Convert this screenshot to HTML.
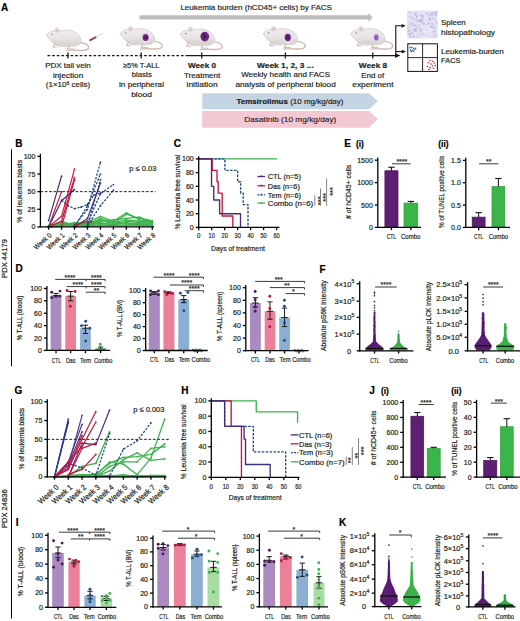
<!DOCTYPE html>
<html><head><meta charset="utf-8"><style>
html,body{margin:0;padding:0;background:#fff;}
svg{display:block;font-family:"Liberation Sans", sans-serif;}

</style></head><body>
<svg width="520" height="621" viewBox="0 0 520 621">
<defs><linearGradient id="mg" x1="0" y1="0" x2="0" y2="1"><stop offset="0" stop-color="#f1eeee"/><stop offset="0.55" stop-color="#e7e3e3"/><stop offset="1" stop-color="#d2cac9"/></linearGradient></defs>
<rect width="520" height="621" fill="#fff"/>
<text x="1" y="10.6" font-size="10" text-anchor="start" fill="#000" stroke="#000" stroke-width="0.17" font-weight="bold">A</text>
<text x="180.4" y="9.6" font-size="7.4" text-anchor="start" fill="#231f20" stroke="#231f20" stroke-width="0.17" textLength="151.6" lengthAdjust="spacingAndGlyphs">Leukemia burden (hCD45+ cells) by FACS</text>
<path d="M139.5,15.3 L368.5,15.3 L368.5,12.6 L372.6,17.4 L368.5,22 L368.5,19.6 L139.5,19.6 Z" fill="#bdbdc0"/>
<g transform="translate(46.7,35.0)">
<path d="M32,7.5 C38,7.5 42.5,10 41.8,13 C41,15.8 36,15.6 29,15.2 C25,15 22,15.2 20,15.6" fill="none" stroke="#d3b9b3" stroke-width="1.3" stroke-linecap="round"/>
<path d="M0,0 C1,-1.8 3.5,-3.4 6.5,-4 C9,-4.6 11,-4.4 13,-4.2 C18,-5.4 24,-5.2 28,-3 C32,-1 34.3,2.5 34.2,6 C34,9 31.5,11 27.5,11.2 L14,11.4 C11,11.3 8.5,10 6.5,8 C4.5,6 2,3.5 0,0 Z" fill="url(#mg)" stroke="#c6bcbb" stroke-width="0.6"/>
<path d="M24,10.8 C29,10.8 33.5,9 34,5 C34.6,8.6 31.8,11.2 27,11.3 Z" fill="#e3dcd4"/>
<path d="M12,11 C16,11.6 22,11.6 26,11 L26,10 C21,10.6 16,10.5 12,10 Z" fill="#e2dcdc"/>
<path d="M8,9 L6.4,11.8 L10,12.3" fill="none" stroke="#d6b8b2" stroke-width="1.1" stroke-linecap="round"/>
<path d="M22.5,10.8 L21,13.8 L27.5,14.1" fill="none" stroke="#d6b8b2" stroke-width="1.1" stroke-linecap="round"/>
<ellipse cx="10.2" cy="-4.8" rx="2.1" ry="2.4" fill="#ebdedd" stroke="#d3c3c2" stroke-width="0.5"/>
<ellipse cx="10.4" cy="-4.4" rx="1.1" ry="1.4" fill="#dcc4c4"/>
<circle cx="5.4" cy="-0.6" r="0.7" fill="#7b6c6c"/>
<circle cx="0.4" cy="0.4" r="0.6" fill="#dab8b8"/>
</g>
<line x1="89.50" y1="40.60" x2="96.30" y2="36.90" stroke="#8f4d47" stroke-width="2.0" stroke-linecap="butt"/>
<line x1="96.30" y1="36.90" x2="103.20" y2="33.00" stroke="#d6c4c4" stroke-width="0.9" stroke-linecap="butt"/>
<g transform="translate(120.3,33.6)">
<path d="M32,7.5 C38,7.5 42.5,10 41.8,13 C41,15.8 36,15.6 29,15.2 C25,15 22,15.2 20,15.6" fill="none" stroke="#d3b9b3" stroke-width="1.3" stroke-linecap="round"/>
<path d="M0,0 C1,-1.8 3.5,-3.4 6.5,-4 C9,-4.6 11,-4.4 13,-4.2 C18,-5.4 24,-5.2 28,-3 C32,-1 34.3,2.5 34.2,6 C34,9 31.5,11 27.5,11.2 L14,11.4 C11,11.3 8.5,10 6.5,8 C4.5,6 2,3.5 0,0 Z" fill="url(#mg)" stroke="#c6bcbb" stroke-width="0.6"/>
<path d="M24,10.8 C29,10.8 33.5,9 34,5 C34.6,8.6 31.8,11.2 27,11.3 Z" fill="#e3dcd4"/>
<path d="M12,11 C16,11.6 22,11.6 26,11 L26,10 C21,10.6 16,10.5 12,10 Z" fill="#e2dcdc"/>
<path d="M8,9 L6.4,11.8 L10,12.3" fill="none" stroke="#d6b8b2" stroke-width="1.1" stroke-linecap="round"/>
<path d="M22.5,10.8 L21,13.8 L27.5,14.1" fill="none" stroke="#d6b8b2" stroke-width="1.1" stroke-linecap="round"/>
<ellipse cx="10.2" cy="-4.8" rx="2.1" ry="2.4" fill="#ebdedd" stroke="#d3c3c2" stroke-width="0.5"/>
<ellipse cx="10.4" cy="-4.4" rx="1.1" ry="1.4" fill="#dcc4c4"/>
<circle cx="5.4" cy="-0.6" r="0.7" fill="#7b6c6c"/>
<circle cx="0.4" cy="0.4" r="0.6" fill="#dab8b8"/>
<ellipse cx="25.3" cy="3.9" rx="5.2" ry="5.800000000000001" fill="#ecdcec"/>
<ellipse cx="25.3" cy="3.9" rx="3.0" ry="3.6" fill="#6b2c7e"/>
<circle cx="25.18" cy="4.19" r="1.05" fill="#4a1660" opacity="0.55"/>
<circle cx="25.22" cy="3.77" r="1.05" fill="#4a1660" opacity="0.55"/>
<circle cx="24.66" cy="3.72" r="1.05" fill="#4a1660" opacity="0.55"/>
<circle cx="26.15" cy="4.29" r="1.05" fill="#4a1660" opacity="0.55"/>
<circle cx="26.06" cy="4.12" r="1.05" fill="#4a1660" opacity="0.55"/>
<circle cx="25.45" cy="3.98" r="1.05" fill="#4a1660" opacity="0.55"/>
<circle cx="23.98" cy="4.72" r="1.05" fill="#4a1660" opacity="0.55"/>
</g>
<g transform="translate(180.3,34.1)">
<path d="M32,7.5 C38,7.5 42.5,10 41.8,13 C41,15.8 36,15.6 29,15.2 C25,15 22,15.2 20,15.6" fill="none" stroke="#d3b9b3" stroke-width="1.3" stroke-linecap="round"/>
<path d="M0,0 C1,-1.8 3.5,-3.4 6.5,-4 C9,-4.6 11,-4.4 13,-4.2 C18,-5.4 24,-5.2 28,-3 C32,-1 34.3,2.5 34.2,6 C34,9 31.5,11 27.5,11.2 L14,11.4 C11,11.3 8.5,10 6.5,8 C4.5,6 2,3.5 0,0 Z" fill="url(#mg)" stroke="#c6bcbb" stroke-width="0.6"/>
<path d="M24,10.8 C29,10.8 33.5,9 34,5 C34.6,8.6 31.8,11.2 27,11.3 Z" fill="#e3dcd4"/>
<path d="M12,11 C16,11.6 22,11.6 26,11 L26,10 C21,10.6 16,10.5 12,10 Z" fill="#e2dcdc"/>
<path d="M8,9 L6.4,11.8 L10,12.3" fill="none" stroke="#d6b8b2" stroke-width="1.1" stroke-linecap="round"/>
<path d="M22.5,10.8 L21,13.8 L27.5,14.1" fill="none" stroke="#d6b8b2" stroke-width="1.1" stroke-linecap="round"/>
<ellipse cx="10.2" cy="-4.8" rx="2.1" ry="2.4" fill="#ebdedd" stroke="#d3c3c2" stroke-width="0.5"/>
<ellipse cx="10.4" cy="-4.4" rx="1.1" ry="1.4" fill="#dcc4c4"/>
<circle cx="5.4" cy="-0.6" r="0.7" fill="#7b6c6c"/>
<circle cx="0.4" cy="0.4" r="0.6" fill="#dab8b8"/>
<ellipse cx="24.5" cy="2.5" rx="4.4" ry="4.8" fill="#732a86"/>
<circle cx="24.92" cy="2.95" r="1.54" fill="#4a1660" opacity="0.55"/>
<circle cx="22.75" cy="0.54" r="1.54" fill="#4a1660" opacity="0.55"/>
<circle cx="23.57" cy="1.97" r="1.54" fill="#4a1660" opacity="0.55"/>
<circle cx="24.62" cy="2.48" r="1.54" fill="#4a1660" opacity="0.55"/>
<circle cx="24.98" cy="1.85" r="1.54" fill="#4a1660" opacity="0.55"/>
<circle cx="24.69" cy="2.77" r="1.54" fill="#4a1660" opacity="0.55"/>
<circle cx="23.73" cy="4.69" r="1.54" fill="#4a1660" opacity="0.55"/>
</g>
<g transform="translate(263.3,33.6)">
<path d="M32,7.5 C38,7.5 42.5,10 41.8,13 C41,15.8 36,15.6 29,15.2 C25,15 22,15.2 20,15.6" fill="none" stroke="#d3b9b3" stroke-width="1.3" stroke-linecap="round"/>
<path d="M0,0 C1,-1.8 3.5,-3.4 6.5,-4 C9,-4.6 11,-4.4 13,-4.2 C18,-5.4 24,-5.2 28,-3 C32,-1 34.3,2.5 34.2,6 C34,9 31.5,11 27.5,11.2 L14,11.4 C11,11.3 8.5,10 6.5,8 C4.5,6 2,3.5 0,0 Z" fill="url(#mg)" stroke="#c6bcbb" stroke-width="0.6"/>
<path d="M24,10.8 C29,10.8 33.5,9 34,5 C34.6,8.6 31.8,11.2 27,11.3 Z" fill="#e3dcd4"/>
<path d="M12,11 C16,11.6 22,11.6 26,11 L26,10 C21,10.6 16,10.5 12,10 Z" fill="#e2dcdc"/>
<path d="M8,9 L6.4,11.8 L10,12.3" fill="none" stroke="#d6b8b2" stroke-width="1.1" stroke-linecap="round"/>
<path d="M22.5,10.8 L21,13.8 L27.5,14.1" fill="none" stroke="#d6b8b2" stroke-width="1.1" stroke-linecap="round"/>
<ellipse cx="10.2" cy="-4.8" rx="2.1" ry="2.4" fill="#ebdedd" stroke="#d3c3c2" stroke-width="0.5"/>
<ellipse cx="10.4" cy="-4.4" rx="1.1" ry="1.4" fill="#dcc4c4"/>
<circle cx="5.4" cy="-0.6" r="0.7" fill="#7b6c6c"/>
<circle cx="0.4" cy="0.4" r="0.6" fill="#dab8b8"/>
<ellipse cx="24.5" cy="3.9" rx="5.300000000000001" ry="5.9" fill="#ecdcec"/>
<ellipse cx="24.5" cy="3.9" rx="3.1" ry="3.7" fill="#6b2c7e"/>
<circle cx="24.96" cy="5.07" r="1.08" fill="#4a1660" opacity="0.55"/>
<circle cx="24.05" cy="3.27" r="1.08" fill="#4a1660" opacity="0.55"/>
<circle cx="24.39" cy="3.86" r="1.08" fill="#4a1660" opacity="0.55"/>
<circle cx="24.86" cy="4.07" r="1.08" fill="#4a1660" opacity="0.55"/>
<circle cx="24.16" cy="3.04" r="1.08" fill="#4a1660" opacity="0.55"/>
<circle cx="24.07" cy="5.10" r="1.08" fill="#4a1660" opacity="0.55"/>
<circle cx="23.97" cy="4.09" r="1.08" fill="#4a1660" opacity="0.55"/>
</g>
<g transform="translate(350.8,33.6)">
<path d="M32,7.5 C38,7.5 42.5,10 41.8,13 C41,15.8 36,15.6 29,15.2 C25,15 22,15.2 20,15.6" fill="none" stroke="#d3b9b3" stroke-width="1.3" stroke-linecap="round"/>
<path d="M0,0 C1,-1.8 3.5,-3.4 6.5,-4 C9,-4.6 11,-4.4 13,-4.2 C18,-5.4 24,-5.2 28,-3 C32,-1 34.3,2.5 34.2,6 C34,9 31.5,11 27.5,11.2 L14,11.4 C11,11.3 8.5,10 6.5,8 C4.5,6 2,3.5 0,0 Z" fill="url(#mg)" stroke="#c6bcbb" stroke-width="0.6"/>
<path d="M24,10.8 C29,10.8 33.5,9 34,5 C34.6,8.6 31.8,11.2 27,11.3 Z" fill="#e3dcd4"/>
<path d="M12,11 C16,11.6 22,11.6 26,11 L26,10 C21,10.6 16,10.5 12,10 Z" fill="#e2dcdc"/>
<path d="M8,9 L6.4,11.8 L10,12.3" fill="none" stroke="#d6b8b2" stroke-width="1.1" stroke-linecap="round"/>
<path d="M22.5,10.8 L21,13.8 L27.5,14.1" fill="none" stroke="#d6b8b2" stroke-width="1.1" stroke-linecap="round"/>
<ellipse cx="10.2" cy="-4.8" rx="2.1" ry="2.4" fill="#ebdedd" stroke="#d3c3c2" stroke-width="0.5"/>
<ellipse cx="10.4" cy="-4.4" rx="1.1" ry="1.4" fill="#dcc4c4"/>
<circle cx="5.4" cy="-0.6" r="0.7" fill="#7b6c6c"/>
<circle cx="0.4" cy="0.4" r="0.6" fill="#dab8b8"/>
<ellipse cx="25.5" cy="3.9" rx="4.4" ry="5.300000000000001" fill="#e2d8ee"/>
<ellipse cx="25.5" cy="3.9" rx="2.2" ry="3.1" fill="#8a64a8"/>
</g>
<line x1="47.50" y1="55.60" x2="188.00" y2="55.60" stroke="#1a1a1a" stroke-width="1.3" stroke-dasharray="2.7,1.9" stroke-linecap="butt"/>
<line x1="188.00" y1="55.60" x2="396.00" y2="55.60" stroke="#1a1a1a" stroke-width="1.3" stroke-linecap="butt"/>
<path d="M395,53.2 L400.3,55.6 L395,58.1 Z" fill="#111"/>
<line x1="68.00" y1="52.40" x2="68.00" y2="58.50" stroke="#1a1a1a" stroke-width="1.3" stroke-linecap="butt"/>
<line x1="141.20" y1="52.40" x2="141.20" y2="58.50" stroke="#1a1a1a" stroke-width="1.3" stroke-linecap="butt"/>
<line x1="201.70" y1="52.40" x2="201.70" y2="58.50" stroke="#1a1a1a" stroke-width="1.3" stroke-linecap="butt"/>
<line x1="285.40" y1="52.40" x2="285.40" y2="58.50" stroke="#1a1a1a" stroke-width="1.3" stroke-linecap="butt"/>
<line x1="372.80" y1="52.40" x2="372.80" y2="58.50" stroke="#1a1a1a" stroke-width="1.3" stroke-linecap="butt"/>
<path d="M395.8,55.6 L395.8,25.8 L402.5,25.8" fill="none" stroke="#111" stroke-width="1.1"/>
<path d="M401.6,23.9 L405.6,25.8 L401.6,27.8 Z" fill="#111"/>
<path d="M395.8,51.6 L402.5,51.6" fill="none" stroke="#111" stroke-width="1.1"/>
<path d="M401.8,49.8 L405.8,51.6 L401.8,53.4 Z" fill="#111"/>
<text x="68.0" y="68.2" font-size="7.3" text-anchor="middle" fill="#231f20" stroke="#231f20" stroke-width="0.17" textLength="45.6" lengthAdjust="spacingAndGlyphs">PDX tail vein</text>
<text x="68.1" y="77.6" font-size="7.3" text-anchor="middle" fill="#231f20" stroke="#231f20" stroke-width="0.17" textLength="30.4" lengthAdjust="spacingAndGlyphs">injection</text>
<text x="68.0" y="87.4" font-size="7.3" text-anchor="middle" fill="#231f20" stroke="#231f20" stroke-width="0.17" textLength="44.4" lengthAdjust="spacingAndGlyphs">(1×10<tspan font-size="4.6" dy="-2.9">6</tspan><tspan dy="2.9"> cells)</tspan></text>
<text x="141.2" y="67.9" font-size="7.3" text-anchor="middle" fill="#231f20" stroke="#231f20" stroke-width="0.17" textLength="36.3" lengthAdjust="spacingAndGlyphs">≥5% T-ALL</text>
<text x="141.8" y="77.2" font-size="7.3" text-anchor="middle" fill="#231f20" stroke="#231f20" stroke-width="0.17" textLength="20.2" lengthAdjust="spacingAndGlyphs">blasts</text>
<text x="141.5" y="86.9" font-size="7.3" text-anchor="middle" fill="#231f20" stroke="#231f20" stroke-width="0.17" textLength="45.0" lengthAdjust="spacingAndGlyphs">in peripheral</text>
<text x="141.5" y="96.6" font-size="7.3" text-anchor="middle" fill="#231f20" stroke="#231f20" stroke-width="0.17" textLength="20.7" lengthAdjust="spacingAndGlyphs">blood</text>
<text x="202.0" y="67.9" font-size="7.3" text-anchor="middle" fill="#231f20" stroke="#231f20" stroke-width="0.17" font-weight="bold" textLength="28.1" lengthAdjust="spacingAndGlyphs">Week 0</text>
<text x="202.1" y="77.6" font-size="7.3" text-anchor="middle" fill="#231f20" stroke="#231f20" stroke-width="0.17" textLength="36.2" lengthAdjust="spacingAndGlyphs">Treatment</text>
<text x="202.1" y="87.4" font-size="7.3" text-anchor="middle" fill="#231f20" stroke="#231f20" stroke-width="0.17" textLength="31.2" lengthAdjust="spacingAndGlyphs">initiation</text>
<text x="285.4" y="67.9" font-size="7.3" text-anchor="middle" fill="#231f20" stroke="#231f20" stroke-width="0.17" font-weight="bold" textLength="56.8" lengthAdjust="spacingAndGlyphs">Week 1, 2, 3 ...</text>
<text x="285.6" y="77.4" font-size="7.3" text-anchor="middle" fill="#231f20" stroke="#231f20" stroke-width="0.17" textLength="88.8" lengthAdjust="spacingAndGlyphs">Weekly health and FACS</text>
<text x="285.6" y="87.2" font-size="7.3" text-anchor="middle" fill="#231f20" stroke="#231f20" stroke-width="0.17" textLength="100.3" lengthAdjust="spacingAndGlyphs">analysis of peripheral blood</text>
<text x="373.0" y="67.9" font-size="7.3" text-anchor="middle" fill="#231f20" stroke="#231f20" stroke-width="0.17" font-weight="bold" textLength="28.3" lengthAdjust="spacingAndGlyphs">Week 8</text>
<text x="372.7" y="77.6" font-size="7.3" text-anchor="middle" fill="#231f20" stroke="#231f20" stroke-width="0.17" textLength="23.0" lengthAdjust="spacingAndGlyphs">End of</text>
<text x="372.9" y="87.4" font-size="7.3" text-anchor="middle" fill="#231f20" stroke="#231f20" stroke-width="0.17" textLength="41.3" lengthAdjust="spacingAndGlyphs">experiment</text>
<path d="M202.2,93.3 L369,93.3 L377.8,101.2 L369,109.2 L202.2,109.2 Z" fill="#c5d4e2"/>
<path d="M202.2,111 L369,111 L377.8,119.3 L369,127.7 L202.2,127.7 Z" fill="#f2c9d2"/>
<text x="236.5" y="103.6" font-size="7.3" text-anchor="start" fill="#231f20" stroke="#231f20" stroke-width="0.17" textLength="107" lengthAdjust="spacingAndGlyphs"><tspan font-weight="bold">Temsirolimus</tspan> (10 mg/kg/day)</text>
<text x="244.3" y="121.6" font-size="7.3" text-anchor="start" fill="#3a2228" stroke="#3a2228" stroke-width="0.17" textLength="92" lengthAdjust="spacingAndGlyphs">Dasatinib (10 mg/kg/day)</text>
<rect x="407.10" y="10.60" width="30.70" height="27.90" fill="#e6e3f3" stroke="none" stroke-width="0"/>
<ellipse cx="430.9" cy="29.8" rx="0.8" ry="0.9" fill="#f4f3fa" opacity="0.75"/>
<ellipse cx="422.1" cy="20.2" rx="1.1" ry="0.9" fill="#c4bee6" opacity="0.75"/>
<ellipse cx="411.1" cy="22.2" rx="1.5" ry="0.5" fill="#d8d4ef" opacity="0.75"/>
<ellipse cx="420.0" cy="36.9" rx="0.6" ry="0.8" fill="#b9b2e0" opacity="0.75"/>
<ellipse cx="417.6" cy="20.4" rx="1.1" ry="1.0" fill="#c4bee6" opacity="0.75"/>
<ellipse cx="432.2" cy="36.4" rx="1.1" ry="0.9" fill="#c4bee6" opacity="0.75"/>
<ellipse cx="429.0" cy="19.3" rx="1.3" ry="0.9" fill="#d8d4ef" opacity="0.75"/>
<ellipse cx="415.9" cy="21.3" rx="1.4" ry="0.4" fill="#d8d4ef" opacity="0.75"/>
<ellipse cx="418.0" cy="27.4" rx="1.1" ry="0.6" fill="#b9b2e0" opacity="0.75"/>
<ellipse cx="411.4" cy="17.6" rx="1.0" ry="1.1" fill="#c4bee6" opacity="0.75"/>
<ellipse cx="412.5" cy="21.7" rx="0.9" ry="0.5" fill="#d8d4ef" opacity="0.75"/>
<ellipse cx="432.9" cy="18.4" rx="1.0" ry="0.7" fill="#d8d4ef" opacity="0.75"/>
<ellipse cx="435.7" cy="15.0" rx="0.7" ry="0.6" fill="#cdc8ea" opacity="0.75"/>
<ellipse cx="408.0" cy="33.3" rx="0.7" ry="0.6" fill="#cdc8ea" opacity="0.75"/>
<ellipse cx="419.9" cy="20.9" rx="1.2" ry="1.2" fill="#aea6db" opacity="0.75"/>
<ellipse cx="432.8" cy="36.6" rx="1.4" ry="1.0" fill="#d8d4ef" opacity="0.75"/>
<ellipse cx="434.0" cy="32.0" rx="1.6" ry="1.0" fill="#d8d4ef" opacity="0.75"/>
<ellipse cx="419.3" cy="21.5" rx="1.1" ry="0.7" fill="#cdc8ea" opacity="0.75"/>
<ellipse cx="409.6" cy="16.5" rx="0.7" ry="0.7" fill="#c4bee6" opacity="0.75"/>
<ellipse cx="410.6" cy="26.2" rx="1.2" ry="1.2" fill="#f4f3fa" opacity="0.75"/>
<ellipse cx="408.3" cy="34.5" rx="1.3" ry="0.5" fill="#b9b2e0" opacity="0.75"/>
<ellipse cx="435.6" cy="27.2" rx="1.1" ry="0.5" fill="#d8d4ef" opacity="0.75"/>
<ellipse cx="436.7" cy="23.5" rx="0.8" ry="0.5" fill="#c4bee6" opacity="0.75"/>
<ellipse cx="429.6" cy="30.9" rx="1.1" ry="1.0" fill="#f4f3fa" opacity="0.75"/>
<ellipse cx="408.3" cy="36.6" rx="1.2" ry="0.5" fill="#f4f3fa" opacity="0.75"/>
<ellipse cx="434.4" cy="31.4" rx="0.9" ry="0.9" fill="#c4bee6" opacity="0.75"/>
<ellipse cx="428.0" cy="18.0" rx="1.0" ry="0.5" fill="#cdc8ea" opacity="0.75"/>
<ellipse cx="423.2" cy="31.9" rx="0.9" ry="0.6" fill="#cdc8ea" opacity="0.75"/>
<ellipse cx="431.2" cy="33.0" rx="1.5" ry="0.6" fill="#f4f3fa" opacity="0.75"/>
<ellipse cx="422.0" cy="30.6" rx="1.8" ry="1.0" fill="#d8d4ef" opacity="0.75"/>
<ellipse cx="415.2" cy="29.6" rx="1.7" ry="0.8" fill="#aea6db" opacity="0.75"/>
<ellipse cx="436.5" cy="36.7" rx="1.0" ry="0.6" fill="#cdc8ea" opacity="0.75"/>
<ellipse cx="421.4" cy="20.0" rx="1.1" ry="1.2" fill="#f4f3fa" opacity="0.75"/>
<ellipse cx="432.2" cy="23.8" rx="1.3" ry="1.0" fill="#c4bee6" opacity="0.75"/>
<ellipse cx="432.1" cy="14.1" rx="1.0" ry="1.0" fill="#cdc8ea" opacity="0.75"/>
<ellipse cx="421.6" cy="15.7" rx="1.5" ry="0.7" fill="#aea6db" opacity="0.75"/>
<ellipse cx="419.2" cy="21.7" rx="1.7" ry="1.0" fill="#cdc8ea" opacity="0.75"/>
<ellipse cx="436.7" cy="11.6" rx="0.8" ry="0.8" fill="#aea6db" opacity="0.75"/>
<ellipse cx="411.9" cy="33.2" rx="1.8" ry="0.9" fill="#b9b2e0" opacity="0.75"/>
<ellipse cx="412.2" cy="25.7" rx="0.5" ry="1.0" fill="#aea6db" opacity="0.75"/>
<ellipse cx="426.6" cy="25.1" rx="1.7" ry="0.7" fill="#cdc8ea" opacity="0.75"/>
<ellipse cx="431.8" cy="16.6" rx="0.8" ry="0.6" fill="#cdc8ea" opacity="0.75"/>
<ellipse cx="430.0" cy="19.7" rx="1.2" ry="1.1" fill="#c4bee6" opacity="0.75"/>
<ellipse cx="434.3" cy="20.5" rx="1.1" ry="0.9" fill="#f4f3fa" opacity="0.75"/>
<ellipse cx="419.9" cy="35.7" rx="1.2" ry="0.8" fill="#f4f3fa" opacity="0.75"/>
<ellipse cx="422.6" cy="34.5" rx="1.5" ry="0.9" fill="#cdc8ea" opacity="0.75"/>
<ellipse cx="412.6" cy="23.7" rx="1.4" ry="0.8" fill="#b9b2e0" opacity="0.75"/>
<ellipse cx="427.6" cy="25.2" rx="1.1" ry="1.0" fill="#f4f3fa" opacity="0.75"/>
<ellipse cx="409.3" cy="16.1" rx="0.6" ry="0.5" fill="#d8d4ef" opacity="0.75"/>
<ellipse cx="424.1" cy="31.4" rx="1.7" ry="0.8" fill="#f4f3fa" opacity="0.75"/>
<ellipse cx="436.1" cy="27.3" rx="0.8" ry="0.6" fill="#f4f3fa" opacity="0.75"/>
<ellipse cx="423.2" cy="23.8" rx="1.7" ry="1.0" fill="#b9b2e0" opacity="0.75"/>
<ellipse cx="434.6" cy="35.0" rx="0.8" ry="0.8" fill="#d8d4ef" opacity="0.75"/>
<ellipse cx="411.2" cy="22.8" rx="0.6" ry="0.6" fill="#c4bee6" opacity="0.75"/>
<ellipse cx="413.8" cy="19.1" rx="0.7" ry="1.0" fill="#aea6db" opacity="0.75"/>
<ellipse cx="426.5" cy="20.8" rx="0.8" ry="0.5" fill="#d8d4ef" opacity="0.75"/>
<ellipse cx="414.0" cy="36.6" rx="1.0" ry="0.8" fill="#aea6db" opacity="0.75"/>
<ellipse cx="432.0" cy="15.3" rx="1.1" ry="0.8" fill="#b9b2e0" opacity="0.75"/>
<ellipse cx="419.9" cy="20.5" rx="0.6" ry="0.7" fill="#b9b2e0" opacity="0.75"/>
<ellipse cx="423.8" cy="22.8" rx="0.5" ry="0.7" fill="#f4f3fa" opacity="0.75"/>
<ellipse cx="416.3" cy="36.8" rx="0.6" ry="1.1" fill="#cdc8ea" opacity="0.75"/>
<ellipse cx="436.1" cy="13.7" rx="0.8" ry="0.4" fill="#cdc8ea" opacity="0.75"/>
<ellipse cx="415.5" cy="14.4" rx="1.0" ry="1.1" fill="#b9b2e0" opacity="0.75"/>
<ellipse cx="419.5" cy="25.4" rx="1.2" ry="0.8" fill="#b9b2e0" opacity="0.75"/>
<ellipse cx="410.2" cy="12.5" rx="1.4" ry="0.7" fill="#c4bee6" opacity="0.75"/>
<ellipse cx="415.5" cy="11.4" rx="0.6" ry="0.6" fill="#f4f3fa" opacity="0.75"/>
<ellipse cx="432.7" cy="12.7" rx="1.6" ry="0.8" fill="#b9b2e0" opacity="0.75"/>
<ellipse cx="436.7" cy="22.2" rx="0.8" ry="0.9" fill="#c4bee6" opacity="0.75"/>
<ellipse cx="423.0" cy="17.3" rx="0.6" ry="0.5" fill="#c4bee6" opacity="0.75"/>
<ellipse cx="412.9" cy="36.1" rx="1.3" ry="0.8" fill="#cdc8ea" opacity="0.75"/>
<ellipse cx="416.1" cy="24.4" rx="0.7" ry="0.7" fill="#c4bee6" opacity="0.75"/>
<ellipse cx="436.7" cy="11.9" rx="0.5" ry="0.8" fill="#cdc8ea" opacity="0.75"/>
<ellipse cx="422.7" cy="17.5" rx="1.1" ry="0.9" fill="#aea6db" opacity="0.75"/>
<ellipse cx="420.3" cy="24.3" rx="1.6" ry="0.7" fill="#f4f3fa" opacity="0.75"/>
<ellipse cx="416.6" cy="16.7" rx="0.8" ry="0.6" fill="#aea6db" opacity="0.75"/>
<ellipse cx="429.0" cy="14.7" rx="1.8" ry="1.2" fill="#cdc8ea" opacity="0.75"/>
<ellipse cx="408.0" cy="27.8" rx="1.0" ry="0.7" fill="#c4bee6" opacity="0.75"/>
<ellipse cx="410.1" cy="33.6" rx="1.6" ry="0.9" fill="#b9b2e0" opacity="0.75"/>
<ellipse cx="425.1" cy="29.6" rx="0.6" ry="0.5" fill="#b9b2e0" opacity="0.75"/>
<ellipse cx="420.7" cy="18.0" rx="1.8" ry="1.2" fill="#f4f3fa" opacity="0.75"/>
<ellipse cx="417.1" cy="11.8" rx="1.6" ry="0.6" fill="#cdc8ea" opacity="0.75"/>
<ellipse cx="407.6" cy="21.2" rx="0.6" ry="0.8" fill="#cdc8ea" opacity="0.75"/>
<ellipse cx="414.9" cy="31.9" rx="0.6" ry="1.1" fill="#cdc8ea" opacity="0.75"/>
<ellipse cx="419.3" cy="12.0" rx="0.5" ry="0.6" fill="#cdc8ea" opacity="0.75"/>
<ellipse cx="410.1" cy="36.8" rx="1.6" ry="0.5" fill="#aea6db" opacity="0.75"/>
<ellipse cx="430.6" cy="27.0" rx="1.5" ry="1.0" fill="#d8d4ef" opacity="0.75"/>
<ellipse cx="412.0" cy="30.5" rx="1.3" ry="0.4" fill="#aea6db" opacity="0.75"/>
<ellipse cx="433.7" cy="27.8" rx="1.5" ry="1.0" fill="#cdc8ea" opacity="0.75"/>
<ellipse cx="434.3" cy="31.2" rx="1.2" ry="1.1" fill="#c4bee6" opacity="0.75"/>
<ellipse cx="431.8" cy="26.7" rx="1.7" ry="0.9" fill="#aea6db" opacity="0.75"/>
<ellipse cx="426.4" cy="13.2" rx="0.6" ry="0.9" fill="#c4bee6" opacity="0.75"/>
<ellipse cx="418.6" cy="23.1" rx="0.6" ry="0.4" fill="#f4f3fa" opacity="0.75"/>
<ellipse cx="427.5" cy="24.1" rx="0.5" ry="1.0" fill="#aea6db" opacity="0.75"/>
<ellipse cx="434.9" cy="35.1" rx="0.6" ry="0.8" fill="#aea6db" opacity="0.75"/>
<ellipse cx="429.2" cy="17.7" rx="0.6" ry="0.6" fill="#aea6db" opacity="0.75"/>
<ellipse cx="429.8" cy="17.1" rx="1.3" ry="0.8" fill="#d8d4ef" opacity="0.75"/>
<ellipse cx="409.8" cy="35.5" rx="0.9" ry="0.4" fill="#aea6db" opacity="0.75"/>
<ellipse cx="426.4" cy="13.0" rx="0.7" ry="0.6" fill="#aea6db" opacity="0.75"/>
<ellipse cx="427.9" cy="27.7" rx="0.7" ry="0.8" fill="#d8d4ef" opacity="0.75"/>
<ellipse cx="415.5" cy="29.0" rx="1.4" ry="0.9" fill="#b9b2e0" opacity="0.75"/>
<ellipse cx="428.4" cy="18.6" rx="1.1" ry="1.0" fill="#f4f3fa" opacity="0.75"/>
<ellipse cx="413.4" cy="37.3" rx="1.7" ry="0.4" fill="#d8d4ef" opacity="0.75"/>
<ellipse cx="409.8" cy="24.6" rx="1.8" ry="1.2" fill="#d8d4ef" opacity="0.75"/>
<ellipse cx="413.7" cy="36.4" rx="0.8" ry="0.9" fill="#cdc8ea" opacity="0.75"/>
<ellipse cx="429.5" cy="18.0" rx="1.0" ry="0.9" fill="#aea6db" opacity="0.75"/>
<ellipse cx="422.5" cy="34.8" rx="1.4" ry="0.6" fill="#d8d4ef" opacity="0.75"/>
<ellipse cx="419.1" cy="15.2" rx="1.7" ry="0.9" fill="#d8d4ef" opacity="0.75"/>
<ellipse cx="416.4" cy="14.7" rx="0.9" ry="0.7" fill="#b9b2e0" opacity="0.75"/>
<ellipse cx="407.7" cy="31.2" rx="0.7" ry="0.5" fill="#cdc8ea" opacity="0.75"/>
<ellipse cx="428.5" cy="35.2" rx="0.9" ry="0.7" fill="#d8d4ef" opacity="0.75"/>
<ellipse cx="419.0" cy="34.4" rx="0.6" ry="1.1" fill="#b9b2e0" opacity="0.75"/>
<ellipse cx="432.6" cy="18.5" rx="0.6" ry="0.9" fill="#aea6db" opacity="0.75"/>
<ellipse cx="435.0" cy="17.6" rx="0.8" ry="0.8" fill="#cdc8ea" opacity="0.75"/>
<ellipse cx="430.3" cy="32.1" rx="1.1" ry="0.4" fill="#aea6db" opacity="0.75"/>
<ellipse cx="419.3" cy="34.5" rx="1.2" ry="0.6" fill="#c4bee6" opacity="0.75"/>
<ellipse cx="409.0" cy="30.7" rx="1.1" ry="1.0" fill="#aea6db" opacity="0.75"/>
<ellipse cx="433.1" cy="24.0" rx="1.7" ry="0.8" fill="#cdc8ea" opacity="0.75"/>
<ellipse cx="421.4" cy="20.2" rx="0.9" ry="1.0" fill="#aea6db" opacity="0.75"/>
<ellipse cx="415.2" cy="28.6" rx="0.9" ry="0.8" fill="#d8d4ef" opacity="0.75"/>
<ellipse cx="411.1" cy="28.3" rx="0.6" ry="0.8" fill="#d8d4ef" opacity="0.75"/>
<ellipse cx="423.7" cy="23.1" rx="0.9" ry="1.0" fill="#d8d4ef" opacity="0.75"/>
<ellipse cx="411.7" cy="16.1" rx="0.6" ry="0.7" fill="#c4bee6" opacity="0.75"/>
<ellipse cx="417.0" cy="20.8" rx="1.6" ry="0.6" fill="#c4bee6" opacity="0.75"/>
<ellipse cx="429.6" cy="22.0" rx="1.0" ry="0.8" fill="#d8d4ef" opacity="0.75"/>
<ellipse cx="415.5" cy="31.2" rx="1.1" ry="0.9" fill="#b9b2e0" opacity="0.75"/>
<ellipse cx="411.3" cy="24.5" rx="1.3" ry="1.1" fill="#cdc8ea" opacity="0.75"/>
<ellipse cx="410.3" cy="35.1" rx="1.0" ry="0.9" fill="#d8d4ef" opacity="0.75"/>
<ellipse cx="435.6" cy="33.8" rx="1.6" ry="0.4" fill="#c4bee6" opacity="0.75"/>
<ellipse cx="420.1" cy="31.5" rx="1.5" ry="1.2" fill="#d8d4ef" opacity="0.75"/>
<ellipse cx="407.6" cy="21.5" rx="0.6" ry="1.1" fill="#d8d4ef" opacity="0.75"/>
<ellipse cx="436.1" cy="17.6" rx="0.6" ry="0.5" fill="#f4f3fa" opacity="0.75"/>
<ellipse cx="436.1" cy="13.8" rx="1.4" ry="1.0" fill="#d8d4ef" opacity="0.75"/>
<ellipse cx="410.1" cy="31.9" rx="0.5" ry="0.5" fill="#f4f3fa" opacity="0.75"/>
<ellipse cx="434.6" cy="28.3" rx="0.9" ry="0.5" fill="#b9b2e0" opacity="0.75"/>
<ellipse cx="423.1" cy="22.7" rx="1.5" ry="0.5" fill="#b9b2e0" opacity="0.75"/>
<ellipse cx="423.0" cy="26.6" rx="1.0" ry="0.6" fill="#f4f3fa" opacity="0.75"/>
<ellipse cx="407.6" cy="25.4" rx="0.6" ry="0.6" fill="#b9b2e0" opacity="0.75"/>
<ellipse cx="426.5" cy="34.8" rx="1.1" ry="0.6" fill="#cdc8ea" opacity="0.75"/>
<ellipse cx="408.5" cy="22.0" rx="1.3" ry="0.4" fill="#cdc8ea" opacity="0.75"/>
<ellipse cx="422.2" cy="29.1" rx="1.0" ry="0.6" fill="#aea6db" opacity="0.75"/>
<ellipse cx="420.0" cy="20.9" rx="1.1" ry="1.0" fill="#aea6db" opacity="0.75"/>
<ellipse cx="419.9" cy="29.3" rx="0.8" ry="1.0" fill="#aea6db" opacity="0.75"/>
<ellipse cx="432.4" cy="12.7" rx="1.1" ry="0.6" fill="#cdc8ea" opacity="0.75"/>
<ellipse cx="414.4" cy="16.9" rx="1.5" ry="0.6" fill="#f4f3fa" opacity="0.75"/>
<ellipse cx="422.1" cy="16.0" rx="0.8" ry="0.7" fill="#aea6db" opacity="0.75"/>
<ellipse cx="409.3" cy="27.0" rx="1.7" ry="0.4" fill="#c4bee6" opacity="0.75"/>
<ellipse cx="436.1" cy="14.7" rx="0.6" ry="0.4" fill="#d8d4ef" opacity="0.75"/>
<ellipse cx="420.8" cy="30.1" rx="0.9" ry="0.5" fill="#c4bee6" opacity="0.75"/>
<ellipse cx="434.9" cy="19.8" rx="0.7" ry="1.1" fill="#aea6db" opacity="0.75"/>
<ellipse cx="421.3" cy="19.3" rx="1.4" ry="1.1" fill="#b9b2e0" opacity="0.75"/>
<ellipse cx="420.6" cy="13.8" rx="0.6" ry="0.5" fill="#d8d4ef" opacity="0.75"/>
<ellipse cx="435.6" cy="14.2" rx="1.8" ry="0.6" fill="#b9b2e0" opacity="0.75"/>
<ellipse cx="430.1" cy="19.2" rx="1.5" ry="0.5" fill="#aea6db" opacity="0.75"/>
<ellipse cx="421.5" cy="21.0" rx="1.7" ry="0.6" fill="#b9b2e0" opacity="0.75"/>
<ellipse cx="429.2" cy="23.7" rx="1.3" ry="0.6" fill="#aea6db" opacity="0.75"/>
<ellipse cx="430.1" cy="12.0" rx="0.5" ry="0.5" fill="#c4bee6" opacity="0.75"/>
<ellipse cx="415.1" cy="31.1" rx="1.7" ry="0.7" fill="#b9b2e0" opacity="0.75"/>
<ellipse cx="417.4" cy="36.7" rx="0.6" ry="1.0" fill="#aea6db" opacity="0.75"/>
<ellipse cx="416.9" cy="18.3" rx="0.5" ry="1.0" fill="#aea6db" opacity="0.75"/>
<ellipse cx="435.3" cy="12.7" rx="1.6" ry="0.5" fill="#aea6db" opacity="0.75"/>
<ellipse cx="435.6" cy="36.7" rx="1.0" ry="0.6" fill="#d8d4ef" opacity="0.75"/>
<ellipse cx="431.5" cy="14.5" rx="1.1" ry="0.4" fill="#aea6db" opacity="0.75"/>
<ellipse cx="416.5" cy="29.6" rx="0.7" ry="0.6" fill="#b9b2e0" opacity="0.75"/>
<ellipse cx="421.1" cy="32.1" rx="1.3" ry="0.8" fill="#d8d4ef" opacity="0.75"/>
<ellipse cx="429.7" cy="17.6" rx="0.6" ry="0.4" fill="#f4f3fa" opacity="0.75"/>
<ellipse cx="423.6" cy="15.2" rx="1.1" ry="0.5" fill="#c4bee6" opacity="0.75"/>
<ellipse cx="415.4" cy="13.2" rx="0.6" ry="0.8" fill="#aea6db" opacity="0.75"/>
<ellipse cx="436.1" cy="15.6" rx="0.7" ry="0.8" fill="#aea6db" opacity="0.75"/>
<ellipse cx="414.5" cy="25.4" rx="1.5" ry="1.0" fill="#b9b2e0" opacity="0.75"/>
<ellipse cx="416.2" cy="26.2" rx="1.0" ry="1.0" fill="#cdc8ea" opacity="0.75"/>
<rect x="407.80" y="43.80" width="29.60" height="27.60" fill="#fff" stroke="#111" stroke-width="1.0"/>
<line x1="422.60" y1="43.80" x2="422.60" y2="71.40" stroke="#111" stroke-width="0.9" stroke-linecap="butt"/>
<line x1="407.80" y1="57.60" x2="437.40" y2="57.60" stroke="#111" stroke-width="0.9" stroke-linecap="butt"/>
<circle cx="410.20" cy="47.60" r="0.8" fill="#2a5b9c"/>
<circle cx="411.80" cy="47.20" r="0.8" fill="#2a5b9c"/>
<circle cx="413.40" cy="48.20" r="0.8" fill="#2a5b9c"/>
<circle cx="410.60" cy="49.90" r="0.8" fill="#2a5b9c"/>
<circle cx="412.40" cy="50.60" r="0.8" fill="#2a5b9c"/>
<circle cx="414.60" cy="49.60" r="0.8" fill="#2a5b9c"/>
<circle cx="411.20" cy="51.40" r="0.8" fill="#2a5b9c"/>
<circle cx="415.60" cy="48.40" r="0.8" fill="#2a5b9c"/>
<circle cx="413.60" cy="51.20" r="0.8" fill="#2a5b9c"/>
<circle cx="430.00" cy="60.50" r="0.8" fill="#c0263d"/>
<circle cx="432.80" cy="61.20" r="0.8" fill="#c0263d"/>
<circle cx="428.20" cy="62.80" r="0.8" fill="#c0263d"/>
<circle cx="431.00" cy="64.00" r="0.8" fill="#c0263d"/>
<circle cx="434.20" cy="63.00" r="0.8" fill="#c0263d"/>
<circle cx="427.60" cy="66.50" r="0.8" fill="#c0263d"/>
<circle cx="430.20" cy="67.60" r="0.8" fill="#c0263d"/>
<circle cx="433.60" cy="68.20" r="0.8" fill="#c0263d"/>
<circle cx="435.20" cy="65.60" r="0.8" fill="#c0263d"/>
<circle cx="429.00" cy="69.60" r="0.8" fill="#c0263d"/>
<circle cx="432.40" cy="66.00" r="0.8" fill="#c0263d"/>
<text x="441" y="25.4" font-size="7.3" text-anchor="start" fill="#231f20" stroke="#231f20" stroke-width="0.17" textLength="24.8" lengthAdjust="spacingAndGlyphs">Spleen</text>
<text x="441" y="35.0" font-size="7.3" text-anchor="start" fill="#231f20" stroke="#231f20" stroke-width="0.17" textLength="54" lengthAdjust="spacingAndGlyphs">histopathology</text>
<text x="441" y="53.6" font-size="7.3" text-anchor="start" fill="#231f20" stroke="#231f20" stroke-width="0.17" textLength="62.8" lengthAdjust="spacingAndGlyphs">Leukemia-burden</text>
<text x="441" y="63.4" font-size="7.3" text-anchor="start" fill="#231f20" stroke="#231f20" stroke-width="0.17" textLength="19.5" lengthAdjust="spacingAndGlyphs">FACS</text>
<line x1="11.50" y1="149.40" x2="11.50" y2="366.20" stroke="#000" stroke-width="1" stroke-linecap="butt"/>
<line x1="11.50" y1="399.00" x2="11.50" y2="618.50" stroke="#000" stroke-width="1" stroke-linecap="butt"/>
<text x="7.1" y="258.5" font-size="7.6" text-anchor="middle" fill="#231f20" stroke="#231f20" stroke-width="0.2" transform="rotate(-90 7.1 258.5)">PDX 44179</text>
<text x="7.1" y="508.7" font-size="7.6" text-anchor="middle" fill="#231f20" stroke="#231f20" stroke-width="0.2" transform="rotate(-90 7.1 508.7)">PDX 24836</text>
<text x="15.2" y="147.2" font-size="10" text-anchor="start" fill="#000" stroke="#000" stroke-width="0.2" font-weight="bold">B</text>
<polyline points="48.60,226.90 61.56,224.78 74.52,225.49 87.48,224.78 100.44,223.38 113.40,224.08 126.36,222.67 139.32,224.78 152.28,224.78" fill="none" stroke="#3cb44b" stroke-width="1.3" stroke-linejoin="round"/>
<circle cx="48.60" cy="226.90" r="0.9" fill="#3cb44b"/>
<circle cx="61.56" cy="224.78" r="0.9" fill="#3cb44b"/>
<circle cx="74.52" cy="225.49" r="0.9" fill="#3cb44b"/>
<circle cx="87.48" cy="224.78" r="0.9" fill="#3cb44b"/>
<circle cx="100.44" cy="223.38" r="0.9" fill="#3cb44b"/>
<circle cx="113.40" cy="224.08" r="0.9" fill="#3cb44b"/>
<circle cx="126.36" cy="222.67" r="0.9" fill="#3cb44b"/>
<circle cx="139.32" cy="224.78" r="0.9" fill="#3cb44b"/>
<circle cx="152.28" cy="224.78" r="0.9" fill="#3cb44b"/>
<polyline points="48.60,226.90 61.56,226.19 74.52,224.78 87.48,225.49 100.44,225.49 113.40,224.78 126.36,225.49 139.32,223.38 152.28,222.67" fill="none" stroke="#3cb44b" stroke-width="1.3" stroke-linejoin="round"/>
<circle cx="48.60" cy="226.90" r="0.9" fill="#3cb44b"/>
<circle cx="61.56" cy="226.19" r="0.9" fill="#3cb44b"/>
<circle cx="74.52" cy="224.78" r="0.9" fill="#3cb44b"/>
<circle cx="87.48" cy="225.49" r="0.9" fill="#3cb44b"/>
<circle cx="100.44" cy="225.49" r="0.9" fill="#3cb44b"/>
<circle cx="113.40" cy="224.78" r="0.9" fill="#3cb44b"/>
<circle cx="126.36" cy="225.49" r="0.9" fill="#3cb44b"/>
<circle cx="139.32" cy="223.38" r="0.9" fill="#3cb44b"/>
<circle cx="152.28" cy="222.67" r="0.9" fill="#3cb44b"/>
<polyline points="48.60,226.90 61.56,223.38 74.52,224.78 87.48,222.67 100.44,216.33 113.40,221.26 126.36,212.80 139.32,219.85 152.28,221.26" fill="none" stroke="#3cb44b" stroke-width="1.3" stroke-linejoin="round"/>
<circle cx="48.60" cy="226.90" r="0.9" fill="#3cb44b"/>
<circle cx="61.56" cy="223.38" r="0.9" fill="#3cb44b"/>
<circle cx="74.52" cy="224.78" r="0.9" fill="#3cb44b"/>
<circle cx="87.48" cy="222.67" r="0.9" fill="#3cb44b"/>
<circle cx="100.44" cy="216.33" r="0.9" fill="#3cb44b"/>
<circle cx="113.40" cy="221.26" r="0.9" fill="#3cb44b"/>
<circle cx="126.36" cy="212.80" r="0.9" fill="#3cb44b"/>
<circle cx="139.32" cy="219.85" r="0.9" fill="#3cb44b"/>
<circle cx="152.28" cy="221.26" r="0.9" fill="#3cb44b"/>
<polyline points="48.60,226.90 61.56,221.26 74.52,225.49 87.48,224.08 100.44,219.85 113.40,223.38 126.36,214.21 139.32,218.44 152.28,220.56" fill="none" stroke="#3cb44b" stroke-width="1.3" stroke-linejoin="round"/>
<circle cx="48.60" cy="226.90" r="0.9" fill="#3cb44b"/>
<circle cx="61.56" cy="221.26" r="0.9" fill="#3cb44b"/>
<circle cx="74.52" cy="225.49" r="0.9" fill="#3cb44b"/>
<circle cx="87.48" cy="224.08" r="0.9" fill="#3cb44b"/>
<circle cx="100.44" cy="219.85" r="0.9" fill="#3cb44b"/>
<circle cx="113.40" cy="223.38" r="0.9" fill="#3cb44b"/>
<circle cx="126.36" cy="214.21" r="0.9" fill="#3cb44b"/>
<circle cx="139.32" cy="218.44" r="0.9" fill="#3cb44b"/>
<circle cx="152.28" cy="220.56" r="0.9" fill="#3cb44b"/>
<polyline points="48.60,225.49 61.56,224.78 74.52,222.67 87.48,225.49 100.44,221.26 113.40,219.85 126.36,218.44 139.32,217.03 152.28,222.67" fill="none" stroke="#3cb44b" stroke-width="1.3" stroke-linejoin="round"/>
<circle cx="48.60" cy="225.49" r="0.9" fill="#3cb44b"/>
<circle cx="61.56" cy="224.78" r="0.9" fill="#3cb44b"/>
<circle cx="74.52" cy="222.67" r="0.9" fill="#3cb44b"/>
<circle cx="87.48" cy="225.49" r="0.9" fill="#3cb44b"/>
<circle cx="100.44" cy="221.26" r="0.9" fill="#3cb44b"/>
<circle cx="113.40" cy="219.85" r="0.9" fill="#3cb44b"/>
<circle cx="126.36" cy="218.44" r="0.9" fill="#3cb44b"/>
<circle cx="139.32" cy="217.03" r="0.9" fill="#3cb44b"/>
<circle cx="152.28" cy="222.67" r="0.9" fill="#3cb44b"/>
<polyline points="48.60,226.90 61.56,225.49 74.52,224.08 87.48,221.26 100.44,222.67 113.40,224.78 126.36,221.26 139.32,222.67 152.28,223.38" fill="none" stroke="#3cb44b" stroke-width="1.3" stroke-linejoin="round"/>
<circle cx="48.60" cy="226.90" r="0.9" fill="#3cb44b"/>
<circle cx="61.56" cy="225.49" r="0.9" fill="#3cb44b"/>
<circle cx="74.52" cy="224.08" r="0.9" fill="#3cb44b"/>
<circle cx="87.48" cy="221.26" r="0.9" fill="#3cb44b"/>
<circle cx="100.44" cy="222.67" r="0.9" fill="#3cb44b"/>
<circle cx="113.40" cy="224.78" r="0.9" fill="#3cb44b"/>
<circle cx="126.36" cy="221.26" r="0.9" fill="#3cb44b"/>
<circle cx="139.32" cy="222.67" r="0.9" fill="#3cb44b"/>
<circle cx="152.28" cy="223.38" r="0.9" fill="#3cb44b"/>
<polyline points="48.60,226.19 61.56,222.67 74.52,226.19 87.48,224.78 100.44,218.44 113.40,222.67 126.36,219.85 139.32,221.26 152.28,221.97" fill="none" stroke="#3cb44b" stroke-width="1.3" stroke-linejoin="round"/>
<circle cx="48.60" cy="226.19" r="0.9" fill="#3cb44b"/>
<circle cx="61.56" cy="222.67" r="0.9" fill="#3cb44b"/>
<circle cx="74.52" cy="226.19" r="0.9" fill="#3cb44b"/>
<circle cx="87.48" cy="224.78" r="0.9" fill="#3cb44b"/>
<circle cx="100.44" cy="218.44" r="0.9" fill="#3cb44b"/>
<circle cx="113.40" cy="222.67" r="0.9" fill="#3cb44b"/>
<circle cx="126.36" cy="219.85" r="0.9" fill="#3cb44b"/>
<circle cx="139.32" cy="221.26" r="0.9" fill="#3cb44b"/>
<circle cx="152.28" cy="221.97" r="0.9" fill="#3cb44b"/>
<polyline points="48.60,226.90 61.56,226.19 74.52,223.38 87.48,223.38 100.44,224.08 113.40,221.97 126.36,223.38 139.32,224.08 152.28,224.08" fill="none" stroke="#3cb44b" stroke-width="1.3" stroke-linejoin="round"/>
<circle cx="48.60" cy="226.90" r="0.9" fill="#3cb44b"/>
<circle cx="61.56" cy="226.19" r="0.9" fill="#3cb44b"/>
<circle cx="74.52" cy="223.38" r="0.9" fill="#3cb44b"/>
<circle cx="87.48" cy="223.38" r="0.9" fill="#3cb44b"/>
<circle cx="100.44" cy="224.08" r="0.9" fill="#3cb44b"/>
<circle cx="113.40" cy="221.97" r="0.9" fill="#3cb44b"/>
<circle cx="126.36" cy="223.38" r="0.9" fill="#3cb44b"/>
<circle cx="139.32" cy="224.08" r="0.9" fill="#3cb44b"/>
<circle cx="152.28" cy="224.08" r="0.9" fill="#3cb44b"/>
<polyline points="48.60,226.90 61.56,224.08 74.52,225.49 87.48,226.19 100.44,224.78 113.40,225.49 126.36,224.78 139.32,225.49 152.28,225.49" fill="none" stroke="#3cb44b" stroke-width="1.3" stroke-linejoin="round"/>
<circle cx="48.60" cy="226.90" r="0.9" fill="#3cb44b"/>
<circle cx="61.56" cy="224.08" r="0.9" fill="#3cb44b"/>
<circle cx="74.52" cy="225.49" r="0.9" fill="#3cb44b"/>
<circle cx="87.48" cy="226.19" r="0.9" fill="#3cb44b"/>
<circle cx="100.44" cy="224.78" r="0.9" fill="#3cb44b"/>
<circle cx="113.40" cy="225.49" r="0.9" fill="#3cb44b"/>
<circle cx="126.36" cy="224.78" r="0.9" fill="#3cb44b"/>
<circle cx="139.32" cy="225.49" r="0.9" fill="#3cb44b"/>
<circle cx="152.28" cy="225.49" r="0.9" fill="#3cb44b"/>
<polyline points="48.60,220.56 61.56,176.14" fill="none" stroke="#4b2a78" stroke-width="1.2" stroke-linejoin="round"/>
<circle cx="48.60" cy="220.56" r="0.9" fill="#4b2a78"/>
<circle cx="61.56" cy="176.14" r="0.9" fill="#4b2a78"/>
<polyline points="48.60,226.90 61.56,191.65" fill="none" stroke="#c8143c" stroke-width="1.2" stroke-linejoin="round"/>
<circle cx="48.60" cy="226.90" r="0.9" fill="#c8143c"/>
<circle cx="61.56" cy="191.65" r="0.9" fill="#c8143c"/>
<polyline points="48.60,226.90 61.56,216.33 74.52,169.09" fill="none" stroke="#c8143c" stroke-width="1.2" stroke-linejoin="round"/>
<circle cx="48.60" cy="226.90" r="0.9" fill="#c8143c"/>
<circle cx="61.56" cy="216.33" r="0.9" fill="#c8143c"/>
<circle cx="74.52" cy="169.09" r="0.9" fill="#c8143c"/>
<polyline points="48.60,226.90 61.56,221.26 74.52,177.55" fill="none" stroke="#c8143c" stroke-width="1.2" stroke-linejoin="round"/>
<circle cx="48.60" cy="226.90" r="0.9" fill="#c8143c"/>
<circle cx="61.56" cy="221.26" r="0.9" fill="#c8143c"/>
<circle cx="74.52" cy="177.55" r="0.9" fill="#c8143c"/>
<polyline points="61.56,226.90 74.52,179.67" fill="none" stroke="#c8143c" stroke-width="1.2" stroke-linejoin="round"/>
<circle cx="61.56" cy="226.90" r="0.9" fill="#c8143c"/>
<circle cx="74.52" cy="179.67" r="0.9" fill="#c8143c"/>
<polyline points="48.60,226.90 61.56,200.81 74.52,189.54" fill="none" stroke="#4b2a78" stroke-width="1.2" stroke-linejoin="round"/>
<circle cx="48.60" cy="226.90" r="0.9" fill="#4b2a78"/>
<circle cx="61.56" cy="200.81" r="0.9" fill="#4b2a78"/>
<circle cx="74.52" cy="189.54" r="0.9" fill="#4b2a78"/>
<polyline points="61.56,200.11 68.04,205.75 74.52,208.57 81.00,207.16 87.48,204.34 93.96,195.18 100.44,193.06" fill="none" stroke="#1d4683" stroke-width="1.2" stroke-dasharray="2.4,1.3" stroke-linejoin="round"/>
<circle cx="61.56" cy="200.11" r="0.9" fill="#1d4683"/>
<circle cx="68.04" cy="205.75" r="0.9" fill="#1d4683"/>
<circle cx="74.52" cy="208.57" r="0.9" fill="#1d4683"/>
<circle cx="81.00" cy="207.16" r="0.9" fill="#1d4683"/>
<circle cx="87.48" cy="204.34" r="0.9" fill="#1d4683"/>
<circle cx="93.96" cy="195.18" r="0.9" fill="#1d4683"/>
<circle cx="100.44" cy="193.06" r="0.9" fill="#1d4683"/>
<polyline points="74.52,225.49 87.48,209.28 100.44,162.04" fill="none" stroke="#1d4683" stroke-width="1.2" stroke-dasharray="2.4,1.3" stroke-linejoin="round"/>
<circle cx="74.52" cy="225.49" r="0.9" fill="#1d4683"/>
<circle cx="87.48" cy="209.28" r="0.9" fill="#1d4683"/>
<circle cx="100.44" cy="162.04" r="0.9" fill="#1d4683"/>
<polyline points="74.52,226.90 87.48,205.75 100.44,174.03" fill="none" stroke="#1d4683" stroke-width="1.2" stroke-dasharray="2.4,1.3" stroke-linejoin="round"/>
<circle cx="74.52" cy="226.90" r="0.9" fill="#1d4683"/>
<circle cx="87.48" cy="205.75" r="0.9" fill="#1d4683"/>
<circle cx="100.44" cy="174.03" r="0.9" fill="#1d4683"/>
<polyline points="87.48,226.90 100.44,179.67" fill="none" stroke="#1d4683" stroke-width="1.2" stroke-dasharray="2.4,1.3" stroke-linejoin="round"/>
<circle cx="87.48" cy="226.90" r="0.9" fill="#1d4683"/>
<circle cx="100.44" cy="179.67" r="0.9" fill="#1d4683"/>
<polyline points="87.48,223.38 100.44,193.77 113.40,184.60" fill="none" stroke="#1d4683" stroke-width="1.2" stroke-dasharray="2.4,1.3" stroke-linejoin="round"/>
<circle cx="87.48" cy="223.38" r="0.9" fill="#1d4683"/>
<circle cx="100.44" cy="193.77" r="0.9" fill="#1d4683"/>
<circle cx="113.40" cy="184.60" r="0.9" fill="#1d4683"/>
<polyline points="87.48,225.49 100.44,205.75 113.40,190.24" fill="none" stroke="#1d4683" stroke-width="1.2" stroke-dasharray="2.4,1.3" stroke-linejoin="round"/>
<circle cx="87.48" cy="225.49" r="0.9" fill="#1d4683"/>
<circle cx="100.44" cy="205.75" r="0.9" fill="#1d4683"/>
<circle cx="113.40" cy="190.24" r="0.9" fill="#1d4683"/>
<polyline points="74.52,226.90 87.48,218.44 100.44,183.19" fill="none" stroke="#4b2a78" stroke-width="1.2" stroke-linejoin="round"/>
<circle cx="74.52" cy="226.90" r="0.9" fill="#4b2a78"/>
<circle cx="87.48" cy="218.44" r="0.9" fill="#4b2a78"/>
<circle cx="100.44" cy="183.19" r="0.9" fill="#4b2a78"/>
<polyline points="74.52,225.49 87.48,221.26 91.37,221.97" fill="none" stroke="#c8143c" stroke-width="1.2" stroke-linejoin="round"/>
<circle cx="74.52" cy="225.49" r="0.9" fill="#c8143c"/>
<circle cx="87.48" cy="221.26" r="0.9" fill="#c8143c"/>
<circle cx="91.37" cy="221.97" r="0.9" fill="#c8143c"/>
<line x1="40.40" y1="191.65" x2="155.50" y2="191.65" stroke="#222" stroke-width="1.0" stroke-dasharray="2.7,1.7" stroke-linecap="butt"/>
<line x1="40.40" y1="227.50" x2="40.40" y2="153.80" stroke="#000" stroke-width="1.3" stroke-linecap="butt"/>
<line x1="37.40" y1="156.40" x2="40.40" y2="156.40" stroke="#000" stroke-width="1.3" stroke-linecap="butt"/>
<text x="35.4" y="158.92000000000002" font-size="7.0" text-anchor="end" fill="#231f20" stroke="#231f20" stroke-width="0.2">100</text>
<line x1="37.40" y1="174.03" x2="40.40" y2="174.03" stroke="#000" stroke-width="1.3" stroke-linecap="butt"/>
<text x="35.4" y="176.54500000000002" font-size="7.0" text-anchor="end" fill="#231f20" stroke="#231f20" stroke-width="0.2">75</text>
<line x1="37.40" y1="191.65" x2="40.40" y2="191.65" stroke="#000" stroke-width="1.3" stroke-linecap="butt"/>
<text x="35.4" y="194.17000000000002" font-size="7.0" text-anchor="end" fill="#231f20" stroke="#231f20" stroke-width="0.2">50</text>
<line x1="37.40" y1="209.28" x2="40.40" y2="209.28" stroke="#000" stroke-width="1.3" stroke-linecap="butt"/>
<text x="35.4" y="211.79500000000002" font-size="7.0" text-anchor="end" fill="#231f20" stroke="#231f20" stroke-width="0.2">25</text>
<line x1="37.40" y1="226.90" x2="40.40" y2="226.90" stroke="#000" stroke-width="1.3" stroke-linecap="butt"/>
<text x="35.4" y="229.42000000000002" font-size="7.0" text-anchor="end" fill="#231f20" stroke="#231f20" stroke-width="0.2">0</text>
<line x1="39.75" y1="226.90" x2="154.10" y2="226.90" stroke="#000" stroke-width="1.3" stroke-linecap="butt"/>
<line x1="48.60" y1="226.90" x2="48.60" y2="229.70" stroke="#000" stroke-width="1.3" stroke-linecap="butt"/>
<line x1="61.56" y1="226.90" x2="61.56" y2="229.70" stroke="#000" stroke-width="1.3" stroke-linecap="butt"/>
<line x1="74.52" y1="226.90" x2="74.52" y2="229.70" stroke="#000" stroke-width="1.3" stroke-linecap="butt"/>
<line x1="87.48" y1="226.90" x2="87.48" y2="229.70" stroke="#000" stroke-width="1.3" stroke-linecap="butt"/>
<line x1="100.44" y1="226.90" x2="100.44" y2="229.70" stroke="#000" stroke-width="1.3" stroke-linecap="butt"/>
<line x1="113.40" y1="226.90" x2="113.40" y2="229.70" stroke="#000" stroke-width="1.3" stroke-linecap="butt"/>
<line x1="126.36" y1="226.90" x2="126.36" y2="229.70" stroke="#000" stroke-width="1.3" stroke-linecap="butt"/>
<line x1="139.32" y1="226.90" x2="139.32" y2="229.70" stroke="#000" stroke-width="1.3" stroke-linecap="butt"/>
<line x1="152.28" y1="226.90" x2="152.28" y2="229.70" stroke="#000" stroke-width="1.3" stroke-linecap="butt"/>
<text x="52.1" y="235.9" font-size="6.9" text-anchor="end" fill="#231f20" stroke="#231f20" stroke-width="0.2" textLength="21.2" lengthAdjust="spacingAndGlyphs" transform="rotate(-42 52.1 235.9)">Week 0</text>
<text x="65.06" y="235.9" font-size="6.9" text-anchor="end" fill="#231f20" stroke="#231f20" stroke-width="0.2" textLength="21.2" lengthAdjust="spacingAndGlyphs" transform="rotate(-42 65.06 235.9)">Week 1</text>
<text x="78.02000000000001" y="235.9" font-size="6.9" text-anchor="end" fill="#231f20" stroke="#231f20" stroke-width="0.2" textLength="21.2" lengthAdjust="spacingAndGlyphs" transform="rotate(-42 78.02000000000001 235.9)">Week 2</text>
<text x="90.98" y="235.9" font-size="6.9" text-anchor="end" fill="#231f20" stroke="#231f20" stroke-width="0.2" textLength="21.2" lengthAdjust="spacingAndGlyphs" transform="rotate(-42 90.98 235.9)">Week 3</text>
<text x="103.94" y="235.9" font-size="6.9" text-anchor="end" fill="#231f20" stroke="#231f20" stroke-width="0.2" textLength="21.2" lengthAdjust="spacingAndGlyphs" transform="rotate(-42 103.94 235.9)">Week 4</text>
<text x="116.9" y="235.9" font-size="6.9" text-anchor="end" fill="#231f20" stroke="#231f20" stroke-width="0.2" textLength="21.2" lengthAdjust="spacingAndGlyphs" transform="rotate(-42 116.9 235.9)">Week 5</text>
<text x="129.86" y="235.9" font-size="6.9" text-anchor="end" fill="#231f20" stroke="#231f20" stroke-width="0.2" textLength="21.2" lengthAdjust="spacingAndGlyphs" transform="rotate(-42 129.86 235.9)">Week 6</text>
<text x="142.82" y="235.9" font-size="6.9" text-anchor="end" fill="#231f20" stroke="#231f20" stroke-width="0.2" textLength="21.2" lengthAdjust="spacingAndGlyphs" transform="rotate(-42 142.82 235.9)">Week 7</text>
<text x="155.78" y="235.9" font-size="6.9" text-anchor="end" fill="#231f20" stroke="#231f20" stroke-width="0.2" textLength="21.2" lengthAdjust="spacingAndGlyphs" transform="rotate(-42 155.78 235.9)">Week 8</text>
<text x="129.3" y="170.6" font-size="7.6" text-anchor="start" fill="#231f20" stroke="#231f20" stroke-width="0.2" textLength="27.2" lengthAdjust="spacingAndGlyphs">p ≤ 0.03</text>
<text x="21.6" y="191.3" font-size="7.6" text-anchor="middle" fill="#231f20" stroke="#231f20" stroke-width="0.2" textLength="63" lengthAdjust="spacingAndGlyphs" transform="rotate(-90 21.6 191.3)">% of leukemia blasts</text>
<text x="14.4" y="393.8" font-size="10" text-anchor="start" fill="#000" stroke="#000" stroke-width="0.2" font-weight="bold">G</text>
<polyline points="54.50,476.90 68.28,476.90 82.06,476.15 95.84,476.90 109.62,476.15 123.40,476.90 137.18,476.90 150.96,476.15 164.74,476.15" fill="none" stroke="#3cb44b" stroke-width="1.3" stroke-linejoin="round"/>
<circle cx="54.50" cy="476.90" r="0.9" fill="#3cb44b"/>
<circle cx="68.28" cy="476.90" r="0.9" fill="#3cb44b"/>
<circle cx="82.06" cy="476.15" r="0.9" fill="#3cb44b"/>
<circle cx="95.84" cy="476.90" r="0.9" fill="#3cb44b"/>
<circle cx="109.62" cy="476.15" r="0.9" fill="#3cb44b"/>
<circle cx="123.40" cy="476.90" r="0.9" fill="#3cb44b"/>
<circle cx="137.18" cy="476.90" r="0.9" fill="#3cb44b"/>
<circle cx="150.96" cy="476.15" r="0.9" fill="#3cb44b"/>
<circle cx="164.74" cy="476.15" r="0.9" fill="#3cb44b"/>
<polyline points="54.50,476.90 68.28,476.15 82.06,475.40 95.84,476.15 109.62,476.90 123.40,476.15 137.18,475.40 150.96,476.15 164.74,476.90" fill="none" stroke="#3cb44b" stroke-width="1.3" stroke-linejoin="round"/>
<circle cx="54.50" cy="476.90" r="0.9" fill="#3cb44b"/>
<circle cx="68.28" cy="476.15" r="0.9" fill="#3cb44b"/>
<circle cx="82.06" cy="475.40" r="0.9" fill="#3cb44b"/>
<circle cx="95.84" cy="476.15" r="0.9" fill="#3cb44b"/>
<circle cx="109.62" cy="476.90" r="0.9" fill="#3cb44b"/>
<circle cx="123.40" cy="476.15" r="0.9" fill="#3cb44b"/>
<circle cx="137.18" cy="475.40" r="0.9" fill="#3cb44b"/>
<circle cx="150.96" cy="476.15" r="0.9" fill="#3cb44b"/>
<circle cx="164.74" cy="476.90" r="0.9" fill="#3cb44b"/>
<polyline points="54.50,476.90 68.28,476.90 82.06,476.90 95.84,476.15 109.62,475.40 123.40,476.15 137.18,476.15 150.96,475.40 164.74,475.40" fill="none" stroke="#3cb44b" stroke-width="1.3" stroke-linejoin="round"/>
<circle cx="54.50" cy="476.90" r="0.9" fill="#3cb44b"/>
<circle cx="68.28" cy="476.90" r="0.9" fill="#3cb44b"/>
<circle cx="82.06" cy="476.90" r="0.9" fill="#3cb44b"/>
<circle cx="95.84" cy="476.15" r="0.9" fill="#3cb44b"/>
<circle cx="109.62" cy="475.40" r="0.9" fill="#3cb44b"/>
<circle cx="123.40" cy="476.15" r="0.9" fill="#3cb44b"/>
<circle cx="137.18" cy="476.15" r="0.9" fill="#3cb44b"/>
<circle cx="150.96" cy="475.40" r="0.9" fill="#3cb44b"/>
<circle cx="164.74" cy="475.40" r="0.9" fill="#3cb44b"/>
<polyline points="54.50,476.90 68.28,475.40 82.06,474.65 95.84,474.65 109.62,476.15 123.40,474.65 137.18,476.90 150.96,476.90 164.74,476.15" fill="none" stroke="#3cb44b" stroke-width="1.3" stroke-linejoin="round"/>
<circle cx="54.50" cy="476.90" r="0.9" fill="#3cb44b"/>
<circle cx="68.28" cy="475.40" r="0.9" fill="#3cb44b"/>
<circle cx="82.06" cy="474.65" r="0.9" fill="#3cb44b"/>
<circle cx="95.84" cy="474.65" r="0.9" fill="#3cb44b"/>
<circle cx="109.62" cy="476.15" r="0.9" fill="#3cb44b"/>
<circle cx="123.40" cy="474.65" r="0.9" fill="#3cb44b"/>
<circle cx="137.18" cy="476.90" r="0.9" fill="#3cb44b"/>
<circle cx="150.96" cy="476.90" r="0.9" fill="#3cb44b"/>
<circle cx="164.74" cy="476.15" r="0.9" fill="#3cb44b"/>
<polyline points="54.50,476.90 68.28,476.15 82.06,466.39 95.84,463.38 109.62,431.84" fill="none" stroke="#3cb44b" stroke-width="1.3" stroke-linejoin="round"/>
<circle cx="54.50" cy="476.90" r="0.9" fill="#3cb44b"/>
<circle cx="68.28" cy="476.15" r="0.9" fill="#3cb44b"/>
<circle cx="82.06" cy="466.39" r="0.9" fill="#3cb44b"/>
<circle cx="95.84" cy="463.38" r="0.9" fill="#3cb44b"/>
<circle cx="109.62" cy="431.84" r="0.9" fill="#3cb44b"/>
<polyline points="68.28,476.90 82.06,474.65 95.84,475.40 109.62,461.88 123.40,464.13 137.18,474.65 150.96,458.12 164.74,419.07" fill="none" stroke="#3cb44b" stroke-width="1.3" stroke-linejoin="round"/>
<circle cx="68.28" cy="476.90" r="0.9" fill="#3cb44b"/>
<circle cx="82.06" cy="474.65" r="0.9" fill="#3cb44b"/>
<circle cx="95.84" cy="475.40" r="0.9" fill="#3cb44b"/>
<circle cx="109.62" cy="461.88" r="0.9" fill="#3cb44b"/>
<circle cx="123.40" cy="464.13" r="0.9" fill="#3cb44b"/>
<circle cx="137.18" cy="474.65" r="0.9" fill="#3cb44b"/>
<circle cx="150.96" cy="458.12" r="0.9" fill="#3cb44b"/>
<circle cx="164.74" cy="419.07" r="0.9" fill="#3cb44b"/>
<polyline points="82.06,476.90 95.84,473.90 109.62,463.38 123.40,457.37 137.18,456.62 150.96,454.37 164.74,443.86" fill="none" stroke="#3cb44b" stroke-width="1.3" stroke-linejoin="round"/>
<circle cx="82.06" cy="476.90" r="0.9" fill="#3cb44b"/>
<circle cx="95.84" cy="473.90" r="0.9" fill="#3cb44b"/>
<circle cx="109.62" cy="463.38" r="0.9" fill="#3cb44b"/>
<circle cx="123.40" cy="457.37" r="0.9" fill="#3cb44b"/>
<circle cx="137.18" cy="456.62" r="0.9" fill="#3cb44b"/>
<circle cx="150.96" cy="454.37" r="0.9" fill="#3cb44b"/>
<circle cx="164.74" cy="443.86" r="0.9" fill="#3cb44b"/>
<polyline points="95.84,476.90 109.62,466.39 123.40,461.88 137.18,461.88 150.96,448.36 164.74,446.86" fill="none" stroke="#3cb44b" stroke-width="1.3" stroke-linejoin="round"/>
<circle cx="95.84" cy="476.90" r="0.9" fill="#3cb44b"/>
<circle cx="109.62" cy="466.39" r="0.9" fill="#3cb44b"/>
<circle cx="123.40" cy="461.88" r="0.9" fill="#3cb44b"/>
<circle cx="137.18" cy="461.88" r="0.9" fill="#3cb44b"/>
<circle cx="150.96" cy="448.36" r="0.9" fill="#3cb44b"/>
<circle cx="164.74" cy="446.86" r="0.9" fill="#3cb44b"/>
<polyline points="95.84,476.90 109.62,470.89 123.40,459.63 137.18,452.87 150.96,460.38 164.74,458.88" fill="none" stroke="#3cb44b" stroke-width="1.3" stroke-linejoin="round"/>
<circle cx="95.84" cy="476.90" r="0.9" fill="#3cb44b"/>
<circle cx="109.62" cy="470.89" r="0.9" fill="#3cb44b"/>
<circle cx="123.40" cy="459.63" r="0.9" fill="#3cb44b"/>
<circle cx="137.18" cy="452.87" r="0.9" fill="#3cb44b"/>
<circle cx="150.96" cy="460.38" r="0.9" fill="#3cb44b"/>
<circle cx="164.74" cy="458.88" r="0.9" fill="#3cb44b"/>
<polyline points="54.50,476.90 68.28,463.38 82.06,467.89 95.84,475.40 109.62,433.34" fill="none" stroke="#1d4683" stroke-width="1.2" stroke-dasharray="2.4,1.3" stroke-linejoin="round"/>
<circle cx="54.50" cy="476.90" r="0.9" fill="#1d4683"/>
<circle cx="68.28" cy="463.38" r="0.9" fill="#1d4683"/>
<circle cx="82.06" cy="467.89" r="0.9" fill="#1d4683"/>
<circle cx="95.84" cy="475.40" r="0.9" fill="#1d4683"/>
<circle cx="109.62" cy="433.34" r="0.9" fill="#1d4683"/>
<polyline points="95.84,476.90 109.62,476.15 123.40,449.11 137.18,440.85 150.96,422.83" fill="none" stroke="#1d4683" stroke-width="1.2" stroke-dasharray="2.4,1.3" stroke-linejoin="round"/>
<circle cx="95.84" cy="476.90" r="0.9" fill="#1d4683"/>
<circle cx="109.62" cy="476.15" r="0.9" fill="#1d4683"/>
<circle cx="123.40" cy="449.11" r="0.9" fill="#1d4683"/>
<circle cx="137.18" cy="440.85" r="0.9" fill="#1d4683"/>
<circle cx="150.96" cy="422.83" r="0.9" fill="#1d4683"/>
<polyline points="54.50,476.90 68.28,419.07" fill="none" stroke="#2e3b8e" stroke-width="1.2" stroke-linejoin="round"/>
<circle cx="54.50" cy="476.90" r="0.9" fill="#2e3b8e"/>
<circle cx="68.28" cy="419.07" r="0.9" fill="#2e3b8e"/>
<polyline points="54.50,476.90 68.28,421.33" fill="none" stroke="#2e3b8e" stroke-width="1.2" stroke-linejoin="round"/>
<circle cx="54.50" cy="476.90" r="0.9" fill="#2e3b8e"/>
<circle cx="68.28" cy="421.33" r="0.9" fill="#2e3b8e"/>
<polyline points="54.50,476.90 68.28,422.83" fill="none" stroke="#2e3b8e" stroke-width="1.2" stroke-linejoin="round"/>
<circle cx="54.50" cy="476.90" r="0.9" fill="#2e3b8e"/>
<circle cx="68.28" cy="422.83" r="0.9" fill="#2e3b8e"/>
<polyline points="54.50,476.90 68.28,465.63 82.06,415.32" fill="none" stroke="#56388c" stroke-width="1.2" stroke-linejoin="round"/>
<circle cx="54.50" cy="476.90" r="0.9" fill="#56388c"/>
<circle cx="68.28" cy="465.63" r="0.9" fill="#56388c"/>
<circle cx="82.06" cy="415.32" r="0.9" fill="#56388c"/>
<polyline points="54.50,476.90 68.28,461.88 82.06,424.33" fill="none" stroke="#56388c" stroke-width="1.2" stroke-linejoin="round"/>
<circle cx="54.50" cy="476.90" r="0.9" fill="#56388c"/>
<circle cx="68.28" cy="461.88" r="0.9" fill="#56388c"/>
<circle cx="82.06" cy="424.33" r="0.9" fill="#56388c"/>
<polyline points="54.50,476.90 68.28,464.88 82.06,431.84" fill="none" stroke="#56388c" stroke-width="1.2" stroke-linejoin="round"/>
<circle cx="54.50" cy="476.90" r="0.9" fill="#56388c"/>
<circle cx="68.28" cy="464.88" r="0.9" fill="#56388c"/>
<circle cx="82.06" cy="431.84" r="0.9" fill="#56388c"/>
<polyline points="68.28,476.90 82.06,443.11 95.84,444.61 109.62,410.06" fill="none" stroke="#4b2a78" stroke-width="1.2" stroke-linejoin="round"/>
<circle cx="68.28" cy="476.90" r="0.9" fill="#4b2a78"/>
<circle cx="82.06" cy="443.11" r="0.9" fill="#4b2a78"/>
<circle cx="95.84" cy="444.61" r="0.9" fill="#4b2a78"/>
<circle cx="109.62" cy="410.06" r="0.9" fill="#4b2a78"/>
<polyline points="54.50,476.90 68.28,469.39 82.06,439.35 95.84,411.56" fill="none" stroke="#c8143c" stroke-width="1.2" stroke-linejoin="round"/>
<circle cx="54.50" cy="476.90" r="0.9" fill="#c8143c"/>
<circle cx="68.28" cy="469.39" r="0.9" fill="#c8143c"/>
<circle cx="82.06" cy="439.35" r="0.9" fill="#c8143c"/>
<circle cx="95.84" cy="411.56" r="0.9" fill="#c8143c"/>
<polyline points="54.50,476.90 68.28,461.88 82.06,446.86 95.84,422.08" fill="none" stroke="#c8143c" stroke-width="1.2" stroke-linejoin="round"/>
<circle cx="54.50" cy="476.90" r="0.9" fill="#c8143c"/>
<circle cx="68.28" cy="461.88" r="0.9" fill="#c8143c"/>
<circle cx="82.06" cy="446.86" r="0.9" fill="#c8143c"/>
<circle cx="95.84" cy="422.08" r="0.9" fill="#c8143c"/>
<polyline points="54.50,476.90 68.28,467.89 82.06,435.60" fill="none" stroke="#c8143c" stroke-width="1.2" stroke-linejoin="round"/>
<circle cx="54.50" cy="476.90" r="0.9" fill="#c8143c"/>
<circle cx="68.28" cy="467.89" r="0.9" fill="#c8143c"/>
<circle cx="82.06" cy="435.60" r="0.9" fill="#c8143c"/>
<polyline points="68.28,476.90 82.06,448.36 95.84,443.11" fill="none" stroke="#c8143c" stroke-width="1.2" stroke-linejoin="round"/>
<circle cx="68.28" cy="476.90" r="0.9" fill="#c8143c"/>
<circle cx="82.06" cy="448.36" r="0.9" fill="#c8143c"/>
<circle cx="95.84" cy="443.11" r="0.9" fill="#c8143c"/>
<polyline points="68.28,474.65 82.06,469.39 95.84,454.37" fill="none" stroke="#c8143c" stroke-width="1.2" stroke-linejoin="round"/>
<circle cx="68.28" cy="474.65" r="0.9" fill="#c8143c"/>
<circle cx="82.06" cy="469.39" r="0.9" fill="#c8143c"/>
<circle cx="95.84" cy="454.37" r="0.9" fill="#c8143c"/>
<line x1="47.30" y1="439.35" x2="169.00" y2="439.35" stroke="#222" stroke-width="1.0" stroke-dasharray="2.7,1.7" stroke-linecap="butt"/>
<line x1="47.30" y1="477.50" x2="47.30" y2="399.20" stroke="#000" stroke-width="1.3" stroke-linecap="butt"/>
<line x1="44.30" y1="401.80" x2="47.30" y2="401.80" stroke="#000" stroke-width="1.3" stroke-linecap="butt"/>
<text x="42.3" y="404.32" font-size="7.0" text-anchor="end" fill="#231f20" stroke="#231f20" stroke-width="0.2">100</text>
<line x1="44.30" y1="420.57" x2="47.30" y2="420.57" stroke="#000" stroke-width="1.3" stroke-linecap="butt"/>
<text x="42.3" y="423.09499999999997" font-size="7.0" text-anchor="end" fill="#231f20" stroke="#231f20" stroke-width="0.2">75</text>
<line x1="44.30" y1="439.35" x2="47.30" y2="439.35" stroke="#000" stroke-width="1.3" stroke-linecap="butt"/>
<text x="42.3" y="441.87" font-size="7.0" text-anchor="end" fill="#231f20" stroke="#231f20" stroke-width="0.2">50</text>
<line x1="44.30" y1="458.12" x2="47.30" y2="458.12" stroke="#000" stroke-width="1.3" stroke-linecap="butt"/>
<text x="42.3" y="460.645" font-size="7.0" text-anchor="end" fill="#231f20" stroke="#231f20" stroke-width="0.2">25</text>
<line x1="44.30" y1="476.90" x2="47.30" y2="476.90" stroke="#000" stroke-width="1.3" stroke-linecap="butt"/>
<text x="42.3" y="479.41999999999996" font-size="7.0" text-anchor="end" fill="#231f20" stroke="#231f20" stroke-width="0.2">0</text>
<line x1="46.65" y1="476.90" x2="166.50" y2="476.90" stroke="#000" stroke-width="1.3" stroke-linecap="butt"/>
<line x1="54.50" y1="476.90" x2="54.50" y2="479.70" stroke="#000" stroke-width="1.3" stroke-linecap="butt"/>
<line x1="68.28" y1="476.90" x2="68.28" y2="479.70" stroke="#000" stroke-width="1.3" stroke-linecap="butt"/>
<line x1="82.06" y1="476.90" x2="82.06" y2="479.70" stroke="#000" stroke-width="1.3" stroke-linecap="butt"/>
<line x1="95.84" y1="476.90" x2="95.84" y2="479.70" stroke="#000" stroke-width="1.3" stroke-linecap="butt"/>
<line x1="109.62" y1="476.90" x2="109.62" y2="479.70" stroke="#000" stroke-width="1.3" stroke-linecap="butt"/>
<line x1="123.40" y1="476.90" x2="123.40" y2="479.70" stroke="#000" stroke-width="1.3" stroke-linecap="butt"/>
<line x1="137.18" y1="476.90" x2="137.18" y2="479.70" stroke="#000" stroke-width="1.3" stroke-linecap="butt"/>
<line x1="150.96" y1="476.90" x2="150.96" y2="479.70" stroke="#000" stroke-width="1.3" stroke-linecap="butt"/>
<line x1="164.74" y1="476.90" x2="164.74" y2="479.70" stroke="#000" stroke-width="1.3" stroke-linecap="butt"/>
<text x="59.2" y="488.0" font-size="7.9" text-anchor="end" fill="#231f20" stroke="#231f20" stroke-width="0.2" textLength="24.5" lengthAdjust="spacingAndGlyphs" transform="rotate(-42 59.2 488.0)">Week 0</text>
<text x="72.98" y="488.0" font-size="7.9" text-anchor="end" fill="#231f20" stroke="#231f20" stroke-width="0.2" textLength="24.5" lengthAdjust="spacingAndGlyphs" transform="rotate(-42 72.98 488.0)">Week 1</text>
<text x="86.76" y="488.0" font-size="7.9" text-anchor="end" fill="#231f20" stroke="#231f20" stroke-width="0.2" textLength="24.5" lengthAdjust="spacingAndGlyphs" transform="rotate(-42 86.76 488.0)">Week 2</text>
<text x="100.54" y="488.0" font-size="7.9" text-anchor="end" fill="#231f20" stroke="#231f20" stroke-width="0.2" textLength="24.5" lengthAdjust="spacingAndGlyphs" transform="rotate(-42 100.54 488.0)">Week 3</text>
<text x="114.32000000000001" y="488.0" font-size="7.9" text-anchor="end" fill="#231f20" stroke="#231f20" stroke-width="0.2" textLength="24.5" lengthAdjust="spacingAndGlyphs" transform="rotate(-42 114.32000000000001 488.0)">Week 4</text>
<text x="128.1" y="488.0" font-size="7.9" text-anchor="end" fill="#231f20" stroke="#231f20" stroke-width="0.2" textLength="24.5" lengthAdjust="spacingAndGlyphs" transform="rotate(-42 128.1 488.0)">Week 5</text>
<text x="141.88" y="488.0" font-size="7.9" text-anchor="end" fill="#231f20" stroke="#231f20" stroke-width="0.2" textLength="24.5" lengthAdjust="spacingAndGlyphs" transform="rotate(-42 141.88 488.0)">Week 6</text>
<text x="155.65999999999997" y="488.0" font-size="7.9" text-anchor="end" fill="#231f20" stroke="#231f20" stroke-width="0.2" textLength="24.5" lengthAdjust="spacingAndGlyphs" transform="rotate(-42 155.65999999999997 488.0)">Week 7</text>
<text x="169.44" y="488.0" font-size="7.9" text-anchor="end" fill="#231f20" stroke="#231f20" stroke-width="0.2" textLength="24.5" lengthAdjust="spacingAndGlyphs" transform="rotate(-42 169.44 488.0)">Week 8</text>
<text x="133.2" y="411.6" font-size="7.6" text-anchor="start" fill="#231f20" stroke="#231f20" stroke-width="0.2" textLength="31.2" lengthAdjust="spacingAndGlyphs">p ≤ 0.003</text>
<text x="24.0" y="438.7" font-size="7.6" text-anchor="middle" fill="#231f20" stroke="#231f20" stroke-width="0.2" textLength="61.7" lengthAdjust="spacingAndGlyphs" transform="rotate(-90 24.0 438.7)">% of leukemia blasts</text>
<text x="173.8" y="147.2" font-size="10" text-anchor="start" fill="#000" stroke="#000" stroke-width="0.2" font-weight="bold">C</text>
<polyline points="198.70,158.90 277.23,158.90 277.23,158.90" fill="none" stroke="#3cb44b" stroke-width="1.35" stroke-linejoin="round" stroke-linejoin="miter"/>
<polyline points="198.70,158.90 224.92,158.90 224.92,170.34 237.64,170.34 237.64,181.71 240.63,181.71 240.63,193.15 243.22,193.15 243.22,204.59 248.02,204.59 248.02,227.40" fill="none" stroke="#1d4683" stroke-width="1.35" stroke-dasharray="2.5,1.4" stroke-linejoin="round" stroke-linejoin="miter"/>
<polyline points="198.70,158.90 212.20,158.90 212.20,170.34 217.00,170.34 217.00,181.71 218.17,181.71 218.17,193.15 222.19,193.15 222.19,215.96 232.84,215.96 232.84,227.40" fill="none" stroke="#c8143c" stroke-width="1.35" stroke-linejoin="round" stroke-linejoin="miter"/>
<polyline points="198.70,158.90 211.55,158.90 211.55,186.30 213.76,186.30 213.76,200.00 219.60,200.00 219.60,213.70 240.50,213.70 240.50,227.40" fill="none" stroke="#4b2a78" stroke-width="1.35" stroke-linejoin="round" stroke-linejoin="miter"/>
<line x1="198.70" y1="228.00" x2="198.70" y2="156.30" stroke="#000" stroke-width="1.3" stroke-linecap="butt"/>
<line x1="195.70" y1="158.90" x2="198.70" y2="158.90" stroke="#000" stroke-width="1.3" stroke-linecap="butt"/>
<text x="193.7" y="161.42000000000002" font-size="7.0" text-anchor="end" fill="#231f20" stroke="#231f20" stroke-width="0.2">100</text>
<line x1="195.70" y1="172.60" x2="198.70" y2="172.60" stroke="#000" stroke-width="1.3" stroke-linecap="butt"/>
<text x="193.7" y="175.12" font-size="7.0" text-anchor="end" fill="#231f20" stroke="#231f20" stroke-width="0.2">80</text>
<line x1="195.70" y1="186.30" x2="198.70" y2="186.30" stroke="#000" stroke-width="1.3" stroke-linecap="butt"/>
<text x="193.7" y="188.82000000000002" font-size="7.0" text-anchor="end" fill="#231f20" stroke="#231f20" stroke-width="0.2">60</text>
<line x1="195.70" y1="200.00" x2="198.70" y2="200.00" stroke="#000" stroke-width="1.3" stroke-linecap="butt"/>
<text x="193.7" y="202.52" font-size="7.0" text-anchor="end" fill="#231f20" stroke="#231f20" stroke-width="0.2">40</text>
<line x1="195.70" y1="213.70" x2="198.70" y2="213.70" stroke="#000" stroke-width="1.3" stroke-linecap="butt"/>
<text x="193.7" y="216.22000000000003" font-size="7.0" text-anchor="end" fill="#231f20" stroke="#231f20" stroke-width="0.2">20</text>
<line x1="195.70" y1="227.40" x2="198.70" y2="227.40" stroke="#000" stroke-width="1.3" stroke-linecap="butt"/>
<text x="193.7" y="229.92000000000002" font-size="7.0" text-anchor="end" fill="#231f20" stroke="#231f20" stroke-width="0.2">0</text>
<line x1="198.05" y1="227.40" x2="279.50" y2="227.40" stroke="#000" stroke-width="1.3" stroke-linecap="butt"/>
<line x1="198.70" y1="227.40" x2="198.70" y2="230.20" stroke="#000" stroke-width="1.3" stroke-linecap="butt"/>
<line x1="211.68" y1="227.40" x2="211.68" y2="230.20" stroke="#000" stroke-width="1.3" stroke-linecap="butt"/>
<line x1="224.66" y1="227.40" x2="224.66" y2="230.20" stroke="#000" stroke-width="1.3" stroke-linecap="butt"/>
<line x1="237.64" y1="227.40" x2="237.64" y2="230.20" stroke="#000" stroke-width="1.3" stroke-linecap="butt"/>
<line x1="250.62" y1="227.40" x2="250.62" y2="230.20" stroke="#000" stroke-width="1.3" stroke-linecap="butt"/>
<line x1="263.60" y1="227.40" x2="263.60" y2="230.20" stroke="#000" stroke-width="1.3" stroke-linecap="butt"/>
<line x1="276.58" y1="227.40" x2="276.58" y2="230.20" stroke="#000" stroke-width="1.3" stroke-linecap="butt"/>
<text x="198.7" y="238.4" font-size="7.4" text-anchor="middle" fill="#231f20" stroke="#231f20" stroke-width="0.2" textLength="3.4" lengthAdjust="spacingAndGlyphs">0</text>
<text x="211.67999999999998" y="238.4" font-size="7.4" text-anchor="middle" fill="#231f20" stroke="#231f20" stroke-width="0.2" textLength="6.3" lengthAdjust="spacingAndGlyphs">10</text>
<text x="224.66" y="238.4" font-size="7.4" text-anchor="middle" fill="#231f20" stroke="#231f20" stroke-width="0.2" textLength="6.3" lengthAdjust="spacingAndGlyphs">20</text>
<text x="237.64" y="238.4" font-size="7.4" text-anchor="middle" fill="#231f20" stroke="#231f20" stroke-width="0.2" textLength="6.3" lengthAdjust="spacingAndGlyphs">30</text>
<text x="250.62" y="238.4" font-size="7.4" text-anchor="middle" fill="#231f20" stroke="#231f20" stroke-width="0.2" textLength="6.3" lengthAdjust="spacingAndGlyphs">40</text>
<text x="263.6" y="238.4" font-size="7.4" text-anchor="middle" fill="#231f20" stroke="#231f20" stroke-width="0.2" textLength="6.3" lengthAdjust="spacingAndGlyphs">50</text>
<text x="276.58" y="238.4" font-size="7.4" text-anchor="middle" fill="#231f20" stroke="#231f20" stroke-width="0.2" textLength="6.3" lengthAdjust="spacingAndGlyphs">60</text>
<text x="237.94" y="250.8" font-size="7.6" text-anchor="middle" fill="#231f20" stroke="#231f20" stroke-width="0.2" textLength="53.8" lengthAdjust="spacingAndGlyphs">Days of treatment</text>
<text x="179.7" y="192.2" font-size="7.6" text-anchor="middle" fill="#231f20" stroke="#231f20" stroke-width="0.2" textLength="74.7" lengthAdjust="spacingAndGlyphs" transform="rotate(-90 179.7 192.2)">% Leukemia free survival</text>
<line x1="257.40" y1="176.50" x2="265.10" y2="176.50" stroke="#4b2a78" stroke-width="1.3" stroke-linecap="butt"/>
<line x1="261.25" y1="175.20" x2="261.25" y2="177.10" stroke="#4b2a78" stroke-width="1.0" stroke-linecap="butt"/>
<text x="267.8" y="179.2" font-size="7.3" text-anchor="start" fill="#231f20" stroke="#231f20" stroke-width="0.2" textLength="33.1" lengthAdjust="spacingAndGlyphs">CTL (n=5)</text>
<line x1="257.40" y1="185.80" x2="265.10" y2="185.80" stroke="#c8143c" stroke-width="1.3" stroke-linecap="butt"/>
<line x1="261.25" y1="184.50" x2="261.25" y2="186.40" stroke="#c8143c" stroke-width="1.0" stroke-linecap="butt"/>
<text x="267.8" y="188.5" font-size="7.3" text-anchor="start" fill="#231f20" stroke="#231f20" stroke-width="0.2" textLength="32.0" lengthAdjust="spacingAndGlyphs">Das (n=6)</text>
<line x1="257.40" y1="194.90" x2="265.10" y2="194.90" stroke="#1d4683" stroke-width="1.3" stroke-dasharray="2,1.3" stroke-linecap="butt"/>
<line x1="261.25" y1="193.60" x2="261.25" y2="195.50" stroke="#1d4683" stroke-width="1.0" stroke-linecap="butt"/>
<text x="267.8" y="197.6" font-size="7.3" text-anchor="start" fill="#231f20" stroke="#231f20" stroke-width="0.2" textLength="33.1" lengthAdjust="spacingAndGlyphs">Tem (n=6)</text>
<line x1="257.40" y1="203.10" x2="265.10" y2="203.10" stroke="#3cb44b" stroke-width="1.3" stroke-linecap="butt"/>
<line x1="261.25" y1="201.80" x2="261.25" y2="203.70" stroke="#3cb44b" stroke-width="1.0" stroke-linecap="butt"/>
<text x="267.8" y="205.79999999999998" font-size="7.3" text-anchor="start" fill="#231f20" stroke="#231f20" stroke-width="0.2" textLength="45.4" lengthAdjust="spacingAndGlyphs">Combo (n=6)</text>
<line x1="314.80" y1="195.40" x2="314.80" y2="205.70" stroke="#777" stroke-width="0.9" stroke-linecap="butt"/>
<text x="322.73" y="200.8" font-size="7.0" text-anchor="middle" fill="#2a2a2a" stroke="#2a2a2a" stroke-width="0.2" textLength="8.7" lengthAdjust="spacingAndGlyphs" transform="rotate(-90 322.73 200.8)">***</text>
<line x1="320.50" y1="188.50" x2="320.50" y2="205.70" stroke="#777" stroke-width="0.9" stroke-linecap="butt"/>
<text x="328.33" y="197.4" font-size="7.0" text-anchor="middle" fill="#2a2a2a" stroke="#2a2a2a" stroke-width="0.2" textLength="8.7" lengthAdjust="spacingAndGlyphs" transform="rotate(-90 328.33 197.4)">***</text>
<line x1="326.60" y1="178.50" x2="326.60" y2="205.70" stroke="#777" stroke-width="0.9" stroke-linecap="butt"/>
<text x="335.03" y="191.5" font-size="7.0" text-anchor="middle" fill="#2a2a2a" stroke="#2a2a2a" stroke-width="0.2" textLength="8.7" lengthAdjust="spacingAndGlyphs" transform="rotate(-90 335.03 191.5)">***</text>
<text x="181.2" y="393.8" font-size="10" text-anchor="start" fill="#000" stroke="#000" stroke-width="0.2" font-weight="bold">H</text>
<polyline points="211.30,400.90 256.25,400.90 256.25,411.83 297.57,411.83 297.57,422.75" fill="none" stroke="#3cb44b" stroke-width="1.35" stroke-linejoin="round" stroke-linejoin="miter"/>
<polyline points="211.30,400.90 231.17,400.90 231.17,426.34 241.46,426.34 241.46,477.30" fill="none" stroke="#c8143c" stroke-width="1.35" stroke-linejoin="round" stroke-linejoin="miter"/>
<polyline points="211.30,400.90 224.64,400.90 224.64,426.34 253.35,426.34 253.35,451.86 285.69,451.86 285.69,477.30" fill="none" stroke="#1d4683" stroke-width="1.35" stroke-dasharray="2.5,1.4" stroke-linejoin="round" stroke-linejoin="miter"/>
<polyline points="211.30,400.90 224.64,400.90 224.64,426.34 244.07,426.34 244.07,439.10 245.52,439.10 245.52,464.54 270.17,464.54 270.17,477.30" fill="none" stroke="#3b2e80" stroke-width="1.35" stroke-linejoin="round" stroke-linejoin="miter"/>
<line x1="211.30" y1="477.90" x2="211.30" y2="398.30" stroke="#000" stroke-width="1.3" stroke-linecap="butt"/>
<line x1="208.30" y1="400.90" x2="211.30" y2="400.90" stroke="#000" stroke-width="1.3" stroke-linecap="butt"/>
<text x="206.3" y="403.41999999999996" font-size="7.0" text-anchor="end" fill="#231f20" stroke="#231f20" stroke-width="0.2">100</text>
<line x1="208.30" y1="416.18" x2="211.30" y2="416.18" stroke="#000" stroke-width="1.3" stroke-linecap="butt"/>
<text x="206.3" y="418.7" font-size="7.0" text-anchor="end" fill="#231f20" stroke="#231f20" stroke-width="0.2">80</text>
<line x1="208.30" y1="431.46" x2="211.30" y2="431.46" stroke="#000" stroke-width="1.3" stroke-linecap="butt"/>
<text x="206.3" y="433.97999999999996" font-size="7.0" text-anchor="end" fill="#231f20" stroke="#231f20" stroke-width="0.2">60</text>
<line x1="208.30" y1="446.74" x2="211.30" y2="446.74" stroke="#000" stroke-width="1.3" stroke-linecap="butt"/>
<text x="206.3" y="449.26" font-size="7.0" text-anchor="end" fill="#231f20" stroke="#231f20" stroke-width="0.2">40</text>
<line x1="208.30" y1="462.02" x2="211.30" y2="462.02" stroke="#000" stroke-width="1.3" stroke-linecap="butt"/>
<text x="206.3" y="464.53999999999996" font-size="7.0" text-anchor="end" fill="#231f20" stroke="#231f20" stroke-width="0.2">20</text>
<line x1="208.30" y1="477.30" x2="211.30" y2="477.30" stroke="#000" stroke-width="1.3" stroke-linecap="butt"/>
<text x="206.3" y="479.82" font-size="7.0" text-anchor="end" fill="#231f20" stroke="#231f20" stroke-width="0.2">0</text>
<line x1="210.65" y1="477.30" x2="299.60" y2="477.30" stroke="#000" stroke-width="1.3" stroke-linecap="butt"/>
<line x1="211.30" y1="477.30" x2="211.30" y2="480.10" stroke="#000" stroke-width="1.3" stroke-linecap="butt"/>
<line x1="225.80" y1="477.30" x2="225.80" y2="480.10" stroke="#000" stroke-width="1.3" stroke-linecap="butt"/>
<line x1="240.30" y1="477.30" x2="240.30" y2="480.10" stroke="#000" stroke-width="1.3" stroke-linecap="butt"/>
<line x1="254.80" y1="477.30" x2="254.80" y2="480.10" stroke="#000" stroke-width="1.3" stroke-linecap="butt"/>
<line x1="269.30" y1="477.30" x2="269.30" y2="480.10" stroke="#000" stroke-width="1.3" stroke-linecap="butt"/>
<line x1="283.80" y1="477.30" x2="283.80" y2="480.10" stroke="#000" stroke-width="1.3" stroke-linecap="butt"/>
<line x1="298.30" y1="477.30" x2="298.30" y2="480.10" stroke="#000" stroke-width="1.3" stroke-linecap="butt"/>
<text x="211.3" y="489.2" font-size="7.4" text-anchor="middle" fill="#231f20" stroke="#231f20" stroke-width="0.2" textLength="3.4" lengthAdjust="spacingAndGlyphs">0</text>
<text x="225.8" y="489.2" font-size="7.4" text-anchor="middle" fill="#231f20" stroke="#231f20" stroke-width="0.2" textLength="6.3" lengthAdjust="spacingAndGlyphs">10</text>
<text x="240.3" y="489.2" font-size="7.4" text-anchor="middle" fill="#231f20" stroke="#231f20" stroke-width="0.2" textLength="6.3" lengthAdjust="spacingAndGlyphs">20</text>
<text x="254.8" y="489.2" font-size="7.4" text-anchor="middle" fill="#231f20" stroke="#231f20" stroke-width="0.2" textLength="6.3" lengthAdjust="spacingAndGlyphs">30</text>
<text x="269.3" y="489.2" font-size="7.4" text-anchor="middle" fill="#231f20" stroke="#231f20" stroke-width="0.2" textLength="6.3" lengthAdjust="spacingAndGlyphs">40</text>
<text x="283.8" y="489.2" font-size="7.4" text-anchor="middle" fill="#231f20" stroke="#231f20" stroke-width="0.2" textLength="6.3" lengthAdjust="spacingAndGlyphs">50</text>
<text x="298.3" y="489.2" font-size="7.4" text-anchor="middle" fill="#231f20" stroke="#231f20" stroke-width="0.2" textLength="6.3" lengthAdjust="spacingAndGlyphs">60</text>
<text x="255.10000000000002" y="499.9" font-size="7.6" text-anchor="middle" fill="#231f20" stroke="#231f20" stroke-width="0.2" textLength="52.9" lengthAdjust="spacingAndGlyphs">Days of treatment</text>
<text x="186.0" y="441.7" font-size="7.6" text-anchor="middle" fill="#231f20" stroke="#231f20" stroke-width="0.2" textLength="75" lengthAdjust="spacingAndGlyphs" transform="rotate(-90 186.0 441.7)">% Leukemia free survival</text>
<line x1="290.80" y1="434.90" x2="298.50" y2="434.90" stroke="#4b2a78" stroke-width="1.3" stroke-linecap="butt"/>
<text x="299.1" y="437.59999999999997" font-size="7.3" text-anchor="start" fill="#231f20" stroke="#231f20" stroke-width="0.2" textLength="33.2" lengthAdjust="spacingAndGlyphs">CTL (n=6)</text>
<line x1="290.80" y1="443.80" x2="298.50" y2="443.80" stroke="#c8143c" stroke-width="1.3" stroke-linecap="butt"/>
<text x="299.1" y="446.5" font-size="7.3" text-anchor="start" fill="#231f20" stroke="#231f20" stroke-width="0.2" textLength="32.7" lengthAdjust="spacingAndGlyphs">Das (n=3)</text>
<line x1="290.80" y1="452.60" x2="298.50" y2="452.60" stroke="#1d4683" stroke-width="1.3" stroke-dasharray="2,1.3" stroke-linecap="butt"/>
<text x="299.1" y="455.3" font-size="7.3" text-anchor="start" fill="#231f20" stroke="#231f20" stroke-width="0.2" textLength="33.8" lengthAdjust="spacingAndGlyphs">Tem (n=3)</text>
<line x1="290.80" y1="461.80" x2="298.50" y2="461.80" stroke="#3cb44b" stroke-width="1.3" stroke-linecap="butt"/>
<text x="299.1" y="464.5" font-size="7.3" text-anchor="start" fill="#231f20" stroke="#231f20" stroke-width="0.2" textLength="45.5" lengthAdjust="spacingAndGlyphs">Combo (n=7)</text>
<line x1="346.20" y1="456.50" x2="346.20" y2="464.90" stroke="#777" stroke-width="0.9" stroke-linecap="butt"/>
<text x="353.33" y="460.3" font-size="7.0" text-anchor="middle" fill="#2a2a2a" stroke="#2a2a2a" stroke-width="0.2" textLength="5.8" lengthAdjust="spacingAndGlyphs" transform="rotate(-90 353.33 460.3)">**</text>
<line x1="352.30" y1="447.20" x2="352.30" y2="464.90" stroke="#777" stroke-width="0.9" stroke-linecap="butt"/>
<text x="359.53" y="455.7" font-size="7.0" text-anchor="middle" fill="#2a2a2a" stroke="#2a2a2a" stroke-width="0.2" textLength="5.8" lengthAdjust="spacingAndGlyphs" transform="rotate(-90 359.53 455.7)">**</text>
<line x1="358.50" y1="438.00" x2="358.50" y2="464.90" stroke="#777" stroke-width="0.9" stroke-linecap="butt"/>
<text x="365.63" y="450.8" font-size="7.0" text-anchor="middle" fill="#2a2a2a" stroke="#2a2a2a" stroke-width="0.2" textLength="8.7" lengthAdjust="spacingAndGlyphs" transform="rotate(-90 365.63 450.8)">***</text>
<text x="344.2" y="147.2" font-size="10" text-anchor="start" fill="#000" stroke="#000" stroke-width="0.2" font-weight="bold">E</text>
<text x="356" y="147.2" font-size="8.4" text-anchor="start" fill="#000" stroke="#000" stroke-width="0.2" font-weight="bold">(i)</text>
<text x="438.3" y="147.2" font-size="8.4" text-anchor="start" fill="#000" stroke="#000" stroke-width="0.2" font-weight="bold">(ii)</text>
<rect x="384.90" y="170.73" width="13.10" height="56.67" fill="#5e1f73" stroke="#4a145e" stroke-width="0.7"/>
<line x1="391.45" y1="170.73" x2="391.45" y2="167.23" stroke="#111" stroke-width="1.0" stroke-linecap="butt"/>
<line x1="388.25" y1="167.23" x2="394.65" y2="167.23" stroke="#111" stroke-width="1.1" stroke-linecap="butt"/>
<rect x="404.00" y="203.12" width="13.70" height="24.28" fill="#3bb54a" stroke="#2c9a3a" stroke-width="0.7"/>
<line x1="410.85" y1="203.12" x2="410.85" y2="201.42" stroke="#111" stroke-width="1.0" stroke-linecap="butt"/>
<line x1="407.65" y1="201.42" x2="414.05" y2="201.42" stroke="#111" stroke-width="1.1" stroke-linecap="butt"/>
<line x1="377.80" y1="228.00" x2="377.80" y2="157.60" stroke="#000" stroke-width="1.3" stroke-linecap="butt"/>
<line x1="374.80" y1="227.40" x2="377.80" y2="227.40" stroke="#000" stroke-width="1.3" stroke-linecap="butt"/>
<text x="372.8" y="229.92000000000002" font-size="7.0" text-anchor="end" fill="#231f20" stroke="#231f20" stroke-width="0.2">0</text>
<line x1="374.80" y1="205.00" x2="377.80" y2="205.00" stroke="#000" stroke-width="1.3" stroke-linecap="butt"/>
<text x="372.8" y="207.52" font-size="7.0" text-anchor="end" fill="#231f20" stroke="#231f20" stroke-width="0.2">500</text>
<line x1="374.80" y1="182.60" x2="377.80" y2="182.60" stroke="#000" stroke-width="1.3" stroke-linecap="butt"/>
<text x="372.8" y="185.12" font-size="7.0" text-anchor="end" fill="#231f20" stroke="#231f20" stroke-width="0.2">1000</text>
<line x1="374.80" y1="160.20" x2="377.80" y2="160.20" stroke="#000" stroke-width="1.3" stroke-linecap="butt"/>
<text x="372.8" y="162.72" font-size="7.0" text-anchor="end" fill="#231f20" stroke="#231f20" stroke-width="0.2">1500</text>
<line x1="377.15" y1="227.40" x2="421.00" y2="227.40" stroke="#000" stroke-width="1.3" stroke-linecap="butt"/>
<line x1="391.45" y1="227.40" x2="391.45" y2="230.20" stroke="#000" stroke-width="1.3" stroke-linecap="butt"/>
<line x1="410.85" y1="227.40" x2="410.85" y2="230.20" stroke="#000" stroke-width="1.3" stroke-linecap="butt"/>
<line x1="392.00" y1="163.80" x2="410.70" y2="163.80" stroke="#3a3a3a" stroke-width="1.0" stroke-linecap="butt"/>
<text x="401.8" y="164.276" font-size="6.4" text-anchor="middle" fill="#2a2a2a" stroke="#2a2a2a" stroke-width="0.2" textLength="10.8" lengthAdjust="spacingAndGlyphs">****</text>
<text x="391.4" y="239.4" font-size="7.3" text-anchor="middle" fill="#231f20" stroke="#231f20" stroke-width="0.2" textLength="9.3" lengthAdjust="spacingAndGlyphs">CTL</text>
<text x="410.7" y="239.4" font-size="7.3" text-anchor="middle" fill="#231f20" stroke="#231f20" stroke-width="0.2" textLength="19.5" lengthAdjust="spacingAndGlyphs">Combo</text>
<text x="350.8" y="191.9" font-size="7.6" text-anchor="middle" fill="#231f20" stroke="#231f20" stroke-width="0.2" textLength="54.2" lengthAdjust="spacingAndGlyphs" transform="rotate(-90 350.8 191.9)"># of hCD45+ cells</text>
<rect x="472.20" y="217.13" width="12.90" height="10.27" fill="#5e1f73" stroke="#4a145e" stroke-width="0.7"/>
<line x1="478.65" y1="217.13" x2="478.65" y2="212.66" stroke="#111" stroke-width="1.0" stroke-linecap="butt"/>
<line x1="475.45" y1="212.66" x2="481.85" y2="212.66" stroke="#111" stroke-width="1.1" stroke-linecap="butt"/>
<rect x="492.00" y="186.62" width="12.80" height="40.78" fill="#3bb54a" stroke="#2c9a3a" stroke-width="0.7"/>
<line x1="498.40" y1="186.62" x2="498.40" y2="178.49" stroke="#111" stroke-width="1.0" stroke-linecap="butt"/>
<line x1="495.20" y1="178.49" x2="501.60" y2="178.49" stroke="#111" stroke-width="1.1" stroke-linecap="butt"/>
<line x1="465.80" y1="228.00" x2="465.80" y2="157.80" stroke="#000" stroke-width="1.3" stroke-linecap="butt"/>
<line x1="462.80" y1="227.40" x2="465.80" y2="227.40" stroke="#000" stroke-width="1.3" stroke-linecap="butt"/>
<text x="460.8" y="229.92000000000002" font-size="7.0" text-anchor="end" fill="#231f20" stroke="#231f20" stroke-width="0.2">0.0</text>
<line x1="462.80" y1="205.07" x2="465.80" y2="205.07" stroke="#000" stroke-width="1.3" stroke-linecap="butt"/>
<text x="460.8" y="207.58666666666667" font-size="7.0" text-anchor="end" fill="#231f20" stroke="#231f20" stroke-width="0.2">0.5</text>
<line x1="462.80" y1="182.73" x2="465.80" y2="182.73" stroke="#000" stroke-width="1.3" stroke-linecap="butt"/>
<text x="460.8" y="185.25333333333336" font-size="7.0" text-anchor="end" fill="#231f20" stroke="#231f20" stroke-width="0.2">1.0</text>
<line x1="462.80" y1="160.40" x2="465.80" y2="160.40" stroke="#000" stroke-width="1.3" stroke-linecap="butt"/>
<text x="460.8" y="162.92000000000002" font-size="7.0" text-anchor="end" fill="#231f20" stroke="#231f20" stroke-width="0.2">1.5</text>
<line x1="465.15" y1="227.40" x2="510.00" y2="227.40" stroke="#000" stroke-width="1.3" stroke-linecap="butt"/>
<line x1="478.65" y1="227.40" x2="478.65" y2="230.20" stroke="#000" stroke-width="1.3" stroke-linecap="butt"/>
<line x1="498.40" y1="227.40" x2="498.40" y2="230.20" stroke="#000" stroke-width="1.3" stroke-linecap="butt"/>
<line x1="479.00" y1="163.80" x2="498.40" y2="163.80" stroke="#3a3a3a" stroke-width="1.0" stroke-linecap="butt"/>
<text x="488.7" y="164.276" font-size="6.4" text-anchor="middle" fill="#2a2a2a" stroke="#2a2a2a" stroke-width="0.2" textLength="5.4" lengthAdjust="spacingAndGlyphs">**</text>
<text x="478.6" y="239.4" font-size="7.3" text-anchor="middle" fill="#231f20" stroke="#231f20" stroke-width="0.2" textLength="9.3" lengthAdjust="spacingAndGlyphs">CTL</text>
<text x="498.4" y="239.4" font-size="7.3" text-anchor="middle" fill="#231f20" stroke="#231f20" stroke-width="0.2" textLength="19.5" lengthAdjust="spacingAndGlyphs">Combo</text>
<text x="443.6" y="191.9" font-size="7.6" text-anchor="middle" fill="#231f20" stroke="#231f20" stroke-width="0.2" textLength="72" lengthAdjust="spacingAndGlyphs" transform="rotate(-90 443.6 191.9)">% of TUNEL positive cells</text>
<text x="369.2" y="394.4" font-size="10" text-anchor="start" fill="#000" stroke="#000" stroke-width="0.2" font-weight="bold">J</text>
<text x="381" y="394.4" font-size="8.4" text-anchor="start" fill="#000" stroke="#000" stroke-width="0.2" font-weight="bold">(i)</text>
<text x="451.2" y="394.4" font-size="8.4" text-anchor="start" fill="#000" stroke="#000" stroke-width="0.2" font-weight="bold">(ii)</text>
<rect x="410.90" y="416.24" width="12.80" height="60.96" fill="#5e1f73" stroke="#4a145e" stroke-width="0.7"/>
<line x1="417.30" y1="416.24" x2="417.30" y2="412.51" stroke="#111" stroke-width="1.0" stroke-linecap="butt"/>
<line x1="414.10" y1="412.51" x2="420.50" y2="412.51" stroke="#111" stroke-width="1.1" stroke-linecap="butt"/>
<rect x="427.20" y="448.52" width="13.00" height="28.68" fill="#3bb54a" stroke="#2c9a3a" stroke-width="0.7"/>
<line x1="433.70" y1="448.52" x2="433.70" y2="447.32" stroke="#111" stroke-width="1.0" stroke-linecap="butt"/>
<line x1="430.50" y1="447.32" x2="436.90" y2="447.32" stroke="#111" stroke-width="1.1" stroke-linecap="butt"/>
<line x1="403.20" y1="477.80" x2="403.20" y2="399.90" stroke="#000" stroke-width="1.3" stroke-linecap="butt"/>
<line x1="400.20" y1="477.20" x2="403.20" y2="477.20" stroke="#000" stroke-width="1.3" stroke-linecap="butt"/>
<text x="398.2" y="479.71999999999997" font-size="7.0" text-anchor="end" fill="#231f20" stroke="#231f20" stroke-width="0.2">0</text>
<line x1="400.20" y1="462.26" x2="403.20" y2="462.26" stroke="#000" stroke-width="1.3" stroke-linecap="butt"/>
<text x="398.2" y="464.78" font-size="7.0" text-anchor="end" fill="#231f20" stroke="#231f20" stroke-width="0.2">200</text>
<line x1="400.20" y1="447.32" x2="403.20" y2="447.32" stroke="#000" stroke-width="1.3" stroke-linecap="butt"/>
<text x="398.2" y="449.84" font-size="7.0" text-anchor="end" fill="#231f20" stroke="#231f20" stroke-width="0.2">400</text>
<line x1="400.20" y1="432.38" x2="403.20" y2="432.38" stroke="#000" stroke-width="1.3" stroke-linecap="butt"/>
<text x="398.2" y="434.9" font-size="7.0" text-anchor="end" fill="#231f20" stroke="#231f20" stroke-width="0.2">600</text>
<line x1="400.20" y1="417.44" x2="403.20" y2="417.44" stroke="#000" stroke-width="1.3" stroke-linecap="butt"/>
<text x="398.2" y="419.96" font-size="7.0" text-anchor="end" fill="#231f20" stroke="#231f20" stroke-width="0.2">800</text>
<line x1="400.20" y1="402.50" x2="403.20" y2="402.50" stroke="#000" stroke-width="1.3" stroke-linecap="butt"/>
<text x="398.2" y="405.02" font-size="7.0" text-anchor="end" fill="#231f20" stroke="#231f20" stroke-width="0.2">1000</text>
<line x1="402.55" y1="477.20" x2="446.00" y2="477.20" stroke="#000" stroke-width="1.3" stroke-linecap="butt"/>
<line x1="417.30" y1="477.20" x2="417.30" y2="480.00" stroke="#000" stroke-width="1.3" stroke-linecap="butt"/>
<line x1="433.70" y1="477.20" x2="433.70" y2="480.00" stroke="#000" stroke-width="1.3" stroke-linecap="butt"/>
<line x1="418.60" y1="404.50" x2="433.70" y2="404.50" stroke="#3a3a3a" stroke-width="1.0" stroke-linecap="butt"/>
<text x="426" y="404.976" font-size="6.4" text-anchor="middle" fill="#2a2a2a" stroke="#2a2a2a" stroke-width="0.2" textLength="10.8" lengthAdjust="spacingAndGlyphs">****</text>
<text x="417.3" y="488.6" font-size="7.3" text-anchor="middle" fill="#231f20" stroke="#231f20" stroke-width="0.2" textLength="9.3" lengthAdjust="spacingAndGlyphs">CTL</text>
<text x="434.9" y="488.6" font-size="7.3" text-anchor="middle" fill="#231f20" stroke="#231f20" stroke-width="0.2" textLength="19.5" lengthAdjust="spacingAndGlyphs">Combo</text>
<text x="375.8" y="437.9" font-size="7.6" text-anchor="middle" fill="#231f20" stroke="#231f20" stroke-width="0.2" textLength="54.6" lengthAdjust="spacingAndGlyphs" transform="rotate(-90 375.8 437.9)"># of hCD45+ cells</text>
<rect x="483.70" y="460.37" width="13.10" height="16.73" fill="#5e1f73" stroke="#4a145e" stroke-width="0.7"/>
<line x1="490.25" y1="460.37" x2="490.25" y2="457.53" stroke="#111" stroke-width="1.0" stroke-linecap="butt"/>
<line x1="487.05" y1="457.53" x2="493.45" y2="457.53" stroke="#111" stroke-width="1.1" stroke-linecap="butt"/>
<rect x="500.40" y="426.75" width="12.80" height="50.35" fill="#3bb54a" stroke="#2c9a3a" stroke-width="0.7"/>
<line x1="506.80" y1="426.75" x2="506.80" y2="418.68" stroke="#111" stroke-width="1.0" stroke-linecap="butt"/>
<line x1="503.60" y1="418.68" x2="510.00" y2="418.68" stroke="#111" stroke-width="1.1" stroke-linecap="butt"/>
<line x1="476.60" y1="477.70" x2="476.60" y2="399.80" stroke="#000" stroke-width="1.3" stroke-linecap="butt"/>
<line x1="473.60" y1="477.10" x2="476.60" y2="477.10" stroke="#000" stroke-width="1.3" stroke-linecap="butt"/>
<text x="471.6" y="479.62" font-size="7.0" text-anchor="end" fill="#231f20" stroke="#231f20" stroke-width="0.2">0</text>
<line x1="473.60" y1="462.16" x2="476.60" y2="462.16" stroke="#000" stroke-width="1.3" stroke-linecap="butt"/>
<text x="471.6" y="464.68" font-size="7.0" text-anchor="end" fill="#231f20" stroke="#231f20" stroke-width="0.2">10</text>
<line x1="473.60" y1="447.22" x2="476.60" y2="447.22" stroke="#000" stroke-width="1.3" stroke-linecap="butt"/>
<text x="471.6" y="449.74" font-size="7.0" text-anchor="end" fill="#231f20" stroke="#231f20" stroke-width="0.2">20</text>
<line x1="473.60" y1="432.28" x2="476.60" y2="432.28" stroke="#000" stroke-width="1.3" stroke-linecap="butt"/>
<text x="471.6" y="434.79999999999995" font-size="7.0" text-anchor="end" fill="#231f20" stroke="#231f20" stroke-width="0.2">30</text>
<line x1="473.60" y1="417.34" x2="476.60" y2="417.34" stroke="#000" stroke-width="1.3" stroke-linecap="butt"/>
<text x="471.6" y="419.85999999999996" font-size="7.0" text-anchor="end" fill="#231f20" stroke="#231f20" stroke-width="0.2">40</text>
<line x1="473.60" y1="402.40" x2="476.60" y2="402.40" stroke="#000" stroke-width="1.3" stroke-linecap="butt"/>
<text x="471.6" y="404.91999999999996" font-size="7.0" text-anchor="end" fill="#231f20" stroke="#231f20" stroke-width="0.2">50</text>
<line x1="475.95" y1="477.10" x2="520.00" y2="477.10" stroke="#000" stroke-width="1.3" stroke-linecap="butt"/>
<line x1="490.25" y1="477.10" x2="490.25" y2="479.90" stroke="#000" stroke-width="1.3" stroke-linecap="butt"/>
<line x1="506.80" y1="477.10" x2="506.80" y2="479.90" stroke="#000" stroke-width="1.3" stroke-linecap="butt"/>
<line x1="490.80" y1="403.10" x2="506.90" y2="403.10" stroke="#3a3a3a" stroke-width="1.0" stroke-linecap="butt"/>
<text x="498.8" y="403.576" font-size="6.4" text-anchor="middle" fill="#2a2a2a" stroke="#2a2a2a" stroke-width="0.2" textLength="8.100000000000001" lengthAdjust="spacingAndGlyphs">***</text>
<text x="490.2" y="488.6" font-size="7.3" text-anchor="middle" fill="#231f20" stroke="#231f20" stroke-width="0.2" textLength="9.3" lengthAdjust="spacingAndGlyphs">CTL</text>
<text x="507.9" y="488.6" font-size="7.3" text-anchor="middle" fill="#231f20" stroke="#231f20" stroke-width="0.2" textLength="19.5" lengthAdjust="spacingAndGlyphs">Combo</text>
<text x="457.0" y="438.7" font-size="7.6" text-anchor="middle" fill="#231f20" stroke="#231f20" stroke-width="0.2" textLength="74" lengthAdjust="spacingAndGlyphs" transform="rotate(-90 457.0 438.7)">% of TUNEL positive cells</text>
<text x="15.4" y="272.0" font-size="10" text-anchor="start" fill="#000" stroke="#000" stroke-width="0.2" font-weight="bold">D</text>
<rect x="50.60" y="295.60" width="10.80" height="54.80" fill="#a98bc1" stroke="none" stroke-width="0"/>
<line x1="56.00" y1="293.40" x2="56.00" y2="297.00" stroke="#1a1a1a" stroke-width="1.0" stroke-linecap="butt"/>
<line x1="53.40" y1="293.40" x2="58.60" y2="293.40" stroke="#1a1a1a" stroke-width="1.0" stroke-linecap="butt"/>
<line x1="53.40" y1="297.00" x2="58.60" y2="297.00" stroke="#1a1a1a" stroke-width="1.0" stroke-linecap="butt"/>
<line x1="52.80" y1="295.60" x2="59.20" y2="295.60" stroke="#1a1a1a" stroke-width="1.0" stroke-linecap="butt"/>
<circle cx="51.70" cy="292.20" r="1.45" fill="#4a1a5e"/>
<circle cx="60.00" cy="291.10" r="1.45" fill="#4a1a5e"/>
<circle cx="51.70" cy="297.70" r="1.45" fill="#4a1a5e"/>
<circle cx="60.00" cy="296.10" r="1.45" fill="#4a1a5e"/>
<rect x="65.30" y="296.10" width="10.70" height="54.30" fill="#ec8098" stroke="none" stroke-width="0"/>
<line x1="70.65" y1="291.50" x2="70.65" y2="300.80" stroke="#1a1a1a" stroke-width="1.0" stroke-linecap="butt"/>
<line x1="68.05" y1="291.50" x2="73.25" y2="291.50" stroke="#1a1a1a" stroke-width="1.0" stroke-linecap="butt"/>
<line x1="68.05" y1="300.80" x2="73.25" y2="300.80" stroke="#1a1a1a" stroke-width="1.0" stroke-linecap="butt"/>
<line x1="67.45" y1="296.10" x2="73.85" y2="296.10" stroke="#1a1a1a" stroke-width="1.0" stroke-linecap="butt"/>
<circle cx="67.00" cy="290.50" r="1.45" fill="#c0143c"/>
<circle cx="75.00" cy="291.50" r="1.45" fill="#c0143c"/>
<circle cx="70.40" cy="306.30" r="1.45" fill="#c0143c"/>
<rect x="80.10" y="328.20" width="10.70" height="22.20" fill="#8aafd2" stroke="none" stroke-width="0"/>
<line x1="85.45" y1="325.20" x2="85.45" y2="333.50" stroke="#1a1a1a" stroke-width="1.0" stroke-linecap="butt"/>
<line x1="82.85" y1="325.20" x2="88.05" y2="325.20" stroke="#1a1a1a" stroke-width="1.0" stroke-linecap="butt"/>
<line x1="82.85" y1="333.50" x2="88.05" y2="333.50" stroke="#1a1a1a" stroke-width="1.0" stroke-linecap="butt"/>
<line x1="82.25" y1="328.20" x2="88.65" y2="328.20" stroke="#1a1a1a" stroke-width="1.0" stroke-linecap="butt"/>
<circle cx="85.70" cy="321.30" r="1.45" fill="#1c4f8a"/>
<circle cx="81.50" cy="325.70" r="1.45" fill="#1c4f8a"/>
<circle cx="89.80" cy="328.20" r="1.45" fill="#1c4f8a"/>
<circle cx="85.70" cy="341.00" r="1.45" fill="#1c4f8a"/>
<rect x="95.40" y="349.00" width="10.40" height="1.40" fill="#a8dca2" stroke="none" stroke-width="0"/>
<line x1="100.60" y1="347.00" x2="100.60" y2="350.00" stroke="#1a1a1a" stroke-width="1.0" stroke-linecap="butt"/>
<line x1="98.00" y1="347.00" x2="103.20" y2="347.00" stroke="#1a1a1a" stroke-width="1.0" stroke-linecap="butt"/>
<line x1="98.00" y1="350.00" x2="103.20" y2="350.00" stroke="#1a1a1a" stroke-width="1.0" stroke-linecap="butt"/>
<line x1="97.40" y1="349.00" x2="103.80" y2="349.00" stroke="#1a1a1a" stroke-width="1.0" stroke-linecap="butt"/>
<circle cx="100.20" cy="344.20" r="1.45" fill="#3cb44b"/>
<circle cx="96.50" cy="349.60" r="1.45" fill="#3cb44b"/>
<circle cx="99.00" cy="350.00" r="1.45" fill="#3cb44b"/>
<circle cx="102.00" cy="349.80" r="1.45" fill="#3cb44b"/>
<circle cx="104.50" cy="349.50" r="1.45" fill="#3cb44b"/>
<line x1="46.90" y1="351.00" x2="46.90" y2="285.90" stroke="#000" stroke-width="1.3" stroke-linecap="butt"/>
<line x1="43.90" y1="288.50" x2="46.90" y2="288.50" stroke="#000" stroke-width="1.3" stroke-linecap="butt"/>
<text x="41.9" y="291.02" font-size="7.0" text-anchor="end" fill="#231f20" stroke="#231f20" stroke-width="0.2">100</text>
<line x1="43.90" y1="300.88" x2="46.90" y2="300.88" stroke="#000" stroke-width="1.3" stroke-linecap="butt"/>
<text x="41.9" y="303.4" font-size="7.0" text-anchor="end" fill="#231f20" stroke="#231f20" stroke-width="0.2">80</text>
<line x1="43.90" y1="313.26" x2="46.90" y2="313.26" stroke="#000" stroke-width="1.3" stroke-linecap="butt"/>
<text x="41.9" y="315.78" font-size="7.0" text-anchor="end" fill="#231f20" stroke="#231f20" stroke-width="0.2">60</text>
<line x1="43.90" y1="325.64" x2="46.90" y2="325.64" stroke="#000" stroke-width="1.3" stroke-linecap="butt"/>
<text x="41.9" y="328.15999999999997" font-size="7.0" text-anchor="end" fill="#231f20" stroke="#231f20" stroke-width="0.2">40</text>
<line x1="43.90" y1="338.02" x2="46.90" y2="338.02" stroke="#000" stroke-width="1.3" stroke-linecap="butt"/>
<text x="41.9" y="340.53999999999996" font-size="7.0" text-anchor="end" fill="#231f20" stroke="#231f20" stroke-width="0.2">20</text>
<line x1="43.90" y1="350.40" x2="46.90" y2="350.40" stroke="#000" stroke-width="1.3" stroke-linecap="butt"/>
<text x="41.9" y="352.91999999999996" font-size="7.0" text-anchor="end" fill="#231f20" stroke="#231f20" stroke-width="0.2">0</text>
<line x1="46.25" y1="350.40" x2="110.20" y2="350.40" stroke="#000" stroke-width="1.3" stroke-linecap="butt"/>
<line x1="56.00" y1="350.40" x2="56.00" y2="353.20" stroke="#000" stroke-width="1.3" stroke-linecap="butt"/>
<line x1="70.65" y1="350.40" x2="70.65" y2="353.20" stroke="#000" stroke-width="1.3" stroke-linecap="butt"/>
<line x1="85.45" y1="350.40" x2="85.45" y2="353.20" stroke="#000" stroke-width="1.3" stroke-linecap="butt"/>
<line x1="100.60" y1="350.40" x2="100.60" y2="353.20" stroke="#000" stroke-width="1.3" stroke-linecap="butt"/>
<line x1="55.20" y1="279.40" x2="105.10" y2="279.40" stroke="#3a3a3a" stroke-width="1.0" stroke-linecap="butt"/>
<line x1="105.10" y1="279.40" x2="105.10" y2="281.30" stroke="#3a3a3a" stroke-width="1.0" stroke-linecap="butt"/>
<line x1="86.10" y1="279.40" x2="86.10" y2="281.30" stroke="#3a3a3a" stroke-width="1.0" stroke-linecap="butt"/>
<text x="69.9" y="279.876" font-size="6.4" text-anchor="middle" fill="#2a2a2a" stroke="#2a2a2a" stroke-width="0.2" textLength="10.8" lengthAdjust="spacingAndGlyphs">****</text>
<text x="96.4" y="279.876" font-size="6.4" text-anchor="middle" fill="#2a2a2a" stroke="#2a2a2a" stroke-width="0.2" textLength="10.8" lengthAdjust="spacingAndGlyphs">****</text>
<line x1="66.70" y1="286.60" x2="105.10" y2="286.60" stroke="#3a3a3a" stroke-width="1.0" stroke-linecap="butt"/>
<line x1="105.10" y1="286.60" x2="105.10" y2="288.50" stroke="#3a3a3a" stroke-width="1.0" stroke-linecap="butt"/>
<line x1="86.10" y1="286.60" x2="86.10" y2="288.50" stroke="#3a3a3a" stroke-width="1.0" stroke-linecap="butt"/>
<text x="77.9" y="287.076" font-size="6.4" text-anchor="middle" fill="#2a2a2a" stroke="#2a2a2a" stroke-width="0.2" textLength="10.8" lengthAdjust="spacingAndGlyphs">****</text>
<text x="96.4" y="287.076" font-size="6.4" text-anchor="middle" fill="#2a2a2a" stroke="#2a2a2a" stroke-width="0.2" textLength="10.8" lengthAdjust="spacingAndGlyphs">****</text>
<line x1="85.70" y1="292.20" x2="105.10" y2="292.20" stroke="#3a3a3a" stroke-width="1.0" stroke-linecap="butt"/>
<line x1="105.10" y1="292.20" x2="105.10" y2="294.10" stroke="#3a3a3a" stroke-width="1.0" stroke-linecap="butt"/>
<text x="96.4" y="292.676" font-size="6.4" text-anchor="middle" fill="#2a2a2a" stroke="#2a2a2a" stroke-width="0.2" textLength="5.4" lengthAdjust="spacingAndGlyphs">**</text>
<text x="56.3" y="362.6" font-size="7.3" text-anchor="middle" fill="#231f20" stroke="#231f20" stroke-width="0.2" textLength="9.0" lengthAdjust="spacingAndGlyphs">CTL</text>
<text x="70.6" y="362.6" font-size="7.3" text-anchor="middle" fill="#231f20" stroke="#231f20" stroke-width="0.2" textLength="9.4" lengthAdjust="spacingAndGlyphs">Das</text>
<text x="85.5" y="362.6" font-size="7.3" text-anchor="middle" fill="#231f20" stroke="#231f20" stroke-width="0.2" textLength="11.0" lengthAdjust="spacingAndGlyphs">Tem</text>
<text x="103.2" y="362.6" font-size="7.3" text-anchor="middle" fill="#231f20" stroke="#231f20" stroke-width="0.2" textLength="18.6" lengthAdjust="spacingAndGlyphs">Combo</text>
<text x="22.2" y="318.1" font-size="7.6" text-anchor="middle" fill="#231f20" stroke="#231f20" stroke-width="0.2" textLength="44.6" lengthAdjust="spacingAndGlyphs" transform="rotate(-90 22.2 318.1)">% T-ALL (blood)</text>
<rect x="148.80" y="292.80" width="11.00" height="57.70" fill="#a98bc1" stroke="none" stroke-width="0"/>
<line x1="154.30" y1="291.60" x2="154.30" y2="294.20" stroke="#1a1a1a" stroke-width="1.0" stroke-linecap="butt"/>
<line x1="151.70" y1="291.60" x2="156.90" y2="291.60" stroke="#1a1a1a" stroke-width="1.0" stroke-linecap="butt"/>
<line x1="151.70" y1="294.20" x2="156.90" y2="294.20" stroke="#1a1a1a" stroke-width="1.0" stroke-linecap="butt"/>
<line x1="151.10" y1="292.80" x2="157.50" y2="292.80" stroke="#1a1a1a" stroke-width="1.0" stroke-linecap="butt"/>
<circle cx="150.60" cy="290.90" r="1.45" fill="#4a1a5e"/>
<circle cx="158.40" cy="290.90" r="1.45" fill="#4a1a5e"/>
<circle cx="150.60" cy="294.70" r="1.45" fill="#4a1a5e"/>
<circle cx="158.40" cy="294.70" r="1.45" fill="#4a1a5e"/>
<rect x="163.40" y="292.60" width="11.00" height="57.90" fill="#ec8098" stroke="none" stroke-width="0"/>
<line x1="168.90" y1="291.80" x2="168.90" y2="293.60" stroke="#1a1a1a" stroke-width="1.0" stroke-linecap="butt"/>
<line x1="166.30" y1="291.80" x2="171.50" y2="291.80" stroke="#1a1a1a" stroke-width="1.0" stroke-linecap="butt"/>
<line x1="166.30" y1="293.60" x2="171.50" y2="293.60" stroke="#1a1a1a" stroke-width="1.0" stroke-linecap="butt"/>
<line x1="165.70" y1="292.60" x2="172.10" y2="292.60" stroke="#1a1a1a" stroke-width="1.0" stroke-linecap="butt"/>
<circle cx="164.80" cy="291.70" r="1.45" fill="#c0143c"/>
<circle cx="166.80" cy="294.60" r="1.45" fill="#c0143c"/>
<circle cx="172.60" cy="293.40" r="1.45" fill="#c0143c"/>
<circle cx="170.00" cy="293.00" r="1.45" fill="#c0143c"/>
<rect x="178.30" y="299.50" width="10.90" height="51.00" fill="#8aafd2" stroke="none" stroke-width="0"/>
<line x1="183.75" y1="295.60" x2="183.75" y2="302.70" stroke="#1a1a1a" stroke-width="1.0" stroke-linecap="butt"/>
<line x1="181.15" y1="295.60" x2="186.35" y2="295.60" stroke="#1a1a1a" stroke-width="1.0" stroke-linecap="butt"/>
<line x1="181.15" y1="302.70" x2="186.35" y2="302.70" stroke="#1a1a1a" stroke-width="1.0" stroke-linecap="butt"/>
<line x1="180.55" y1="299.50" x2="186.95" y2="299.50" stroke="#1a1a1a" stroke-width="1.0" stroke-linecap="butt"/>
<circle cx="180.40" cy="293.20" r="1.45" fill="#1c4f8a"/>
<circle cx="187.90" cy="292.40" r="1.45" fill="#1c4f8a"/>
<circle cx="183.90" cy="300.90" r="1.45" fill="#1c4f8a"/>
<circle cx="183.90" cy="310.80" r="1.45" fill="#1c4f8a"/>
<circle cx="193.20" cy="349.90" r="1.45" fill="#3cb44b"/>
<circle cx="194.88" cy="350.90" r="1.45" fill="#3cb44b"/>
<circle cx="196.56" cy="349.90" r="1.45" fill="#3cb44b"/>
<circle cx="198.24" cy="350.90" r="1.45" fill="#3cb44b"/>
<circle cx="199.92" cy="349.90" r="1.45" fill="#3cb44b"/>
<circle cx="201.60" cy="350.90" r="1.45" fill="#3cb44b"/>
<line x1="145.70" y1="351.10" x2="145.70" y2="288.10" stroke="#000" stroke-width="1.3" stroke-linecap="butt"/>
<line x1="142.70" y1="290.70" x2="145.70" y2="290.70" stroke="#000" stroke-width="1.3" stroke-linecap="butt"/>
<text x="140.7" y="293.21999999999997" font-size="7.0" text-anchor="end" fill="#231f20" stroke="#231f20" stroke-width="0.2">100</text>
<line x1="142.70" y1="302.66" x2="145.70" y2="302.66" stroke="#000" stroke-width="1.3" stroke-linecap="butt"/>
<text x="140.7" y="305.17999999999995" font-size="7.0" text-anchor="end" fill="#231f20" stroke="#231f20" stroke-width="0.2">80</text>
<line x1="142.70" y1="314.62" x2="145.70" y2="314.62" stroke="#000" stroke-width="1.3" stroke-linecap="butt"/>
<text x="140.7" y="317.14" font-size="7.0" text-anchor="end" fill="#231f20" stroke="#231f20" stroke-width="0.2">60</text>
<line x1="142.70" y1="326.58" x2="145.70" y2="326.58" stroke="#000" stroke-width="1.3" stroke-linecap="butt"/>
<text x="140.7" y="329.09999999999997" font-size="7.0" text-anchor="end" fill="#231f20" stroke="#231f20" stroke-width="0.2">40</text>
<line x1="142.70" y1="338.54" x2="145.70" y2="338.54" stroke="#000" stroke-width="1.3" stroke-linecap="butt"/>
<text x="140.7" y="341.06" font-size="7.0" text-anchor="end" fill="#231f20" stroke="#231f20" stroke-width="0.2">20</text>
<line x1="142.70" y1="350.50" x2="145.70" y2="350.50" stroke="#000" stroke-width="1.3" stroke-linecap="butt"/>
<text x="140.7" y="353.02" font-size="7.0" text-anchor="end" fill="#231f20" stroke="#231f20" stroke-width="0.2">0</text>
<line x1="145.05" y1="350.50" x2="207.70" y2="350.50" stroke="#000" stroke-width="1.3" stroke-linecap="butt"/>
<line x1="154.30" y1="350.50" x2="154.30" y2="353.30" stroke="#000" stroke-width="1.3" stroke-linecap="butt"/>
<line x1="168.90" y1="350.50" x2="168.90" y2="353.30" stroke="#000" stroke-width="1.3" stroke-linecap="butt"/>
<line x1="183.75" y1="350.50" x2="183.75" y2="353.30" stroke="#000" stroke-width="1.3" stroke-linecap="butt"/>
<line x1="197.35" y1="350.50" x2="197.35" y2="353.30" stroke="#000" stroke-width="1.3" stroke-linecap="butt"/>
<line x1="153.50" y1="277.20" x2="203.50" y2="277.20" stroke="#3a3a3a" stroke-width="1.0" stroke-linecap="butt"/>
<line x1="203.50" y1="277.20" x2="203.50" y2="279.10" stroke="#3a3a3a" stroke-width="1.0" stroke-linecap="butt"/>
<text x="169.0" y="277.676" font-size="6.4" text-anchor="middle" fill="#2a2a2a" stroke="#2a2a2a" stroke-width="0.2" textLength="10.8" lengthAdjust="spacingAndGlyphs">****</text>
<text x="194.2" y="277.676" font-size="6.4" text-anchor="middle" fill="#2a2a2a" stroke="#2a2a2a" stroke-width="0.2" textLength="10.8" lengthAdjust="spacingAndGlyphs">****</text>
<line x1="170.00" y1="285.00" x2="203.50" y2="285.00" stroke="#3a3a3a" stroke-width="1.0" stroke-linecap="butt"/>
<line x1="203.50" y1="285.00" x2="203.50" y2="286.90" stroke="#3a3a3a" stroke-width="1.0" stroke-linecap="butt"/>
<text x="186.7" y="285.476" font-size="6.4" text-anchor="middle" fill="#2a2a2a" stroke="#2a2a2a" stroke-width="0.2" textLength="10.8" lengthAdjust="spacingAndGlyphs">****</text>
<line x1="184.60" y1="290.70" x2="203.50" y2="290.70" stroke="#3a3a3a" stroke-width="1.0" stroke-linecap="butt"/>
<line x1="203.50" y1="290.70" x2="203.50" y2="292.60" stroke="#3a3a3a" stroke-width="1.0" stroke-linecap="butt"/>
<text x="194.2" y="291.176" font-size="6.4" text-anchor="middle" fill="#2a2a2a" stroke="#2a2a2a" stroke-width="0.2" textLength="10.8" lengthAdjust="spacingAndGlyphs">****</text>
<text x="154.5" y="362.4" font-size="7.3" text-anchor="middle" fill="#231f20" stroke="#231f20" stroke-width="0.2" textLength="9.0" lengthAdjust="spacingAndGlyphs">CTL</text>
<text x="169.4" y="362.4" font-size="7.3" text-anchor="middle" fill="#231f20" stroke="#231f20" stroke-width="0.2" textLength="9.4" lengthAdjust="spacingAndGlyphs">Das</text>
<text x="184.2" y="362.4" font-size="7.3" text-anchor="middle" fill="#231f20" stroke="#231f20" stroke-width="0.2" textLength="11.0" lengthAdjust="spacingAndGlyphs">Tem</text>
<text x="200.8" y="362.4" font-size="7.3" text-anchor="middle" fill="#231f20" stroke="#231f20" stroke-width="0.2" textLength="18.6" lengthAdjust="spacingAndGlyphs">Combo</text>
<text x="121.6" y="318.5" font-size="7.6" text-anchor="middle" fill="#231f20" stroke="#231f20" stroke-width="0.2" textLength="37" lengthAdjust="spacingAndGlyphs" transform="rotate(-90 121.6 318.5)">% T-ALL (BM)</text>
<rect x="250.00" y="303.00" width="10.80" height="47.70" fill="#a98bc1" stroke="none" stroke-width="0"/>
<line x1="255.40" y1="297.70" x2="255.40" y2="307.10" stroke="#1a1a1a" stroke-width="1.0" stroke-linecap="butt"/>
<line x1="252.80" y1="297.70" x2="258.00" y2="297.70" stroke="#1a1a1a" stroke-width="1.0" stroke-linecap="butt"/>
<line x1="252.80" y1="307.10" x2="258.00" y2="307.10" stroke="#1a1a1a" stroke-width="1.0" stroke-linecap="butt"/>
<line x1="252.20" y1="303.00" x2="258.60" y2="303.00" stroke="#1a1a1a" stroke-width="1.0" stroke-linecap="butt"/>
<circle cx="255.20" cy="291.50" r="1.45" fill="#4a1a5e"/>
<circle cx="255.20" cy="299.80" r="1.45" fill="#4a1a5e"/>
<circle cx="255.20" cy="307.10" r="1.45" fill="#4a1a5e"/>
<circle cx="255.20" cy="311.30" r="1.45" fill="#4a1a5e"/>
<rect x="264.70" y="311.30" width="10.60" height="39.40" fill="#ec8098" stroke="none" stroke-width="0"/>
<line x1="270.00" y1="301.90" x2="270.00" y2="319.20" stroke="#1a1a1a" stroke-width="1.0" stroke-linecap="butt"/>
<line x1="267.40" y1="301.90" x2="272.60" y2="301.90" stroke="#1a1a1a" stroke-width="1.0" stroke-linecap="butt"/>
<line x1="267.40" y1="319.20" x2="272.60" y2="319.20" stroke="#1a1a1a" stroke-width="1.0" stroke-linecap="butt"/>
<line x1="266.80" y1="311.30" x2="273.20" y2="311.30" stroke="#1a1a1a" stroke-width="1.0" stroke-linecap="butt"/>
<circle cx="269.80" cy="296.30" r="1.45" fill="#c0143c"/>
<circle cx="269.80" cy="308.50" r="1.45" fill="#c0143c"/>
<circle cx="269.80" cy="326.80" r="1.45" fill="#c0143c"/>
<rect x="279.20" y="317.50" width="10.70" height="33.20" fill="#8aafd2" stroke="none" stroke-width="0"/>
<line x1="284.55" y1="308.10" x2="284.55" y2="326.60" stroke="#1a1a1a" stroke-width="1.0" stroke-linecap="butt"/>
<line x1="281.95" y1="308.10" x2="287.15" y2="308.10" stroke="#1a1a1a" stroke-width="1.0" stroke-linecap="butt"/>
<line x1="281.95" y1="326.60" x2="287.15" y2="326.60" stroke="#1a1a1a" stroke-width="1.0" stroke-linecap="butt"/>
<line x1="281.35" y1="317.50" x2="287.75" y2="317.50" stroke="#1a1a1a" stroke-width="1.0" stroke-linecap="butt"/>
<circle cx="284.40" cy="300.20" r="1.45" fill="#1c4f8a"/>
<circle cx="284.40" cy="306.30" r="1.45" fill="#1c4f8a"/>
<circle cx="284.40" cy="322.70" r="1.45" fill="#1c4f8a"/>
<circle cx="284.40" cy="340.40" r="1.45" fill="#1c4f8a"/>
<circle cx="294.60" cy="350.10" r="1.45" fill="#3cb44b"/>
<circle cx="296.32" cy="351.10" r="1.45" fill="#3cb44b"/>
<circle cx="298.04" cy="350.10" r="1.45" fill="#3cb44b"/>
<circle cx="299.76" cy="351.10" r="1.45" fill="#3cb44b"/>
<circle cx="301.48" cy="350.10" r="1.45" fill="#3cb44b"/>
<circle cx="303.20" cy="351.10" r="1.45" fill="#3cb44b"/>
<line x1="245.80" y1="351.30" x2="245.80" y2="285.10" stroke="#000" stroke-width="1.3" stroke-linecap="butt"/>
<line x1="242.80" y1="287.70" x2="245.80" y2="287.70" stroke="#000" stroke-width="1.3" stroke-linecap="butt"/>
<text x="240.8" y="290.21999999999997" font-size="7.0" text-anchor="end" fill="#231f20" stroke="#231f20" stroke-width="0.2">100</text>
<line x1="242.80" y1="300.30" x2="245.80" y2="300.30" stroke="#000" stroke-width="1.3" stroke-linecap="butt"/>
<text x="240.8" y="302.82" font-size="7.0" text-anchor="end" fill="#231f20" stroke="#231f20" stroke-width="0.2">80</text>
<line x1="242.80" y1="312.90" x2="245.80" y2="312.90" stroke="#000" stroke-width="1.3" stroke-linecap="butt"/>
<text x="240.8" y="315.41999999999996" font-size="7.0" text-anchor="end" fill="#231f20" stroke="#231f20" stroke-width="0.2">60</text>
<line x1="242.80" y1="325.50" x2="245.80" y2="325.50" stroke="#000" stroke-width="1.3" stroke-linecap="butt"/>
<text x="240.8" y="328.02" font-size="7.0" text-anchor="end" fill="#231f20" stroke="#231f20" stroke-width="0.2">40</text>
<line x1="242.80" y1="338.10" x2="245.80" y2="338.10" stroke="#000" stroke-width="1.3" stroke-linecap="butt"/>
<text x="240.8" y="340.61999999999995" font-size="7.0" text-anchor="end" fill="#231f20" stroke="#231f20" stroke-width="0.2">20</text>
<line x1="242.80" y1="350.70" x2="245.80" y2="350.70" stroke="#000" stroke-width="1.3" stroke-linecap="butt"/>
<text x="240.8" y="353.21999999999997" font-size="7.0" text-anchor="end" fill="#231f20" stroke="#231f20" stroke-width="0.2">0</text>
<line x1="245.15" y1="350.70" x2="308.60" y2="350.70" stroke="#000" stroke-width="1.3" stroke-linecap="butt"/>
<line x1="255.40" y1="350.70" x2="255.40" y2="353.50" stroke="#000" stroke-width="1.3" stroke-linecap="butt"/>
<line x1="270.00" y1="350.70" x2="270.00" y2="353.50" stroke="#000" stroke-width="1.3" stroke-linecap="butt"/>
<line x1="284.55" y1="350.70" x2="284.55" y2="353.50" stroke="#000" stroke-width="1.3" stroke-linecap="butt"/>
<line x1="298.90" y1="350.70" x2="298.90" y2="353.50" stroke="#000" stroke-width="1.3" stroke-linecap="butt"/>
<line x1="255.20" y1="281.40" x2="304.50" y2="281.40" stroke="#3a3a3a" stroke-width="1.0" stroke-linecap="butt"/>
<line x1="304.50" y1="281.40" x2="304.50" y2="283.30" stroke="#3a3a3a" stroke-width="1.0" stroke-linecap="butt"/>
<text x="278.7" y="281.876" font-size="6.4" text-anchor="middle" fill="#2a2a2a" stroke="#2a2a2a" stroke-width="0.2" textLength="8.100000000000001" lengthAdjust="spacingAndGlyphs">***</text>
<line x1="269.80" y1="287.60" x2="304.50" y2="287.60" stroke="#3a3a3a" stroke-width="1.0" stroke-linecap="butt"/>
<line x1="304.50" y1="287.60" x2="304.50" y2="289.50" stroke="#3a3a3a" stroke-width="1.0" stroke-linecap="butt"/>
<text x="287.0" y="288.076" font-size="6.4" text-anchor="middle" fill="#2a2a2a" stroke="#2a2a2a" stroke-width="0.2" textLength="5.4" lengthAdjust="spacingAndGlyphs">**</text>
<line x1="285.70" y1="293.60" x2="304.50" y2="293.60" stroke="#3a3a3a" stroke-width="1.0" stroke-linecap="butt"/>
<line x1="304.50" y1="293.60" x2="304.50" y2="295.50" stroke="#3a3a3a" stroke-width="1.0" stroke-linecap="butt"/>
<text x="293.4" y="294.076" font-size="6.4" text-anchor="middle" fill="#2a2a2a" stroke="#2a2a2a" stroke-width="0.2" textLength="2.7" lengthAdjust="spacingAndGlyphs">*</text>
<text x="255.4" y="362.4" font-size="7.3" text-anchor="middle" fill="#231f20" stroke="#231f20" stroke-width="0.2" textLength="9.0" lengthAdjust="spacingAndGlyphs">CTL</text>
<text x="269.9" y="362.4" font-size="7.3" text-anchor="middle" fill="#231f20" stroke="#231f20" stroke-width="0.2" textLength="9.4" lengthAdjust="spacingAndGlyphs">Das</text>
<text x="285.0" y="362.4" font-size="7.3" text-anchor="middle" fill="#231f20" stroke="#231f20" stroke-width="0.2" textLength="11.0" lengthAdjust="spacingAndGlyphs">Tem</text>
<text x="301.5" y="362.4" font-size="7.3" text-anchor="middle" fill="#231f20" stroke="#231f20" stroke-width="0.2" textLength="18.6" lengthAdjust="spacingAndGlyphs">Combo</text>
<text x="222.4" y="316.5" font-size="7.6" text-anchor="middle" fill="#231f20" stroke="#231f20" stroke-width="0.2" textLength="49.7" lengthAdjust="spacingAndGlyphs" transform="rotate(-90 222.4 316.5)">% T-ALL (spleen)</text>
<text x="15.7" y="526.2" font-size="10" text-anchor="start" fill="#000" stroke="#000" stroke-width="0.2" font-weight="bold">I</text>
<rect x="52.20" y="553.00" width="11.60" height="54.30" fill="#a98bc1" stroke="none" stroke-width="0"/>
<line x1="58.00" y1="547.00" x2="58.00" y2="557.70" stroke="#1a1a1a" stroke-width="1.0" stroke-linecap="butt"/>
<line x1="55.40" y1="547.00" x2="60.60" y2="547.00" stroke="#1a1a1a" stroke-width="1.0" stroke-linecap="butt"/>
<line x1="55.40" y1="557.70" x2="60.60" y2="557.70" stroke="#1a1a1a" stroke-width="1.0" stroke-linecap="butt"/>
<line x1="54.80" y1="553.00" x2="61.20" y2="553.00" stroke="#1a1a1a" stroke-width="1.0" stroke-linecap="butt"/>
<circle cx="53.60" cy="540.70" r="1.45" fill="#4a1a5e"/>
<circle cx="62.10" cy="543.10" r="1.45" fill="#4a1a5e"/>
<circle cx="53.60" cy="567.20" r="1.45" fill="#4a1a5e"/>
<circle cx="62.10" cy="564.00" r="1.45" fill="#4a1a5e"/>
<circle cx="58.00" cy="553.50" r="1.45" fill="#4a1a5e"/>
<circle cx="58.00" cy="560.00" r="1.45" fill="#4a1a5e"/>
<rect x="68.40" y="562.00" width="11.30" height="45.30" fill="#ec8098" stroke="none" stroke-width="0"/>
<line x1="74.05" y1="560.10" x2="74.05" y2="564.00" stroke="#1a1a1a" stroke-width="1.0" stroke-linecap="butt"/>
<line x1="71.45" y1="560.10" x2="76.65" y2="560.10" stroke="#1a1a1a" stroke-width="1.0" stroke-linecap="butt"/>
<line x1="71.45" y1="564.00" x2="76.65" y2="564.00" stroke="#1a1a1a" stroke-width="1.0" stroke-linecap="butt"/>
<line x1="70.85" y1="562.00" x2="77.25" y2="562.00" stroke="#1a1a1a" stroke-width="1.0" stroke-linecap="butt"/>
<circle cx="69.50" cy="559.10" r="1.45" fill="#c0143c"/>
<circle cx="78.70" cy="561.60" r="1.45" fill="#c0143c"/>
<circle cx="74.00" cy="566.20" r="1.45" fill="#c0143c"/>
<circle cx="76.00" cy="560.50" r="1.45" fill="#c0143c"/>
<rect x="84.40" y="595.60" width="11.30" height="11.70" fill="#8aafd2" stroke="none" stroke-width="0"/>
<line x1="90.05" y1="591.30" x2="90.05" y2="598.80" stroke="#1a1a1a" stroke-width="1.0" stroke-linecap="butt"/>
<line x1="87.45" y1="591.30" x2="92.65" y2="591.30" stroke="#1a1a1a" stroke-width="1.0" stroke-linecap="butt"/>
<line x1="87.45" y1="598.80" x2="92.65" y2="598.80" stroke="#1a1a1a" stroke-width="1.0" stroke-linecap="butt"/>
<line x1="86.85" y1="595.60" x2="93.25" y2="595.60" stroke="#1a1a1a" stroke-width="1.0" stroke-linecap="butt"/>
<circle cx="90.00" cy="589.20" r="1.45" fill="#1c4f8a"/>
<circle cx="90.00" cy="599.10" r="1.45" fill="#1c4f8a"/>
<circle cx="90.00" cy="601.70" r="1.45" fill="#1c4f8a"/>
<circle cx="90.00" cy="595.00" r="1.45" fill="#1c4f8a"/>
<rect x="100.70" y="598.40" width="11.30" height="8.90" fill="#a8dca2" stroke="none" stroke-width="0"/>
<line x1="106.35" y1="596.30" x2="106.35" y2="600.50" stroke="#1a1a1a" stroke-width="1.0" stroke-linecap="butt"/>
<line x1="103.75" y1="596.30" x2="108.95" y2="596.30" stroke="#1a1a1a" stroke-width="1.0" stroke-linecap="butt"/>
<line x1="103.75" y1="600.50" x2="108.95" y2="600.50" stroke="#1a1a1a" stroke-width="1.0" stroke-linecap="butt"/>
<line x1="103.15" y1="598.40" x2="109.55" y2="598.40" stroke="#1a1a1a" stroke-width="1.0" stroke-linecap="butt"/>
<circle cx="102.10" cy="596.30" r="1.45" fill="#3cb44b"/>
<circle cx="109.90" cy="593.40" r="1.45" fill="#3cb44b"/>
<circle cx="106.40" cy="595.60" r="1.45" fill="#3cb44b"/>
<circle cx="106.40" cy="598.40" r="1.45" fill="#3cb44b"/>
<circle cx="102.10" cy="600.50" r="1.45" fill="#3cb44b"/>
<circle cx="109.90" cy="600.20" r="1.45" fill="#3cb44b"/>
<circle cx="106.40" cy="603.00" r="1.45" fill="#3cb44b"/>
<line x1="48.00" y1="607.90" x2="48.00" y2="532.70" stroke="#000" stroke-width="1.3" stroke-linecap="butt"/>
<line x1="45.00" y1="535.30" x2="48.00" y2="535.30" stroke="#000" stroke-width="1.3" stroke-linecap="butt"/>
<text x="43.0" y="537.8199999999999" font-size="7.0" text-anchor="end" fill="#231f20" stroke="#231f20" stroke-width="0.2">100</text>
<line x1="45.00" y1="549.70" x2="48.00" y2="549.70" stroke="#000" stroke-width="1.3" stroke-linecap="butt"/>
<text x="43.0" y="552.2199999999999" font-size="7.0" text-anchor="end" fill="#231f20" stroke="#231f20" stroke-width="0.2">80</text>
<line x1="45.00" y1="564.10" x2="48.00" y2="564.10" stroke="#000" stroke-width="1.3" stroke-linecap="butt"/>
<text x="43.0" y="566.6199999999999" font-size="7.0" text-anchor="end" fill="#231f20" stroke="#231f20" stroke-width="0.2">60</text>
<line x1="45.00" y1="578.50" x2="48.00" y2="578.50" stroke="#000" stroke-width="1.3" stroke-linecap="butt"/>
<text x="43.0" y="581.02" font-size="7.0" text-anchor="end" fill="#231f20" stroke="#231f20" stroke-width="0.2">40</text>
<line x1="45.00" y1="592.90" x2="48.00" y2="592.90" stroke="#000" stroke-width="1.3" stroke-linecap="butt"/>
<text x="43.0" y="595.42" font-size="7.0" text-anchor="end" fill="#231f20" stroke="#231f20" stroke-width="0.2">20</text>
<line x1="45.00" y1="607.30" x2="48.00" y2="607.30" stroke="#000" stroke-width="1.3" stroke-linecap="butt"/>
<text x="43.0" y="609.8199999999999" font-size="7.0" text-anchor="end" fill="#231f20" stroke="#231f20" stroke-width="0.2">0</text>
<line x1="47.35" y1="607.30" x2="116.30" y2="607.30" stroke="#000" stroke-width="1.3" stroke-linecap="butt"/>
<line x1="58.00" y1="607.30" x2="58.00" y2="610.10" stroke="#000" stroke-width="1.3" stroke-linecap="butt"/>
<line x1="74.05" y1="607.30" x2="74.05" y2="610.10" stroke="#000" stroke-width="1.3" stroke-linecap="butt"/>
<line x1="90.05" y1="607.30" x2="90.05" y2="610.10" stroke="#000" stroke-width="1.3" stroke-linecap="butt"/>
<line x1="106.35" y1="607.30" x2="106.35" y2="610.10" stroke="#000" stroke-width="1.3" stroke-linecap="butt"/>
<line x1="58.90" y1="532.20" x2="109.90" y2="532.20" stroke="#3a3a3a" stroke-width="1.0" stroke-linecap="butt"/>
<line x1="109.90" y1="532.20" x2="109.90" y2="534.10" stroke="#3a3a3a" stroke-width="1.0" stroke-linecap="butt"/>
<line x1="89.60" y1="532.20" x2="89.60" y2="534.10" stroke="#3a3a3a" stroke-width="1.0" stroke-linecap="butt"/>
<text x="72.7" y="532.676" font-size="6.4" text-anchor="middle" fill="#2a2a2a" stroke="#2a2a2a" stroke-width="0.2" textLength="10.8" lengthAdjust="spacingAndGlyphs">****</text>
<text x="99.6" y="532.676" font-size="6.4" text-anchor="middle" fill="#2a2a2a" stroke="#2a2a2a" stroke-width="0.2" textLength="10.8" lengthAdjust="spacingAndGlyphs">****</text>
<line x1="70.90" y1="538.90" x2="109.90" y2="538.90" stroke="#3a3a3a" stroke-width="1.0" stroke-linecap="butt"/>
<line x1="109.90" y1="538.90" x2="109.90" y2="540.80" stroke="#3a3a3a" stroke-width="1.0" stroke-linecap="butt"/>
<line x1="89.60" y1="538.90" x2="89.60" y2="540.80" stroke="#3a3a3a" stroke-width="1.0" stroke-linecap="butt"/>
<text x="80.7" y="539.376" font-size="6.4" text-anchor="middle" fill="#2a2a2a" stroke="#2a2a2a" stroke-width="0.2" textLength="5.4" lengthAdjust="spacingAndGlyphs">**</text>
<text x="99.6" y="539.376" font-size="6.4" text-anchor="middle" fill="#2a2a2a" stroke="#2a2a2a" stroke-width="0.2" textLength="10.8" lengthAdjust="spacingAndGlyphs">****</text>
<text x="58.4" y="618.5" font-size="7.3" text-anchor="middle" fill="#231f20" stroke="#231f20" stroke-width="0.2" textLength="9.0" lengthAdjust="spacingAndGlyphs">CTL</text>
<text x="74.0" y="618.5" font-size="7.3" text-anchor="middle" fill="#231f20" stroke="#231f20" stroke-width="0.2" textLength="9.4" lengthAdjust="spacingAndGlyphs">Das</text>
<text x="89.2" y="618.5" font-size="7.3" text-anchor="middle" fill="#231f20" stroke="#231f20" stroke-width="0.2" textLength="11.0" lengthAdjust="spacingAndGlyphs">Tem</text>
<text x="107.0" y="618.5" font-size="7.3" text-anchor="middle" fill="#231f20" stroke="#231f20" stroke-width="0.2" textLength="18.6" lengthAdjust="spacingAndGlyphs">Combo</text>
<text x="22.9" y="571.7" font-size="7.6" text-anchor="middle" fill="#231f20" stroke="#231f20" stroke-width="0.2" textLength="49.5" lengthAdjust="spacingAndGlyphs" transform="rotate(-90 22.9 571.7)">% T-ALL (blood)</text>
<rect x="157.30" y="547.50" width="11.80" height="59.30" fill="#a98bc1" stroke="none" stroke-width="0"/>
<line x1="163.20" y1="544.50" x2="163.20" y2="550.00" stroke="#1a1a1a" stroke-width="1.0" stroke-linecap="butt"/>
<line x1="160.60" y1="544.50" x2="165.80" y2="544.50" stroke="#1a1a1a" stroke-width="1.0" stroke-linecap="butt"/>
<line x1="160.60" y1="550.00" x2="165.80" y2="550.00" stroke="#1a1a1a" stroke-width="1.0" stroke-linecap="butt"/>
<line x1="160.00" y1="547.50" x2="166.40" y2="547.50" stroke="#1a1a1a" stroke-width="1.0" stroke-linecap="butt"/>
<circle cx="158.20" cy="544.20" r="1.45" fill="#4a1a5e"/>
<circle cx="167.90" cy="545.60" r="1.45" fill="#4a1a5e"/>
<circle cx="163.00" cy="543.60" r="1.45" fill="#4a1a5e"/>
<circle cx="163.00" cy="553.90" r="1.45" fill="#4a1a5e"/>
<circle cx="158.20" cy="548.20" r="1.45" fill="#4a1a5e"/>
<rect x="173.90" y="544.20" width="11.80" height="62.60" fill="#ec8098" stroke="none" stroke-width="0"/>
<line x1="179.80" y1="543.60" x2="179.80" y2="545.60" stroke="#1a1a1a" stroke-width="1.0" stroke-linecap="butt"/>
<line x1="177.20" y1="543.60" x2="182.40" y2="543.60" stroke="#1a1a1a" stroke-width="1.0" stroke-linecap="butt"/>
<line x1="177.20" y1="545.60" x2="182.40" y2="545.60" stroke="#1a1a1a" stroke-width="1.0" stroke-linecap="butt"/>
<line x1="176.60" y1="544.20" x2="183.00" y2="544.20" stroke="#1a1a1a" stroke-width="1.0" stroke-linecap="butt"/>
<circle cx="175.30" cy="545.30" r="1.45" fill="#c0143c"/>
<circle cx="184.30" cy="544.90" r="1.45" fill="#c0143c"/>
<circle cx="180.00" cy="544.50" r="1.45" fill="#c0143c"/>
<rect x="191.00" y="554.20" width="11.80" height="52.60" fill="#8aafd2" stroke="none" stroke-width="0"/>
<line x1="196.90" y1="551.00" x2="196.90" y2="556.40" stroke="#1a1a1a" stroke-width="1.0" stroke-linecap="butt"/>
<line x1="194.30" y1="551.00" x2="199.50" y2="551.00" stroke="#1a1a1a" stroke-width="1.0" stroke-linecap="butt"/>
<line x1="194.30" y1="556.40" x2="199.50" y2="556.40" stroke="#1a1a1a" stroke-width="1.0" stroke-linecap="butt"/>
<line x1="193.70" y1="554.20" x2="200.10" y2="554.20" stroke="#1a1a1a" stroke-width="1.0" stroke-linecap="butt"/>
<circle cx="197.10" cy="549.30" r="1.45" fill="#1c4f8a"/>
<circle cx="192.40" cy="557.90" r="1.45" fill="#1c4f8a"/>
<circle cx="201.40" cy="554.60" r="1.45" fill="#1c4f8a"/>
<circle cx="197.10" cy="556.00" r="1.45" fill="#1c4f8a"/>
<rect x="207.50" y="567.40" width="11.90" height="39.40" fill="#a8dca2" stroke="none" stroke-width="0"/>
<line x1="213.45" y1="561.30" x2="213.45" y2="571.70" stroke="#1a1a1a" stroke-width="1.0" stroke-linecap="butt"/>
<line x1="210.85" y1="561.30" x2="216.05" y2="561.30" stroke="#1a1a1a" stroke-width="1.0" stroke-linecap="butt"/>
<line x1="210.85" y1="571.70" x2="216.05" y2="571.70" stroke="#1a1a1a" stroke-width="1.0" stroke-linecap="butt"/>
<line x1="210.25" y1="567.40" x2="216.65" y2="567.40" stroke="#1a1a1a" stroke-width="1.0" stroke-linecap="butt"/>
<circle cx="208.90" cy="551.00" r="1.45" fill="#3cb44b"/>
<circle cx="217.70" cy="553.60" r="1.45" fill="#3cb44b"/>
<circle cx="209.20" cy="561.30" r="1.45" fill="#3cb44b"/>
<circle cx="217.70" cy="562.40" r="1.45" fill="#3cb44b"/>
<circle cx="209.20" cy="572.40" r="1.45" fill="#3cb44b"/>
<circle cx="217.70" cy="572.40" r="1.45" fill="#3cb44b"/>
<circle cx="213.50" cy="592.00" r="1.45" fill="#3cb44b"/>
<line x1="153.00" y1="607.40" x2="153.00" y2="535.60" stroke="#000" stroke-width="1.3" stroke-linecap="butt"/>
<line x1="150.00" y1="538.20" x2="153.00" y2="538.20" stroke="#000" stroke-width="1.3" stroke-linecap="butt"/>
<text x="148.0" y="540.72" font-size="7.0" text-anchor="end" fill="#231f20" stroke="#231f20" stroke-width="0.2">100</text>
<line x1="150.00" y1="551.92" x2="153.00" y2="551.92" stroke="#000" stroke-width="1.3" stroke-linecap="butt"/>
<text x="148.0" y="554.44" font-size="7.0" text-anchor="end" fill="#231f20" stroke="#231f20" stroke-width="0.2">80</text>
<line x1="150.00" y1="565.64" x2="153.00" y2="565.64" stroke="#000" stroke-width="1.3" stroke-linecap="butt"/>
<text x="148.0" y="568.16" font-size="7.0" text-anchor="end" fill="#231f20" stroke="#231f20" stroke-width="0.2">60</text>
<line x1="150.00" y1="579.36" x2="153.00" y2="579.36" stroke="#000" stroke-width="1.3" stroke-linecap="butt"/>
<text x="148.0" y="581.88" font-size="7.0" text-anchor="end" fill="#231f20" stroke="#231f20" stroke-width="0.2">40</text>
<line x1="150.00" y1="593.08" x2="153.00" y2="593.08" stroke="#000" stroke-width="1.3" stroke-linecap="butt"/>
<text x="148.0" y="595.5999999999999" font-size="7.0" text-anchor="end" fill="#231f20" stroke="#231f20" stroke-width="0.2">20</text>
<line x1="150.00" y1="606.80" x2="153.00" y2="606.80" stroke="#000" stroke-width="1.3" stroke-linecap="butt"/>
<text x="148.0" y="609.3199999999999" font-size="7.0" text-anchor="end" fill="#231f20" stroke="#231f20" stroke-width="0.2">0</text>
<line x1="152.35" y1="606.80" x2="222.00" y2="606.80" stroke="#000" stroke-width="1.3" stroke-linecap="butt"/>
<line x1="163.20" y1="606.80" x2="163.20" y2="609.60" stroke="#000" stroke-width="1.3" stroke-linecap="butt"/>
<line x1="179.80" y1="606.80" x2="179.80" y2="609.60" stroke="#000" stroke-width="1.3" stroke-linecap="butt"/>
<line x1="196.90" y1="606.80" x2="196.90" y2="609.60" stroke="#000" stroke-width="1.3" stroke-linecap="butt"/>
<line x1="213.45" y1="606.80" x2="213.45" y2="609.60" stroke="#000" stroke-width="1.3" stroke-linecap="butt"/>
<line x1="162.20" y1="531.10" x2="214.60" y2="531.10" stroke="#3a3a3a" stroke-width="1.0" stroke-linecap="butt"/>
<line x1="214.60" y1="531.10" x2="214.60" y2="533.00" stroke="#3a3a3a" stroke-width="1.0" stroke-linecap="butt"/>
<text x="188.1" y="531.576" font-size="6.4" text-anchor="middle" fill="#2a2a2a" stroke="#2a2a2a" stroke-width="0.2" textLength="2.7" lengthAdjust="spacingAndGlyphs">*</text>
<line x1="177.90" y1="538.20" x2="214.60" y2="538.20" stroke="#3a3a3a" stroke-width="1.0" stroke-linecap="butt"/>
<line x1="214.60" y1="538.20" x2="214.60" y2="540.10" stroke="#3a3a3a" stroke-width="1.0" stroke-linecap="butt"/>
<text x="196.1" y="538.676" font-size="6.4" text-anchor="middle" fill="#2a2a2a" stroke="#2a2a2a" stroke-width="0.2" textLength="2.7" lengthAdjust="spacingAndGlyphs">*</text>
<text x="163.8" y="618.5" font-size="7.3" text-anchor="middle" fill="#231f20" stroke="#231f20" stroke-width="0.2" textLength="9.0" lengthAdjust="spacingAndGlyphs">CTL</text>
<text x="180.5" y="618.5" font-size="7.3" text-anchor="middle" fill="#231f20" stroke="#231f20" stroke-width="0.2" textLength="9.4" lengthAdjust="spacingAndGlyphs">Das</text>
<text x="196.0" y="618.5" font-size="7.3" text-anchor="middle" fill="#231f20" stroke="#231f20" stroke-width="0.2" textLength="11.0" lengthAdjust="spacingAndGlyphs">Tem</text>
<text x="214.0" y="618.5" font-size="7.3" text-anchor="middle" fill="#231f20" stroke="#231f20" stroke-width="0.2" textLength="18.6" lengthAdjust="spacingAndGlyphs">Combo</text>
<text x="130.6" y="568.2" font-size="7.6" text-anchor="middle" fill="#231f20" stroke="#231f20" stroke-width="0.2" textLength="37" lengthAdjust="spacingAndGlyphs" transform="rotate(-90 130.6 568.2)">% T-ALL (BM)</text>
<rect x="263.30" y="560.30" width="11.80" height="46.50" fill="#a98bc1" stroke="none" stroke-width="0"/>
<line x1="269.20" y1="556.70" x2="269.20" y2="562.10" stroke="#1a1a1a" stroke-width="1.0" stroke-linecap="butt"/>
<line x1="266.60" y1="556.70" x2="271.80" y2="556.70" stroke="#1a1a1a" stroke-width="1.0" stroke-linecap="butt"/>
<line x1="266.60" y1="562.10" x2="271.80" y2="562.10" stroke="#1a1a1a" stroke-width="1.0" stroke-linecap="butt"/>
<line x1="266.00" y1="560.30" x2="272.40" y2="560.30" stroke="#1a1a1a" stroke-width="1.0" stroke-linecap="butt"/>
<circle cx="269.40" cy="550.30" r="1.45" fill="#4a1a5e"/>
<circle cx="264.70" cy="561.00" r="1.45" fill="#4a1a5e"/>
<circle cx="273.90" cy="561.70" r="1.45" fill="#4a1a5e"/>
<circle cx="264.70" cy="565.30" r="1.45" fill="#4a1a5e"/>
<circle cx="269.40" cy="561.70" r="1.45" fill="#4a1a5e"/>
<rect x="279.90" y="556.40" width="11.80" height="50.40" fill="#ec8098" stroke="none" stroke-width="0"/>
<line x1="285.80" y1="555.00" x2="285.80" y2="558.90" stroke="#1a1a1a" stroke-width="1.0" stroke-linecap="butt"/>
<line x1="283.20" y1="555.00" x2="288.40" y2="555.00" stroke="#1a1a1a" stroke-width="1.0" stroke-linecap="butt"/>
<line x1="283.20" y1="558.90" x2="288.40" y2="558.90" stroke="#1a1a1a" stroke-width="1.0" stroke-linecap="butt"/>
<line x1="282.60" y1="556.40" x2="289.00" y2="556.40" stroke="#1a1a1a" stroke-width="1.0" stroke-linecap="butt"/>
<circle cx="281.30" cy="553.60" r="1.45" fill="#c0143c"/>
<circle cx="290.30" cy="557.40" r="1.45" fill="#c0143c"/>
<circle cx="285.60" cy="558.20" r="1.45" fill="#c0143c"/>
<circle cx="281.30" cy="560.70" r="1.45" fill="#c0143c"/>
<rect x="296.40" y="569.80" width="11.70" height="37.00" fill="#8aafd2" stroke="none" stroke-width="0"/>
<line x1="302.25" y1="563.10" x2="302.25" y2="576.40" stroke="#1a1a1a" stroke-width="1.0" stroke-linecap="butt"/>
<line x1="299.65" y1="563.10" x2="304.85" y2="563.10" stroke="#1a1a1a" stroke-width="1.0" stroke-linecap="butt"/>
<line x1="299.65" y1="576.40" x2="304.85" y2="576.40" stroke="#1a1a1a" stroke-width="1.0" stroke-linecap="butt"/>
<line x1="299.05" y1="569.80" x2="305.45" y2="569.80" stroke="#1a1a1a" stroke-width="1.0" stroke-linecap="butt"/>
<circle cx="302.10" cy="557.00" r="1.45" fill="#1c4f8a"/>
<circle cx="297.40" cy="577.40" r="1.45" fill="#1c4f8a"/>
<circle cx="306.90" cy="575.00" r="1.45" fill="#1c4f8a"/>
<rect x="313.50" y="582.80" width="10.90" height="24.00" fill="#a8dca2" stroke="none" stroke-width="0"/>
<line x1="318.95" y1="576.70" x2="318.95" y2="588.30" stroke="#1a1a1a" stroke-width="1.0" stroke-linecap="butt"/>
<line x1="316.35" y1="576.70" x2="321.55" y2="576.70" stroke="#1a1a1a" stroke-width="1.0" stroke-linecap="butt"/>
<line x1="316.35" y1="588.30" x2="321.55" y2="588.30" stroke="#1a1a1a" stroke-width="1.0" stroke-linecap="butt"/>
<line x1="315.75" y1="582.80" x2="322.15" y2="582.80" stroke="#1a1a1a" stroke-width="1.0" stroke-linecap="butt"/>
<circle cx="318.80" cy="562.70" r="1.45" fill="#3cb44b"/>
<circle cx="318.80" cy="569.50" r="1.45" fill="#3cb44b"/>
<circle cx="318.80" cy="573.80" r="1.45" fill="#3cb44b"/>
<circle cx="318.80" cy="579.80" r="1.45" fill="#3cb44b"/>
<circle cx="318.80" cy="588.30" r="1.45" fill="#3cb44b"/>
<circle cx="318.80" cy="598.30" r="1.45" fill="#3cb44b"/>
<circle cx="318.80" cy="604.80" r="1.45" fill="#3cb44b"/>
<line x1="259.40" y1="607.40" x2="259.40" y2="533.50" stroke="#000" stroke-width="1.3" stroke-linecap="butt"/>
<line x1="256.40" y1="536.10" x2="259.40" y2="536.10" stroke="#000" stroke-width="1.3" stroke-linecap="butt"/>
<text x="254.39999999999998" y="538.62" font-size="7.0" text-anchor="end" fill="#231f20" stroke="#231f20" stroke-width="0.2">100</text>
<line x1="256.40" y1="550.24" x2="259.40" y2="550.24" stroke="#000" stroke-width="1.3" stroke-linecap="butt"/>
<text x="254.39999999999998" y="552.76" font-size="7.0" text-anchor="end" fill="#231f20" stroke="#231f20" stroke-width="0.2">80</text>
<line x1="256.40" y1="564.38" x2="259.40" y2="564.38" stroke="#000" stroke-width="1.3" stroke-linecap="butt"/>
<text x="254.39999999999998" y="566.9" font-size="7.0" text-anchor="end" fill="#231f20" stroke="#231f20" stroke-width="0.2">60</text>
<line x1="256.40" y1="578.52" x2="259.40" y2="578.52" stroke="#000" stroke-width="1.3" stroke-linecap="butt"/>
<text x="254.39999999999998" y="581.04" font-size="7.0" text-anchor="end" fill="#231f20" stroke="#231f20" stroke-width="0.2">40</text>
<line x1="256.40" y1="592.66" x2="259.40" y2="592.66" stroke="#000" stroke-width="1.3" stroke-linecap="butt"/>
<text x="254.39999999999998" y="595.18" font-size="7.0" text-anchor="end" fill="#231f20" stroke="#231f20" stroke-width="0.2">20</text>
<line x1="256.40" y1="606.80" x2="259.40" y2="606.80" stroke="#000" stroke-width="1.3" stroke-linecap="butt"/>
<text x="254.39999999999998" y="609.3199999999999" font-size="7.0" text-anchor="end" fill="#231f20" stroke="#231f20" stroke-width="0.2">0</text>
<line x1="258.75" y1="606.80" x2="328.00" y2="606.80" stroke="#000" stroke-width="1.3" stroke-linecap="butt"/>
<line x1="269.20" y1="606.80" x2="269.20" y2="609.60" stroke="#000" stroke-width="1.3" stroke-linecap="butt"/>
<line x1="285.80" y1="606.80" x2="285.80" y2="609.60" stroke="#000" stroke-width="1.3" stroke-linecap="butt"/>
<line x1="302.25" y1="606.80" x2="302.25" y2="609.60" stroke="#000" stroke-width="1.3" stroke-linecap="butt"/>
<line x1="318.95" y1="606.80" x2="318.95" y2="609.60" stroke="#000" stroke-width="1.3" stroke-linecap="butt"/>
<line x1="268.20" y1="531.10" x2="319.70" y2="531.10" stroke="#3a3a3a" stroke-width="1.0" stroke-linecap="butt"/>
<line x1="319.70" y1="531.10" x2="319.70" y2="533.00" stroke="#3a3a3a" stroke-width="1.0" stroke-linecap="butt"/>
<text x="293.8" y="531.576" font-size="6.4" text-anchor="middle" fill="#2a2a2a" stroke="#2a2a2a" stroke-width="0.2" textLength="2.7" lengthAdjust="spacingAndGlyphs">*</text>
<line x1="283.90" y1="538.20" x2="319.70" y2="538.20" stroke="#3a3a3a" stroke-width="1.0" stroke-linecap="butt"/>
<line x1="319.70" y1="538.20" x2="319.70" y2="540.10" stroke="#3a3a3a" stroke-width="1.0" stroke-linecap="butt"/>
<text x="301.7" y="538.676" font-size="6.4" text-anchor="middle" fill="#2a2a2a" stroke="#2a2a2a" stroke-width="0.2" textLength="2.7" lengthAdjust="spacingAndGlyphs">*</text>
<text x="269.4" y="618.5" font-size="7.3" text-anchor="middle" fill="#231f20" stroke="#231f20" stroke-width="0.2" textLength="9.0" lengthAdjust="spacingAndGlyphs">CTL</text>
<text x="286.0" y="618.5" font-size="7.3" text-anchor="middle" fill="#231f20" stroke="#231f20" stroke-width="0.2" textLength="9.4" lengthAdjust="spacingAndGlyphs">Das</text>
<text x="301.6" y="618.5" font-size="7.3" text-anchor="middle" fill="#231f20" stroke="#231f20" stroke-width="0.2" textLength="11.0" lengthAdjust="spacingAndGlyphs">Tem</text>
<text x="320.3" y="618.5" font-size="7.3" text-anchor="middle" fill="#231f20" stroke="#231f20" stroke-width="0.2" textLength="18.6" lengthAdjust="spacingAndGlyphs">Combo</text>
<text x="237.4" y="567.7" font-size="7.6" text-anchor="middle" fill="#231f20" stroke="#231f20" stroke-width="0.2" textLength="46.6" lengthAdjust="spacingAndGlyphs" transform="rotate(-90 237.4 567.7)">% T-ALL (spleen)</text>
<text x="319.5" y="272.6" font-size="10" text-anchor="start" fill="#000" stroke="#000" stroke-width="0.2" font-weight="bold">F</text>
<polygon points="365.50,350.60 365.50,348.20 367.50,346.30 370.50,344.00 372.90,341.50 373.35,335.00 373.55,320.00 373.70,312.00 375.30,312.00 375.45,320.00 375.65,335.00 376.10,341.50 378.50,344.00 381.50,346.30 383.50,348.20 383.50,350.60" fill="#5a1f74"/>
<line x1="374.50" y1="312.50" x2="374.50" y2="312.00" stroke="#5a1f74" stroke-width="1.1" stroke-linecap="butt"/>
<circle cx="374.50" cy="292.10" r="0.85" fill="#5a1f74"/>
<circle cx="374.50" cy="293.30" r="0.85" fill="#5a1f74"/>
<circle cx="374.50" cy="295.70" r="0.85" fill="#5a1f74"/>
<circle cx="374.50" cy="301.70" r="0.85" fill="#5a1f74"/>
<circle cx="374.50" cy="305.30" r="0.85" fill="#5a1f74"/>
<circle cx="374.50" cy="307.70" r="0.85" fill="#5a1f74"/>
<circle cx="374.50" cy="310.80" r="0.85" fill="#5a1f74"/>
<circle cx="373.90" cy="328.74" r="0.45" fill="#3f0f55"/>
<circle cx="374.12" cy="320.97" r="0.45" fill="#3f0f55"/>
<circle cx="370.41" cy="346.58" r="0.45" fill="#3f0f55"/>
<circle cx="374.12" cy="314.47" r="0.45" fill="#3f0f55"/>
<circle cx="374.55" cy="321.37" r="0.45" fill="#3f0f55"/>
<circle cx="373.59" cy="336.75" r="0.45" fill="#3f0f55"/>
<circle cx="373.60" cy="329.68" r="0.45" fill="#3f0f55"/>
<circle cx="375.05" cy="312.17" r="0.45" fill="#3f0f55"/>
<circle cx="374.41" cy="320.81" r="0.45" fill="#3f0f55"/>
<circle cx="375.20" cy="326.24" r="0.45" fill="#3f0f55"/>
<circle cx="373.72" cy="320.87" r="0.45" fill="#3f0f55"/>
<circle cx="375.18" cy="334.88" r="0.45" fill="#3f0f55"/>
<circle cx="373.78" cy="319.40" r="0.45" fill="#3f0f55"/>
<circle cx="373.86" cy="331.53" r="0.45" fill="#3f0f55"/>
<circle cx="375.07" cy="334.98" r="0.45" fill="#3f0f55"/>
<circle cx="373.33" cy="337.33" r="0.45" fill="#3f0f55"/>
<circle cx="374.97" cy="336.29" r="0.45" fill="#3f0f55"/>
<circle cx="373.65" cy="325.32" r="0.45" fill="#3f0f55"/>
<circle cx="373.67" cy="324.95" r="0.45" fill="#3f0f55"/>
<circle cx="367.02" cy="350.10" r="0.45" fill="#3f0f55"/>
<circle cx="375.61" cy="339.90" r="0.45" fill="#3f0f55"/>
<circle cx="376.27" cy="343.04" r="0.45" fill="#3f0f55"/>
<circle cx="374.26" cy="327.58" r="0.45" fill="#3f0f55"/>
<circle cx="373.59" cy="335.66" r="0.45" fill="#3f0f55"/>
<circle cx="374.49" cy="313.20" r="0.45" fill="#3f0f55"/>
<circle cx="374.32" cy="330.42" r="0.45" fill="#3f0f55"/>
<circle cx="375.21" cy="342.32" r="0.45" fill="#3f0f55"/>
<circle cx="374.56" cy="317.89" r="0.45" fill="#3f0f55"/>
<circle cx="374.26" cy="336.88" r="0.45" fill="#3f0f55"/>
<circle cx="375.36" cy="322.33" r="0.45" fill="#3f0f55"/>
<circle cx="374.30" cy="337.44" r="0.45" fill="#3f0f55"/>
<circle cx="374.87" cy="313.96" r="0.45" fill="#3f0f55"/>
<circle cx="373.54" cy="345.67" r="0.45" fill="#3f0f55"/>
<circle cx="374.89" cy="312.69" r="0.45" fill="#3f0f55"/>
<circle cx="375.18" cy="342.56" r="0.45" fill="#3f0f55"/>
<circle cx="374.32" cy="326.89" r="0.45" fill="#3f0f55"/>
<circle cx="373.47" cy="347.89" r="0.45" fill="#3f0f55"/>
<circle cx="373.87" cy="317.97" r="0.45" fill="#3f0f55"/>
<circle cx="374.62" cy="315.45" r="0.45" fill="#3f0f55"/>
<circle cx="375.01" cy="325.90" r="0.45" fill="#3f0f55"/>
<circle cx="373.78" cy="316.95" r="0.45" fill="#3f0f55"/>
<circle cx="375.00" cy="317.43" r="0.45" fill="#3f0f55"/>
<circle cx="374.64" cy="327.11" r="0.45" fill="#3f0f55"/>
<circle cx="377.95" cy="347.33" r="0.45" fill="#3f0f55"/>
<circle cx="374.25" cy="318.54" r="0.45" fill="#3f0f55"/>
<line x1="365.70" y1="348.50" x2="383.30" y2="348.50" stroke="#111" stroke-width="1.3" stroke-linecap="butt"/>
<polygon points="389.60,350.60 389.60,348.50 392.60,347.00 395.10,345.00 397.00,342.70 397.50,338.00 397.70,334.00 399.50,334.00 399.70,338.00 400.20,342.70 402.10,345.00 404.60,347.00 407.60,348.50 407.60,350.60" fill="#3cb44b"/>
<line x1="398.60" y1="334.50" x2="398.60" y2="333.00" stroke="#3cb44b" stroke-width="1.1" stroke-linecap="butt"/>
<circle cx="398.60" cy="331.30" r="0.85" fill="#3cb44b"/>
<circle cx="397.99" cy="336.61" r="0.45" fill="#2a9a3a"/>
<circle cx="398.40" cy="335.08" r="0.45" fill="#2a9a3a"/>
<circle cx="401.18" cy="346.13" r="0.45" fill="#2a9a3a"/>
<circle cx="396.48" cy="346.96" r="0.45" fill="#2a9a3a"/>
<circle cx="392.88" cy="347.48" r="0.45" fill="#2a9a3a"/>
<circle cx="395.60" cy="348.70" r="0.45" fill="#2a9a3a"/>
<circle cx="399.21" cy="343.78" r="0.45" fill="#2a9a3a"/>
<circle cx="398.97" cy="335.39" r="0.45" fill="#2a9a3a"/>
<circle cx="401.13" cy="345.08" r="0.45" fill="#2a9a3a"/>
<circle cx="400.48" cy="344.31" r="0.45" fill="#2a9a3a"/>
<circle cx="399.15" cy="344.00" r="0.45" fill="#2a9a3a"/>
<circle cx="398.55" cy="337.16" r="0.45" fill="#2a9a3a"/>
<circle cx="397.01" cy="343.10" r="0.45" fill="#2a9a3a"/>
<circle cx="393.03" cy="349.11" r="0.45" fill="#2a9a3a"/>
<circle cx="397.79" cy="339.78" r="0.45" fill="#2a9a3a"/>
<circle cx="403.71" cy="349.63" r="0.45" fill="#2a9a3a"/>
<circle cx="399.33" cy="337.10" r="0.45" fill="#2a9a3a"/>
<circle cx="400.81" cy="347.56" r="0.45" fill="#2a9a3a"/>
<circle cx="397.56" cy="344.75" r="0.45" fill="#2a9a3a"/>
<circle cx="398.49" cy="340.28" r="0.45" fill="#2a9a3a"/>
<circle cx="402.27" cy="347.67" r="0.45" fill="#2a9a3a"/>
<circle cx="397.55" cy="344.45" r="0.45" fill="#2a9a3a"/>
<circle cx="398.38" cy="338.01" r="0.45" fill="#2a9a3a"/>
<circle cx="398.61" cy="339.92" r="0.45" fill="#2a9a3a"/>
<circle cx="397.67" cy="336.88" r="0.45" fill="#2a9a3a"/>
<circle cx="398.04" cy="349.88" r="0.45" fill="#2a9a3a"/>
<circle cx="398.91" cy="341.19" r="0.45" fill="#2a9a3a"/>
<circle cx="402.46" cy="347.19" r="0.45" fill="#2a9a3a"/>
<circle cx="397.51" cy="347.05" r="0.45" fill="#2a9a3a"/>
<circle cx="398.36" cy="335.08" r="0.45" fill="#2a9a3a"/>
<circle cx="399.31" cy="339.88" r="0.45" fill="#2a9a3a"/>
<circle cx="399.03" cy="342.12" r="0.45" fill="#2a9a3a"/>
<circle cx="397.98" cy="334.65" r="0.45" fill="#2a9a3a"/>
<circle cx="395.58" cy="348.85" r="0.45" fill="#2a9a3a"/>
<circle cx="395.39" cy="345.60" r="0.45" fill="#2a9a3a"/>
<circle cx="402.07" cy="346.11" r="0.45" fill="#2a9a3a"/>
<circle cx="400.18" cy="344.51" r="0.45" fill="#2a9a3a"/>
<circle cx="397.88" cy="334.42" r="0.45" fill="#2a9a3a"/>
<circle cx="399.49" cy="343.89" r="0.45" fill="#2a9a3a"/>
<circle cx="397.94" cy="335.76" r="0.45" fill="#2a9a3a"/>
<circle cx="395.35" cy="348.26" r="0.45" fill="#2a9a3a"/>
<circle cx="401.85" cy="347.06" r="0.45" fill="#2a9a3a"/>
<circle cx="400.02" cy="345.05" r="0.45" fill="#2a9a3a"/>
<circle cx="399.25" cy="337.56" r="0.45" fill="#2a9a3a"/>
<circle cx="397.47" cy="343.83" r="0.45" fill="#2a9a3a"/>
<line x1="389.90" y1="348.50" x2="407.30" y2="348.50" stroke="#111" stroke-width="1.3" stroke-linecap="butt"/>
<line x1="359.70" y1="351.40" x2="359.70" y2="281.20" stroke="#000" stroke-width="1.3" stroke-linecap="butt"/>
<line x1="356.70" y1="350.80" x2="359.70" y2="350.80" stroke="#000" stroke-width="1.3" stroke-linecap="butt"/>
<text x="351.09999999999997" y="353.5" font-size="7.5" text-anchor="end" fill="#231f20" stroke="#231f20" stroke-width="0.2">0</text>
<line x1="356.70" y1="334.10" x2="359.70" y2="334.10" stroke="#000" stroke-width="1.3" stroke-linecap="butt"/>
<text x="354.3" y="336.8" font-size="7.5" text-anchor="end" fill="#231f20" stroke="#231f20" stroke-width="0.2">1×10<tspan font-size="5.1" dy="-3.1">5</tspan></text>
<line x1="356.70" y1="317.40" x2="359.70" y2="317.40" stroke="#000" stroke-width="1.3" stroke-linecap="butt"/>
<text x="354.3" y="320.09999999999997" font-size="7.5" text-anchor="end" fill="#231f20" stroke="#231f20" stroke-width="0.2">2×10<tspan font-size="5.1" dy="-3.1">5</tspan></text>
<line x1="356.70" y1="301.20" x2="359.70" y2="301.20" stroke="#000" stroke-width="1.3" stroke-linecap="butt"/>
<text x="354.3" y="303.9" font-size="7.5" text-anchor="end" fill="#231f20" stroke="#231f20" stroke-width="0.2">3×10<tspan font-size="5.1" dy="-3.1">5</tspan></text>
<line x1="356.70" y1="283.80" x2="359.70" y2="283.80" stroke="#000" stroke-width="1.3" stroke-linecap="butt"/>
<text x="354.3" y="286.5" font-size="7.5" text-anchor="end" fill="#231f20" stroke="#231f20" stroke-width="0.2">4×10<tspan font-size="5.1" dy="-3.1">5</tspan></text>
<line x1="359.05" y1="350.80" x2="413.40" y2="350.80" stroke="#000" stroke-width="1.3" stroke-linecap="butt"/>
<line x1="374.50" y1="350.80" x2="374.50" y2="353.60" stroke="#000" stroke-width="1.3" stroke-linecap="butt"/>
<line x1="398.60" y1="350.80" x2="398.60" y2="353.60" stroke="#000" stroke-width="1.3" stroke-linecap="butt"/>
<text x="325.6" y="315.5" font-size="7.6" text-anchor="middle" fill="#231f20" stroke="#231f20" stroke-width="0.2" textLength="71" lengthAdjust="spacingAndGlyphs" transform="rotate(-90 325.6 315.5)">Absolute pS6K intensity</text>
<line x1="375.10" y1="287.00" x2="396.80" y2="287.00" stroke="#3a3a3a" stroke-width="1.0" stroke-linecap="butt"/>
<text x="386" y="287.476" font-size="6.4" text-anchor="middle" fill="#2a2a2a" stroke="#2a2a2a" stroke-width="0.2" textLength="10.8" lengthAdjust="spacingAndGlyphs">****</text>
<text x="374.8" y="362.6" font-size="7.3" text-anchor="middle" fill="#231f20" stroke="#231f20" stroke-width="0.2" textLength="9.1" lengthAdjust="spacingAndGlyphs">CTL</text>
<text x="398.5" y="362.6" font-size="7.3" text-anchor="middle" fill="#231f20" stroke="#231f20" stroke-width="0.2" textLength="18.4" lengthAdjust="spacingAndGlyphs">Combo</text>
<polygon points="477.10,350.60 476.10,349.50 474.60,347.50 474.60,345.10 477.10,341.50 479.60,337.90 481.10,335.50 481.60,330.00 481.90,312.60 484.30,312.60 484.60,330.00 485.10,335.50 486.60,337.90 489.10,341.50 491.60,345.10 491.60,347.50 490.10,349.50 489.10,350.60" fill="#5a1f74"/>
<line x1="483.10" y1="313.10" x2="483.10" y2="312.60" stroke="#5a1f74" stroke-width="1.1" stroke-linecap="butt"/>
<circle cx="483.10" cy="294.50" r="0.85" fill="#5a1f74"/>
<circle cx="483.10" cy="298.10" r="0.85" fill="#5a1f74"/>
<circle cx="483.10" cy="301.70" r="0.85" fill="#5a1f74"/>
<circle cx="483.10" cy="304.70" r="0.85" fill="#5a1f74"/>
<circle cx="483.39" cy="324.74" r="0.45" fill="#3f0f55"/>
<circle cx="482.43" cy="346.54" r="0.45" fill="#3f0f55"/>
<circle cx="484.24" cy="322.13" r="0.45" fill="#3f0f55"/>
<circle cx="483.36" cy="330.60" r="0.45" fill="#3f0f55"/>
<circle cx="482.10" cy="335.69" r="0.45" fill="#3f0f55"/>
<circle cx="482.32" cy="326.56" r="0.45" fill="#3f0f55"/>
<circle cx="483.46" cy="327.73" r="0.45" fill="#3f0f55"/>
<circle cx="482.67" cy="323.03" r="0.45" fill="#3f0f55"/>
<circle cx="483.86" cy="326.73" r="0.45" fill="#3f0f55"/>
<circle cx="483.76" cy="322.51" r="0.45" fill="#3f0f55"/>
<circle cx="483.89" cy="314.42" r="0.45" fill="#3f0f55"/>
<circle cx="482.47" cy="348.83" r="0.45" fill="#3f0f55"/>
<circle cx="483.68" cy="332.15" r="0.45" fill="#3f0f55"/>
<circle cx="479.31" cy="346.20" r="0.45" fill="#3f0f55"/>
<circle cx="484.22" cy="332.69" r="0.45" fill="#3f0f55"/>
<circle cx="481.91" cy="340.27" r="0.45" fill="#3f0f55"/>
<circle cx="482.76" cy="326.69" r="0.45" fill="#3f0f55"/>
<circle cx="482.71" cy="318.08" r="0.45" fill="#3f0f55"/>
<circle cx="482.49" cy="315.65" r="0.45" fill="#3f0f55"/>
<circle cx="484.84" cy="335.68" r="0.45" fill="#3f0f55"/>
<circle cx="483.14" cy="323.71" r="0.45" fill="#3f0f55"/>
<circle cx="484.27" cy="324.23" r="0.45" fill="#3f0f55"/>
<circle cx="489.66" cy="345.24" r="0.45" fill="#3f0f55"/>
<circle cx="486.67" cy="346.19" r="0.45" fill="#3f0f55"/>
<circle cx="480.40" cy="340.62" r="0.45" fill="#3f0f55"/>
<circle cx="483.41" cy="323.51" r="0.45" fill="#3f0f55"/>
<circle cx="482.74" cy="328.26" r="0.45" fill="#3f0f55"/>
<circle cx="483.07" cy="314.39" r="0.45" fill="#3f0f55"/>
<circle cx="481.43" cy="335.57" r="0.45" fill="#3f0f55"/>
<circle cx="483.25" cy="314.64" r="0.45" fill="#3f0f55"/>
<circle cx="483.16" cy="323.99" r="0.45" fill="#3f0f55"/>
<circle cx="482.83" cy="332.63" r="0.45" fill="#3f0f55"/>
<circle cx="482.18" cy="323.89" r="0.45" fill="#3f0f55"/>
<circle cx="483.95" cy="326.33" r="0.45" fill="#3f0f55"/>
<circle cx="481.96" cy="318.55" r="0.45" fill="#3f0f55"/>
<circle cx="485.64" cy="342.66" r="0.45" fill="#3f0f55"/>
<circle cx="481.93" cy="329.51" r="0.45" fill="#3f0f55"/>
<circle cx="483.49" cy="318.03" r="0.45" fill="#3f0f55"/>
<circle cx="483.87" cy="322.72" r="0.45" fill="#3f0f55"/>
<circle cx="477.13" cy="348.87" r="0.45" fill="#3f0f55"/>
<circle cx="488.27" cy="343.38" r="0.45" fill="#3f0f55"/>
<circle cx="483.37" cy="334.90" r="0.45" fill="#3f0f55"/>
<circle cx="483.16" cy="335.17" r="0.45" fill="#3f0f55"/>
<circle cx="482.14" cy="331.08" r="0.45" fill="#3f0f55"/>
<circle cx="482.15" cy="312.61" r="0.45" fill="#3f0f55"/>
<line x1="475.10" y1="345.70" x2="491.10" y2="345.70" stroke="#111" stroke-width="1.3" stroke-linecap="butt"/>
<polygon points="498.20,350.60 496.20,348.80 496.20,345.70 499.20,343.90 502.20,341.50 503.70,336.70 504.20,323.40 506.20,323.40 506.70,336.70 508.20,341.50 511.20,343.90 514.20,345.70 514.20,348.80 512.20,350.60" fill="#3cb44b"/>
<line x1="505.20" y1="323.90" x2="505.20" y2="323.40" stroke="#3cb44b" stroke-width="1.1" stroke-linecap="butt"/>
<circle cx="504.62" cy="324.07" r="0.45" fill="#2a9a3a"/>
<circle cx="506.06" cy="327.65" r="0.45" fill="#2a9a3a"/>
<circle cx="505.42" cy="326.20" r="0.45" fill="#2a9a3a"/>
<circle cx="503.66" cy="340.94" r="0.45" fill="#2a9a3a"/>
<circle cx="505.25" cy="334.43" r="0.45" fill="#2a9a3a"/>
<circle cx="505.92" cy="340.56" r="0.45" fill="#2a9a3a"/>
<circle cx="505.49" cy="334.49" r="0.45" fill="#2a9a3a"/>
<circle cx="503.95" cy="336.98" r="0.45" fill="#2a9a3a"/>
<circle cx="507.48" cy="340.11" r="0.45" fill="#2a9a3a"/>
<circle cx="505.02" cy="342.74" r="0.45" fill="#2a9a3a"/>
<circle cx="504.79" cy="337.78" r="0.45" fill="#2a9a3a"/>
<circle cx="506.27" cy="335.06" r="0.45" fill="#2a9a3a"/>
<circle cx="505.50" cy="325.55" r="0.45" fill="#2a9a3a"/>
<circle cx="506.25" cy="328.08" r="0.45" fill="#2a9a3a"/>
<circle cx="505.53" cy="330.38" r="0.45" fill="#2a9a3a"/>
<circle cx="505.99" cy="326.69" r="0.45" fill="#2a9a3a"/>
<circle cx="512.37" cy="348.10" r="0.45" fill="#2a9a3a"/>
<circle cx="504.18" cy="330.43" r="0.45" fill="#2a9a3a"/>
<circle cx="506.05" cy="340.38" r="0.45" fill="#2a9a3a"/>
<circle cx="507.65" cy="341.71" r="0.45" fill="#2a9a3a"/>
<circle cx="502.11" cy="349.35" r="0.45" fill="#2a9a3a"/>
<circle cx="511.59" cy="348.19" r="0.45" fill="#2a9a3a"/>
<circle cx="505.21" cy="325.68" r="0.45" fill="#2a9a3a"/>
<circle cx="506.05" cy="327.93" r="0.45" fill="#2a9a3a"/>
<circle cx="500.38" cy="345.87" r="0.45" fill="#2a9a3a"/>
<circle cx="506.07" cy="327.65" r="0.45" fill="#2a9a3a"/>
<circle cx="504.96" cy="328.52" r="0.45" fill="#2a9a3a"/>
<circle cx="504.69" cy="339.45" r="0.45" fill="#2a9a3a"/>
<circle cx="512.03" cy="346.15" r="0.45" fill="#2a9a3a"/>
<circle cx="510.18" cy="349.61" r="0.45" fill="#2a9a3a"/>
<circle cx="505.11" cy="337.72" r="0.45" fill="#2a9a3a"/>
<circle cx="503.63" cy="337.57" r="0.45" fill="#2a9a3a"/>
<circle cx="506.04" cy="324.11" r="0.45" fill="#2a9a3a"/>
<circle cx="506.06" cy="329.64" r="0.45" fill="#2a9a3a"/>
<circle cx="503.84" cy="344.47" r="0.45" fill="#2a9a3a"/>
<circle cx="505.46" cy="339.03" r="0.45" fill="#2a9a3a"/>
<circle cx="504.21" cy="327.98" r="0.45" fill="#2a9a3a"/>
<circle cx="505.44" cy="326.39" r="0.45" fill="#2a9a3a"/>
<circle cx="506.20" cy="327.72" r="0.45" fill="#2a9a3a"/>
<circle cx="502.02" cy="342.11" r="0.45" fill="#2a9a3a"/>
<circle cx="505.49" cy="327.10" r="0.45" fill="#2a9a3a"/>
<circle cx="504.39" cy="324.54" r="0.45" fill="#2a9a3a"/>
<circle cx="505.87" cy="324.65" r="0.45" fill="#2a9a3a"/>
<circle cx="502.06" cy="343.74" r="0.45" fill="#2a9a3a"/>
<circle cx="505.74" cy="348.89" r="0.45" fill="#2a9a3a"/>
<line x1="496.50" y1="346.30" x2="513.90" y2="346.30" stroke="#111" stroke-width="1.3" stroke-linecap="butt"/>
<line x1="467.60" y1="351.40" x2="467.60" y2="282.10" stroke="#000" stroke-width="1.3" stroke-linecap="butt"/>
<line x1="464.60" y1="350.80" x2="467.60" y2="350.80" stroke="#000" stroke-width="1.3" stroke-linecap="butt"/>
<text x="459.0" y="353.5" font-size="7.5" text-anchor="end" fill="#231f20" stroke="#231f20" stroke-width="0.2">0.0</text>
<line x1="464.60" y1="337.30" x2="467.60" y2="337.30" stroke="#000" stroke-width="1.3" stroke-linecap="butt"/>
<text x="462.20000000000005" y="340.0" font-size="7.5" text-anchor="end" fill="#231f20" stroke="#231f20" stroke-width="0.2">5.0×10<tspan font-size="5.1" dy="-3.1">4</tspan></text>
<line x1="464.60" y1="324.30" x2="467.60" y2="324.30" stroke="#000" stroke-width="1.3" stroke-linecap="butt"/>
<text x="462.20000000000005" y="327.0" font-size="7.5" text-anchor="end" fill="#231f20" stroke="#231f20" stroke-width="0.2">1.0×10<tspan font-size="5.1" dy="-3.1">5</tspan></text>
<line x1="464.60" y1="311.40" x2="467.60" y2="311.40" stroke="#000" stroke-width="1.3" stroke-linecap="butt"/>
<text x="462.20000000000005" y="314.09999999999997" font-size="7.5" text-anchor="end" fill="#231f20" stroke="#231f20" stroke-width="0.2">1.5×10<tspan font-size="5.1" dy="-3.1">5</tspan></text>
<line x1="464.60" y1="297.90" x2="467.60" y2="297.90" stroke="#000" stroke-width="1.3" stroke-linecap="butt"/>
<text x="462.20000000000005" y="300.59999999999997" font-size="7.5" text-anchor="end" fill="#231f20" stroke="#231f20" stroke-width="0.2">2.0×10<tspan font-size="5.1" dy="-3.1">5</tspan></text>
<line x1="464.60" y1="284.70" x2="467.60" y2="284.70" stroke="#000" stroke-width="1.3" stroke-linecap="butt"/>
<text x="462.20000000000005" y="287.4" font-size="7.5" text-anchor="end" fill="#231f20" stroke="#231f20" stroke-width="0.2">2.5×10<tspan font-size="5.1" dy="-3.1">5</tspan></text>
<line x1="466.95" y1="350.80" x2="520.00" y2="350.80" stroke="#000" stroke-width="1.3" stroke-linecap="butt"/>
<line x1="483.10" y1="350.80" x2="483.10" y2="353.60" stroke="#000" stroke-width="1.3" stroke-linecap="butt"/>
<line x1="505.20" y1="350.80" x2="505.20" y2="353.60" stroke="#000" stroke-width="1.3" stroke-linecap="butt"/>
<text x="430.6" y="316.6" font-size="7.6" text-anchor="middle" fill="#231f20" stroke="#231f20" stroke-width="0.2" textLength="69.5" lengthAdjust="spacingAndGlyphs" transform="rotate(-90 430.6 316.6)">Absolute pLCK intensity</text>
<line x1="483.10" y1="287.00" x2="503.00" y2="287.00" stroke="#3a3a3a" stroke-width="1.0" stroke-linecap="butt"/>
<text x="493.3" y="287.476" font-size="6.4" text-anchor="middle" fill="#2a2a2a" stroke="#2a2a2a" stroke-width="0.2" textLength="10.8" lengthAdjust="spacingAndGlyphs">****</text>
<text x="483.7" y="362.6" font-size="7.3" text-anchor="middle" fill="#231f20" stroke="#231f20" stroke-width="0.2" textLength="9.1" lengthAdjust="spacingAndGlyphs">CTL</text>
<text x="505" y="362.6" font-size="7.3" text-anchor="middle" fill="#231f20" stroke="#231f20" stroke-width="0.2" textLength="18.4" lengthAdjust="spacingAndGlyphs">Combo</text>
<text x="338.9" y="526.4" font-size="10" text-anchor="start" fill="#000" stroke="#000" stroke-width="0.2" font-weight="bold">K</text>
<polygon points="386.90,606.30 382.90,604.00 379.90,601.20 380.40,596.00 381.90,593.30 383.90,588.00 386.40,582.80 387.40,578.80 387.80,570.00 388.00,560.30 389.80,560.30 390.00,570.00 390.40,578.80 391.40,582.80 393.90,588.00 395.90,593.30 397.40,596.00 397.90,601.20 394.90,604.00 390.90,606.30" fill="#5a1f74"/>
<line x1="388.90" y1="560.80" x2="388.90" y2="557.70" stroke="#5a1f74" stroke-width="1.1" stroke-linecap="butt"/>
<circle cx="388.90" cy="545.20" r="0.85" fill="#5a1f74"/>
<circle cx="388.90" cy="556.40" r="0.85" fill="#5a1f74"/>
<circle cx="393.02" cy="590.72" r="0.45" fill="#3f0f55"/>
<circle cx="391.90" cy="594.91" r="0.45" fill="#3f0f55"/>
<circle cx="388.23" cy="577.88" r="0.45" fill="#3f0f55"/>
<circle cx="387.98" cy="569.60" r="0.45" fill="#3f0f55"/>
<circle cx="393.52" cy="603.78" r="0.45" fill="#3f0f55"/>
<circle cx="383.07" cy="594.82" r="0.45" fill="#3f0f55"/>
<circle cx="390.75" cy="594.72" r="0.45" fill="#3f0f55"/>
<circle cx="387.35" cy="582.15" r="0.45" fill="#3f0f55"/>
<circle cx="391.15" cy="596.57" r="0.45" fill="#3f0f55"/>
<circle cx="388.53" cy="573.79" r="0.45" fill="#3f0f55"/>
<circle cx="388.58" cy="572.26" r="0.45" fill="#3f0f55"/>
<circle cx="383.06" cy="602.90" r="0.45" fill="#3f0f55"/>
<circle cx="394.81" cy="595.10" r="0.45" fill="#3f0f55"/>
<circle cx="390.41" cy="595.53" r="0.45" fill="#3f0f55"/>
<circle cx="388.01" cy="582.10" r="0.45" fill="#3f0f55"/>
<circle cx="392.87" cy="594.45" r="0.45" fill="#3f0f55"/>
<circle cx="388.93" cy="561.73" r="0.45" fill="#3f0f55"/>
<circle cx="388.84" cy="564.80" r="0.45" fill="#3f0f55"/>
<circle cx="389.01" cy="562.50" r="0.45" fill="#3f0f55"/>
<circle cx="392.97" cy="593.02" r="0.45" fill="#3f0f55"/>
<circle cx="387.24" cy="586.61" r="0.45" fill="#3f0f55"/>
<circle cx="388.98" cy="580.27" r="0.45" fill="#3f0f55"/>
<circle cx="389.47" cy="573.51" r="0.45" fill="#3f0f55"/>
<circle cx="388.64" cy="562.77" r="0.45" fill="#3f0f55"/>
<circle cx="389.25" cy="564.68" r="0.45" fill="#3f0f55"/>
<circle cx="396.22" cy="598.10" r="0.45" fill="#3f0f55"/>
<circle cx="392.79" cy="587.44" r="0.45" fill="#3f0f55"/>
<circle cx="389.32" cy="583.89" r="0.45" fill="#3f0f55"/>
<circle cx="389.50" cy="567.58" r="0.45" fill="#3f0f55"/>
<circle cx="385.62" cy="603.27" r="0.45" fill="#3f0f55"/>
<circle cx="389.73" cy="567.89" r="0.45" fill="#3f0f55"/>
<circle cx="388.76" cy="595.42" r="0.45" fill="#3f0f55"/>
<circle cx="389.24" cy="605.69" r="0.45" fill="#3f0f55"/>
<circle cx="388.59" cy="565.09" r="0.45" fill="#3f0f55"/>
<circle cx="389.66" cy="564.66" r="0.45" fill="#3f0f55"/>
<circle cx="392.87" cy="601.15" r="0.45" fill="#3f0f55"/>
<circle cx="389.35" cy="579.63" r="0.45" fill="#3f0f55"/>
<circle cx="388.39" cy="577.34" r="0.45" fill="#3f0f55"/>
<circle cx="389.04" cy="579.91" r="0.45" fill="#3f0f55"/>
<circle cx="389.82" cy="568.14" r="0.45" fill="#3f0f55"/>
<circle cx="393.25" cy="589.19" r="0.45" fill="#3f0f55"/>
<circle cx="389.07" cy="566.11" r="0.45" fill="#3f0f55"/>
<circle cx="390.12" cy="591.87" r="0.45" fill="#3f0f55"/>
<circle cx="389.04" cy="561.85" r="0.45" fill="#3f0f55"/>
<circle cx="391.00" cy="584.20" r="0.45" fill="#3f0f55"/>
<line x1="380.10" y1="596.00" x2="397.70" y2="596.00" stroke="#111" stroke-width="1.3" stroke-linecap="butt"/>
<polygon points="409.70,606.30 404.70,603.00 402.70,600.00 403.70,596.00 405.70,592.00 408.20,588.00 409.70,585.40 410.50,575.00 410.80,562.30 412.60,562.30 412.90,575.00 413.70,585.40 415.20,588.00 417.70,592.00 419.70,596.00 420.70,600.00 418.70,603.00 413.70,606.30" fill="#3cb44b"/>
<line x1="411.70" y1="562.80" x2="411.70" y2="562.30" stroke="#3cb44b" stroke-width="1.1" stroke-linecap="butt"/>
<circle cx="411.70" cy="549.10" r="0.85" fill="#3cb44b"/>
<circle cx="411.70" cy="557.00" r="0.85" fill="#3cb44b"/>
<circle cx="411.87" cy="582.02" r="0.45" fill="#2a9a3a"/>
<circle cx="411.61" cy="576.46" r="0.45" fill="#2a9a3a"/>
<circle cx="408.97" cy="592.48" r="0.45" fill="#2a9a3a"/>
<circle cx="411.36" cy="572.42" r="0.45" fill="#2a9a3a"/>
<circle cx="413.48" cy="590.45" r="0.45" fill="#2a9a3a"/>
<circle cx="410.89" cy="584.54" r="0.45" fill="#2a9a3a"/>
<circle cx="416.21" cy="595.36" r="0.45" fill="#2a9a3a"/>
<circle cx="413.44" cy="589.34" r="0.45" fill="#2a9a3a"/>
<circle cx="413.30" cy="604.99" r="0.45" fill="#2a9a3a"/>
<circle cx="410.63" cy="588.71" r="0.45" fill="#2a9a3a"/>
<circle cx="412.64" cy="572.65" r="0.45" fill="#2a9a3a"/>
<circle cx="412.66" cy="573.63" r="0.45" fill="#2a9a3a"/>
<circle cx="410.11" cy="605.88" r="0.45" fill="#2a9a3a"/>
<circle cx="408.71" cy="591.12" r="0.45" fill="#2a9a3a"/>
<circle cx="411.03" cy="568.91" r="0.45" fill="#2a9a3a"/>
<circle cx="411.25" cy="575.53" r="0.45" fill="#2a9a3a"/>
<circle cx="410.87" cy="574.29" r="0.45" fill="#2a9a3a"/>
<circle cx="408.73" cy="602.22" r="0.45" fill="#2a9a3a"/>
<circle cx="411.16" cy="601.07" r="0.45" fill="#2a9a3a"/>
<circle cx="412.28" cy="562.85" r="0.45" fill="#2a9a3a"/>
<circle cx="410.85" cy="581.42" r="0.45" fill="#2a9a3a"/>
<circle cx="410.39" cy="605.26" r="0.45" fill="#2a9a3a"/>
<circle cx="411.30" cy="563.27" r="0.45" fill="#2a9a3a"/>
<circle cx="405.19" cy="594.63" r="0.45" fill="#2a9a3a"/>
<circle cx="412.43" cy="572.91" r="0.45" fill="#2a9a3a"/>
<circle cx="412.72" cy="593.01" r="0.45" fill="#2a9a3a"/>
<circle cx="414.91" cy="590.65" r="0.45" fill="#2a9a3a"/>
<circle cx="413.27" cy="591.55" r="0.45" fill="#2a9a3a"/>
<circle cx="413.87" cy="600.74" r="0.45" fill="#2a9a3a"/>
<circle cx="410.03" cy="587.87" r="0.45" fill="#2a9a3a"/>
<circle cx="410.96" cy="570.25" r="0.45" fill="#2a9a3a"/>
<circle cx="410.97" cy="581.24" r="0.45" fill="#2a9a3a"/>
<circle cx="416.31" cy="592.99" r="0.45" fill="#2a9a3a"/>
<circle cx="411.49" cy="572.92" r="0.45" fill="#2a9a3a"/>
<circle cx="407.52" cy="593.51" r="0.45" fill="#2a9a3a"/>
<circle cx="411.42" cy="599.51" r="0.45" fill="#2a9a3a"/>
<circle cx="412.29" cy="563.16" r="0.45" fill="#2a9a3a"/>
<circle cx="412.27" cy="585.00" r="0.45" fill="#2a9a3a"/>
<circle cx="417.84" cy="600.54" r="0.45" fill="#2a9a3a"/>
<circle cx="410.53" cy="576.67" r="0.45" fill="#2a9a3a"/>
<circle cx="418.08" cy="598.74" r="0.45" fill="#2a9a3a"/>
<circle cx="411.25" cy="566.96" r="0.45" fill="#2a9a3a"/>
<circle cx="412.14" cy="571.84" r="0.45" fill="#2a9a3a"/>
<circle cx="408.71" cy="603.97" r="0.45" fill="#2a9a3a"/>
<circle cx="412.57" cy="577.55" r="0.45" fill="#2a9a3a"/>
<line x1="403.20" y1="597.00" x2="420.20" y2="597.00" stroke="#111" stroke-width="1.3" stroke-linecap="butt"/>
<line x1="374.80" y1="607.20" x2="374.80" y2="533.30" stroke="#000" stroke-width="1.3" stroke-linecap="butt"/>
<line x1="371.80" y1="606.60" x2="374.80" y2="606.60" stroke="#000" stroke-width="1.3" stroke-linecap="butt"/>
<text x="366.2" y="609.3000000000001" font-size="7.5" text-anchor="end" fill="#231f20" stroke="#231f20" stroke-width="0.2">0</text>
<line x1="371.80" y1="593.10" x2="374.80" y2="593.10" stroke="#000" stroke-width="1.3" stroke-linecap="butt"/>
<text x="369.40000000000003" y="595.8000000000001" font-size="7.5" text-anchor="end" fill="#231f20" stroke="#231f20" stroke-width="0.2">2×10<tspan font-size="5.1" dy="-3.1">4</tspan></text>
<line x1="371.80" y1="579.10" x2="374.80" y2="579.10" stroke="#000" stroke-width="1.3" stroke-linecap="butt"/>
<text x="369.40000000000003" y="581.8000000000001" font-size="7.5" text-anchor="end" fill="#231f20" stroke="#231f20" stroke-width="0.2">4×10<tspan font-size="5.1" dy="-3.1">4</tspan></text>
<line x1="371.80" y1="564.70" x2="374.80" y2="564.70" stroke="#000" stroke-width="1.3" stroke-linecap="butt"/>
<text x="369.40000000000003" y="567.4000000000001" font-size="7.5" text-anchor="end" fill="#231f20" stroke="#231f20" stroke-width="0.2">6×10<tspan font-size="5.1" dy="-3.1">4</tspan></text>
<line x1="371.80" y1="550.70" x2="374.80" y2="550.70" stroke="#000" stroke-width="1.3" stroke-linecap="butt"/>
<text x="369.40000000000003" y="553.4000000000001" font-size="7.5" text-anchor="end" fill="#231f20" stroke="#231f20" stroke-width="0.2">8×10<tspan font-size="5.1" dy="-3.1">4</tspan></text>
<line x1="371.80" y1="535.90" x2="374.80" y2="535.90" stroke="#000" stroke-width="1.3" stroke-linecap="butt"/>
<text x="369.40000000000003" y="538.6" font-size="7.5" text-anchor="end" fill="#231f20" stroke="#231f20" stroke-width="0.2">1×10<tspan font-size="5.1" dy="-3.1">5</tspan></text>
<line x1="374.15" y1="606.60" x2="421.40" y2="606.60" stroke="#000" stroke-width="1.3" stroke-linecap="butt"/>
<line x1="388.90" y1="606.60" x2="388.90" y2="609.40" stroke="#000" stroke-width="1.3" stroke-linecap="butt"/>
<line x1="411.70" y1="606.60" x2="411.70" y2="609.40" stroke="#000" stroke-width="1.3" stroke-linecap="butt"/>
<text x="344.9" y="570.4" font-size="7.6" text-anchor="middle" fill="#231f20" stroke="#231f20" stroke-width="0.2" textLength="70.8" lengthAdjust="spacingAndGlyphs" transform="rotate(-90 344.9 570.4)">Absolute pS6K intensity</text>
<line x1="389.20" y1="535.00" x2="411.30" y2="535.00" stroke="#3a3a3a" stroke-width="1.0" stroke-linecap="butt"/>
<line x1="411.30" y1="535.00" x2="411.30" y2="537.30" stroke="#3a3a3a" stroke-width="1.0" stroke-linecap="butt"/>
<text x="400" y="535.476" font-size="6.4" text-anchor="middle" fill="#2a2a2a" stroke="#2a2a2a" stroke-width="0.2" textLength="2.7" lengthAdjust="spacingAndGlyphs">*</text>
<text x="388.8" y="619" font-size="7.3" text-anchor="middle" fill="#231f20" stroke="#231f20" stroke-width="0.2" textLength="9.1" lengthAdjust="spacingAndGlyphs">CTL</text>
<text x="411.4" y="619" font-size="7.3" text-anchor="middle" fill="#231f20" stroke="#231f20" stroke-width="0.2" textLength="18.4" lengthAdjust="spacingAndGlyphs">Combo</text>
<polygon points="474.40,606.90 474.40,605.00 476.90,603.00 479.90,600.00 481.40,598.60 481.70,585.00 481.90,570.90 483.90,570.90 484.10,585.00 484.40,598.60 485.90,600.00 488.90,603.00 491.40,605.00 491.40,606.90" fill="#5a1f74"/>
<line x1="482.90" y1="571.40" x2="482.90" y2="570.90" stroke="#5a1f74" stroke-width="1.1" stroke-linecap="butt"/>
<circle cx="482.90" cy="545.80" r="0.85" fill="#5a1f74"/>
<circle cx="482.90" cy="563.60" r="0.85" fill="#5a1f74"/>
<circle cx="482.24" cy="587.12" r="0.45" fill="#3f0f55"/>
<circle cx="481.80" cy="587.79" r="0.45" fill="#3f0f55"/>
<circle cx="482.44" cy="599.04" r="0.45" fill="#3f0f55"/>
<circle cx="483.41" cy="583.07" r="0.45" fill="#3f0f55"/>
<circle cx="484.00" cy="587.12" r="0.45" fill="#3f0f55"/>
<circle cx="482.93" cy="577.42" r="0.45" fill="#3f0f55"/>
<circle cx="485.90" cy="604.01" r="0.45" fill="#3f0f55"/>
<circle cx="483.24" cy="592.70" r="0.45" fill="#3f0f55"/>
<circle cx="482.66" cy="579.86" r="0.45" fill="#3f0f55"/>
<circle cx="482.11" cy="573.08" r="0.45" fill="#3f0f55"/>
<circle cx="484.40" cy="603.40" r="0.45" fill="#3f0f55"/>
<circle cx="483.10" cy="594.86" r="0.45" fill="#3f0f55"/>
<circle cx="482.53" cy="574.78" r="0.45" fill="#3f0f55"/>
<circle cx="483.88" cy="585.12" r="0.45" fill="#3f0f55"/>
<circle cx="490.46" cy="605.39" r="0.45" fill="#3f0f55"/>
<circle cx="482.32" cy="605.01" r="0.45" fill="#3f0f55"/>
<circle cx="483.74" cy="576.74" r="0.45" fill="#3f0f55"/>
<circle cx="483.46" cy="573.35" r="0.45" fill="#3f0f55"/>
<circle cx="483.18" cy="577.76" r="0.45" fill="#3f0f55"/>
<circle cx="483.72" cy="596.49" r="0.45" fill="#3f0f55"/>
<circle cx="483.22" cy="576.09" r="0.45" fill="#3f0f55"/>
<circle cx="484.70" cy="600.39" r="0.45" fill="#3f0f55"/>
<circle cx="483.98" cy="585.57" r="0.45" fill="#3f0f55"/>
<circle cx="483.30" cy="597.88" r="0.45" fill="#3f0f55"/>
<circle cx="482.82" cy="598.58" r="0.45" fill="#3f0f55"/>
<circle cx="482.11" cy="598.72" r="0.45" fill="#3f0f55"/>
<circle cx="483.39" cy="595.90" r="0.45" fill="#3f0f55"/>
<circle cx="485.64" cy="605.79" r="0.45" fill="#3f0f55"/>
<circle cx="483.60" cy="588.00" r="0.45" fill="#3f0f55"/>
<circle cx="482.34" cy="599.26" r="0.45" fill="#3f0f55"/>
<circle cx="482.45" cy="594.13" r="0.45" fill="#3f0f55"/>
<circle cx="483.18" cy="588.11" r="0.45" fill="#3f0f55"/>
<circle cx="483.65" cy="573.93" r="0.45" fill="#3f0f55"/>
<circle cx="482.52" cy="576.32" r="0.45" fill="#3f0f55"/>
<circle cx="482.01" cy="584.57" r="0.45" fill="#3f0f55"/>
<circle cx="482.48" cy="590.94" r="0.45" fill="#3f0f55"/>
<circle cx="483.32" cy="604.36" r="0.45" fill="#3f0f55"/>
<circle cx="483.07" cy="583.15" r="0.45" fill="#3f0f55"/>
<circle cx="482.17" cy="594.23" r="0.45" fill="#3f0f55"/>
<circle cx="482.51" cy="573.46" r="0.45" fill="#3f0f55"/>
<circle cx="483.09" cy="592.49" r="0.45" fill="#3f0f55"/>
<circle cx="480.51" cy="601.22" r="0.45" fill="#3f0f55"/>
<circle cx="483.54" cy="586.94" r="0.45" fill="#3f0f55"/>
<circle cx="482.71" cy="578.30" r="0.45" fill="#3f0f55"/>
<circle cx="483.16" cy="589.88" r="0.45" fill="#3f0f55"/>
<line x1="474.90" y1="604.50" x2="490.90" y2="604.50" stroke="#111" stroke-width="1.3" stroke-linecap="butt"/>
<polygon points="495.90,606.90 495.90,606.00 497.90,604.00 501.90,602.00 503.70,600.00 503.90,594.60 505.90,594.60 506.10,600.00 507.90,602.00 511.90,604.00 513.90,606.00 513.90,606.90" fill="#3cb44b"/>
<line x1="504.90" y1="595.10" x2="504.90" y2="594.60" stroke="#3cb44b" stroke-width="1.1" stroke-linecap="butt"/>
<circle cx="508.71" cy="602.72" r="0.45" fill="#2a9a3a"/>
<circle cx="505.65" cy="595.67" r="0.45" fill="#2a9a3a"/>
<circle cx="505.43" cy="601.07" r="0.45" fill="#2a9a3a"/>
<circle cx="504.89" cy="598.11" r="0.45" fill="#2a9a3a"/>
<circle cx="504.07" cy="597.11" r="0.45" fill="#2a9a3a"/>
<circle cx="507.21" cy="604.50" r="0.45" fill="#2a9a3a"/>
<circle cx="504.18" cy="595.98" r="0.45" fill="#2a9a3a"/>
<circle cx="505.60" cy="599.54" r="0.45" fill="#2a9a3a"/>
<circle cx="505.04" cy="600.18" r="0.45" fill="#2a9a3a"/>
<circle cx="505.98" cy="600.32" r="0.45" fill="#2a9a3a"/>
<circle cx="502.74" cy="602.86" r="0.45" fill="#2a9a3a"/>
<circle cx="505.09" cy="596.54" r="0.45" fill="#2a9a3a"/>
<circle cx="501.52" cy="603.27" r="0.45" fill="#2a9a3a"/>
<circle cx="505.30" cy="598.38" r="0.45" fill="#2a9a3a"/>
<circle cx="504.31" cy="600.47" r="0.45" fill="#2a9a3a"/>
<circle cx="504.73" cy="600.10" r="0.45" fill="#2a9a3a"/>
<circle cx="507.75" cy="606.40" r="0.45" fill="#2a9a3a"/>
<circle cx="504.63" cy="596.73" r="0.45" fill="#2a9a3a"/>
<circle cx="501.92" cy="602.23" r="0.45" fill="#2a9a3a"/>
<circle cx="505.33" cy="595.14" r="0.45" fill="#2a9a3a"/>
<circle cx="509.90" cy="606.39" r="0.45" fill="#2a9a3a"/>
<circle cx="504.87" cy="595.71" r="0.45" fill="#2a9a3a"/>
<circle cx="501.02" cy="603.53" r="0.45" fill="#2a9a3a"/>
<circle cx="504.73" cy="597.12" r="0.45" fill="#2a9a3a"/>
<circle cx="504.13" cy="596.10" r="0.45" fill="#2a9a3a"/>
<circle cx="503.83" cy="602.38" r="0.45" fill="#2a9a3a"/>
<circle cx="505.54" cy="603.79" r="0.45" fill="#2a9a3a"/>
<circle cx="501.65" cy="605.37" r="0.45" fill="#2a9a3a"/>
<circle cx="504.39" cy="598.64" r="0.45" fill="#2a9a3a"/>
<circle cx="504.51" cy="595.22" r="0.45" fill="#2a9a3a"/>
<circle cx="504.89" cy="598.79" r="0.45" fill="#2a9a3a"/>
<circle cx="505.90" cy="598.54" r="0.45" fill="#2a9a3a"/>
<circle cx="502.69" cy="604.90" r="0.45" fill="#2a9a3a"/>
<circle cx="504.88" cy="597.00" r="0.45" fill="#2a9a3a"/>
<circle cx="504.32" cy="595.99" r="0.45" fill="#2a9a3a"/>
<circle cx="501.53" cy="603.02" r="0.45" fill="#2a9a3a"/>
<circle cx="498.22" cy="606.08" r="0.45" fill="#2a9a3a"/>
<circle cx="503.26" cy="606.36" r="0.45" fill="#2a9a3a"/>
<circle cx="504.52" cy="601.14" r="0.45" fill="#2a9a3a"/>
<circle cx="504.45" cy="601.37" r="0.45" fill="#2a9a3a"/>
<circle cx="504.04" cy="595.88" r="0.45" fill="#2a9a3a"/>
<circle cx="504.57" cy="604.30" r="0.45" fill="#2a9a3a"/>
<circle cx="499.93" cy="603.64" r="0.45" fill="#2a9a3a"/>
<circle cx="505.03" cy="600.51" r="0.45" fill="#2a9a3a"/>
<circle cx="504.16" cy="599.04" r="0.45" fill="#2a9a3a"/>
<line x1="496.40" y1="605.20" x2="513.40" y2="605.20" stroke="#111" stroke-width="1.3" stroke-linecap="butt"/>
<line x1="468.80" y1="607.50" x2="468.80" y2="534.40" stroke="#000" stroke-width="1.3" stroke-linecap="butt"/>
<line x1="465.80" y1="606.90" x2="468.80" y2="606.90" stroke="#000" stroke-width="1.3" stroke-linecap="butt"/>
<text x="460.2" y="609.6" font-size="7.5" text-anchor="end" fill="#231f20" stroke="#231f20" stroke-width="0.2">0</text>
<line x1="465.80" y1="595.90" x2="468.80" y2="595.90" stroke="#000" stroke-width="1.3" stroke-linecap="butt"/>
<text x="463.40000000000003" y="598.6" font-size="7.5" text-anchor="end" fill="#231f20" stroke="#231f20" stroke-width="0.2">1×10<tspan font-size="5.1" dy="-3.1">5</tspan></text>
<line x1="465.80" y1="584.20" x2="468.80" y2="584.20" stroke="#000" stroke-width="1.3" stroke-linecap="butt"/>
<text x="463.40000000000003" y="586.9000000000001" font-size="7.5" text-anchor="end" fill="#231f20" stroke="#231f20" stroke-width="0.2">2×10<tspan font-size="5.1" dy="-3.1">5</tspan></text>
<line x1="465.80" y1="572.50" x2="468.80" y2="572.50" stroke="#000" stroke-width="1.3" stroke-linecap="butt"/>
<text x="463.40000000000003" y="575.2" font-size="7.5" text-anchor="end" fill="#231f20" stroke="#231f20" stroke-width="0.2">3×10<tspan font-size="5.1" dy="-3.1">5</tspan></text>
<line x1="465.80" y1="560.80" x2="468.80" y2="560.80" stroke="#000" stroke-width="1.3" stroke-linecap="butt"/>
<text x="463.40000000000003" y="563.5" font-size="7.5" text-anchor="end" fill="#231f20" stroke="#231f20" stroke-width="0.2">4×10<tspan font-size="5.1" dy="-3.1">5</tspan></text>
<line x1="465.80" y1="548.70" x2="468.80" y2="548.70" stroke="#000" stroke-width="1.3" stroke-linecap="butt"/>
<text x="463.40000000000003" y="551.4000000000001" font-size="7.5" text-anchor="end" fill="#231f20" stroke="#231f20" stroke-width="0.2">5×10<tspan font-size="5.1" dy="-3.1">5</tspan></text>
<line x1="465.80" y1="537.00" x2="468.80" y2="537.00" stroke="#000" stroke-width="1.3" stroke-linecap="butt"/>
<text x="463.40000000000003" y="539.7" font-size="7.5" text-anchor="end" fill="#231f20" stroke="#231f20" stroke-width="0.2">6×10<tspan font-size="5.1" dy="-3.1">5</tspan></text>
<line x1="468.15" y1="606.90" x2="515.50" y2="606.90" stroke="#000" stroke-width="1.3" stroke-linecap="butt"/>
<line x1="482.90" y1="606.90" x2="482.90" y2="609.70" stroke="#000" stroke-width="1.3" stroke-linecap="butt"/>
<line x1="504.90" y1="606.90" x2="504.90" y2="609.70" stroke="#000" stroke-width="1.3" stroke-linecap="butt"/>
<text x="440.0" y="570.6" font-size="7.6" text-anchor="middle" fill="#231f20" stroke="#231f20" stroke-width="0.2" textLength="71.2" lengthAdjust="spacingAndGlyphs" transform="rotate(-90 440.0 570.6)">Absolute pLCK intensity</text>
<line x1="482.80" y1="537.90" x2="502.60" y2="537.90" stroke="#3a3a3a" stroke-width="1.0" stroke-linecap="butt"/>
<text x="492.9" y="538.376" font-size="6.4" text-anchor="middle" fill="#2a2a2a" stroke="#2a2a2a" stroke-width="0.2" textLength="10.8" lengthAdjust="spacingAndGlyphs">****</text>
<text x="482.8" y="619" font-size="7.3" text-anchor="middle" fill="#231f20" stroke="#231f20" stroke-width="0.2" textLength="9.1" lengthAdjust="spacingAndGlyphs">CTL</text>
<text x="504.8" y="619" font-size="7.3" text-anchor="middle" fill="#231f20" stroke="#231f20" stroke-width="0.2" textLength="18.4" lengthAdjust="spacingAndGlyphs">Combo</text>
</svg>
</body></html>
